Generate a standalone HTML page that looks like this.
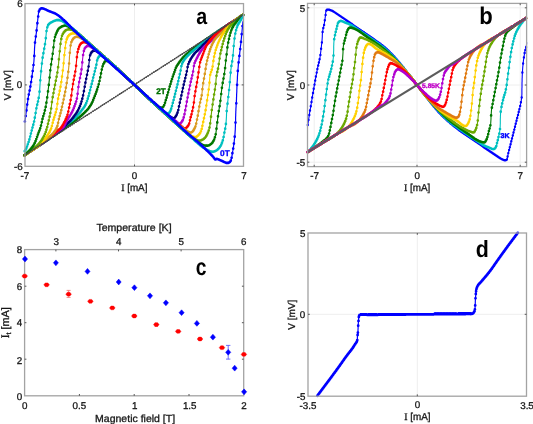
<!DOCTYPE html>
<html><head><meta charset="utf-8"><style>
html,body{margin:0;padding:0;background:#fff;overflow:hidden}
svg{display:block;will-change:transform}
text{font-family:"Liberation Sans",sans-serif;text-rendering:geometricPrecision}
</style></head><body>
<svg width="533" height="424" viewBox="0 0 533 424">
<rect width="533" height="424" fill="#fff"/>
<line x1="134.5" y1="3.6" x2="134.5" y2="166.3" stroke="#eeeeee" stroke-width="1"/>
<line x1="25" y1="84.9" x2="243.5" y2="84.9" stroke="#eeeeee" stroke-width="1"/>
<path d="M24.6 155.2L25.7 154.5L26.7 153.8L27.8 153.1L28.8 152.4L29.9 151.7L30.9 151.1L32.0 150.4L33.1 149.7L34.1 149.0L35.2 148.3L36.2 147.6L37.3 146.9L38.3 146.2L39.4 145.5L40.4 144.8L41.5 144.1L42.6 143.4L43.6 142.7L44.7 141.9L45.7 141.2L46.8 140.5L47.8 139.8L48.9 139.1L50.0 138.4L51.0 137.6L52.1 136.9L53.1 136.2L54.2 135.5L55.2 134.7L56.3 134.0L57.3 133.3L58.4 132.5L59.5 131.8L60.5 131.0L61.6 130.3L62.6 129.6L63.7 128.8L64.7 128.1L65.8 127.3L66.9 126.6L67.9 125.8L69.0 125.1L70.0 124.3L71.1 123.5L72.1 122.8L73.2 122.0L74.2 121.3L75.3 120.5L76.3 119.7L77.4 118.9L78.4 118.0L79.5 117.1L80.6 116.2L81.7 115.2L82.7 114.3L83.8 113.3L84.7 112.5L85.5 111.6L86.4 110.8L87.2 109.9L88.0 109.0L88.7 108.0L89.5 107.0L90.1 106.0L90.8 105.0L91.4 103.9L92.0 102.8L92.5 101.7L93.0 100.6L93.5 99.3L94.0 98.0L94.4 96.9L94.9 95.8L95.3 94.6L95.8 93.3L96.2 92.0L96.7 90.7L97.2 89.3L97.6 87.9L98.1 86.4L98.5 85.0L98.9 83.7L99.2 82.2L99.6 80.7L99.9 79.1L100.2 77.4L100.6 75.8L100.9 74.1L101.2 72.5L101.5 70.9L101.8 69.5L102.1 68.1L102.4 66.9L102.7 65.9L103.0 65.0L103.5 63.9L103.9 63.0L104.4 62.3L105.1 61.3L106.0 60.7L107.0 60.9L108.3 61.5L109.7 62.3L111.0 63.2L112.0 63.9L113.0 64.7L114.0 65.6L114.9 66.5L116.0 67.5L117.0 68.5L117.9 69.3L118.9 70.2L119.9 71.1L120.9 72.1L121.9 73.0L122.9 74.0L124.0 75.0L125.0 76.0L126.0 76.9L127.1 77.9L128.1 78.9L129.2 79.9L130.3 80.9L131.4 81.9L132.4 82.9L133.5 83.9L134.5 84.9L135.5 85.9L136.5 86.8L137.6 87.8L138.5 88.7L139.5 89.7L140.5 90.6L141.5 91.6L142.5 92.5L143.5 93.5L144.5 94.4L145.5 95.4L146.5 96.4L147.5 97.3L148.5 98.3L149.5 99.2L150.5 100.1L151.6 101.1L152.7 102.1L153.8 103.1L155.0 104.0L156.0 104.9L157.1 105.7L158.0 106.3L159.3 107.1L160.4 107.6L161.5 107.8L162.6 107.4L163.5 106.5L164.0 105.6L164.5 104.5L164.9 103.2L165.3 101.8L165.7 100.5L166.1 99.1L166.5 97.8L167.0 96.4L167.4 94.9L167.8 93.4L168.2 92.1L168.6 90.7L168.9 89.3L169.3 87.9L169.7 86.4L170.2 85.0L170.6 83.5L171.0 82.2L171.4 80.9L171.8 79.6L172.3 78.2L172.7 76.9L173.2 75.5L173.6 74.3L174.0 73.1L174.4 72.0L174.9 70.5L175.4 69.1L175.9 67.9L176.5 66.6L177.1 65.5L177.7 64.5L178.4 63.5L179.2 62.5L179.9 61.5L180.7 60.5L181.5 59.4L182.4 58.4L183.2 57.3L184.1 56.4L185.1 55.4L186.2 54.4L187.3 53.5L188.4 52.6L189.5 51.7L190.5 50.8L191.6 50.0L192.6 49.2L193.6 48.4L194.6 47.7L195.6 47.0L196.6 46.2L197.6 45.5L198.6 44.8L199.6 44.0L200.6 43.3L201.6 42.6L202.6 41.9L203.6 41.2L204.6 40.4L205.6 39.7L206.6 39.0L207.6 38.3L208.6 37.6L209.6 36.9L210.6 36.3L211.6 35.6L212.6 34.9L213.6 34.2L214.6 33.5L215.6 32.8L216.6 32.2L217.6 31.5L218.6 30.8L219.6 30.2L220.6 29.5L221.6 28.8L222.6 28.2L223.6 27.5L224.6 26.9L225.6 26.2L226.6 25.5L227.6 24.9L228.6 24.2L229.6 23.6L230.6 22.9L231.6 22.3L232.6 21.6L233.6 21.0L234.6 20.3L235.6 19.7L236.6 19.1L237.6 18.4L238.6 17.8L239.6 17.1L240.6 16.5L241.6 15.8L242.6 15.2L243.6 14.6" fill="none" stroke="#007000" stroke-width="1.15" stroke-linejoin="round"/><path d="M24.6 155.2h0M25.4 154.7h0M26.2 154.2h0M26.9 153.6h0M27.7 153.1h0M28.5 152.6h0M29.3 152.1h0M30.1 151.6h0M30.8 151.1h0M31.6 150.6h0M32.4 150.1h0M33.2 149.6h0M34.0 149.1h0M34.7 148.6h0M35.5 148.0h0M36.3 147.5h0M37.1 147.0h0M37.9 146.5h0M38.6 146.0h0M39.4 145.5h0M40.2 144.9h0M41.0 144.4h0M41.8 143.9h0M42.5 143.4h0M43.3 142.9h0M44.1 142.3h0M44.9 141.8h0M45.7 141.3h0M46.4 140.7h0M47.2 140.2h0M48.0 139.7h0M48.8 139.2h0M49.6 138.6h0M50.3 138.1h0M51.1 137.6h0M51.9 137.0h0M52.7 136.5h0M53.5 135.9h0M54.2 135.4h0M55.0 134.9h0M55.8 134.3h0M56.6 133.8h0M57.4 133.2h0M58.1 132.7h0M58.9 132.2h0M59.7 131.6h0M60.5 131.1h0M61.3 130.5h0M62.0 130.0h0M62.8 129.4h0M63.6 128.9h0M64.4 128.3h0M65.2 127.8h0M65.9 127.2h0M66.7 126.7h0M67.5 126.1h0M68.3 125.5h0M69.1 125.0h0M69.8 124.4h0M70.6 123.9h0M71.4 123.3h0M72.2 122.8h0M73.0 122.2h0M73.7 121.6h0M74.5 121.1h0M75.3 120.5h0M76.1 119.9h0M76.9 119.3h0M77.6 118.6h0M78.4 118.0h0M79.2 117.4h0M80.0 116.7h0M80.8 116.0h0M81.5 115.4h0M82.3 114.7h0M83.1 114.0h0M83.9 113.2h0M84.7 112.5h0M85.4 111.7h0M86.2 111.0h0M87.0 110.1h0M87.8 109.3h0M88.6 108.3h0M89.3 107.2h0M90.1 106.1h0M90.9 104.8h0M91.7 103.4h0M92.5 101.8h0M93.2 99.9h0M94.0 97.9h0M94.8 95.9h0M95.6 93.9h0M96.4 91.7h0M97.1 89.4h0M97.9 87.0h0M98.7 84.3h0M99.5 81.0h0M100.3 77.3h0M101.0 73.4h0M101.8 69.6h0M102.6 66.3h0M103.4 64.1h0M104.2 62.7h0M104.9 61.5h0M105.7 60.9h0M106.5 60.8h0M107.3 61.0h0M108.1 61.3h0M108.8 61.8h0M109.6 62.3h0M110.4 62.8h0M111.2 63.3h0M112.0 63.9h0M112.7 64.5h0M113.5 65.2h0M114.3 65.9h0M115.1 66.7h0M115.9 67.4h0M116.6 68.1h0M117.4 68.8h0M118.2 69.6h0M119.0 70.3h0M119.8 71.0h0M120.5 71.7h0M121.3 72.5h0M122.1 73.2h0M122.9 74.0h0M123.7 74.7h0M124.4 75.4h0M125.2 76.2h0M126.0 76.9h0M126.8 77.6h0M127.6 78.4h0M128.3 79.1h0M129.1 79.8h0M129.9 80.6h0M130.7 81.3h0M131.5 82.0h0M132.2 82.8h0M133.0 83.5h0M133.8 84.2h0M134.6 85.0h0M135.4 85.7h0M136.1 86.5h0M136.9 87.2h0M137.7 87.9h0M138.5 88.7h0M139.3 89.4h0M140.0 90.2h0M140.8 90.9h0M141.6 91.6h0M142.4 92.4h0M143.2 93.1h0M143.9 93.9h0M144.7 94.6h0M145.5 95.4h0M146.3 96.2h0M147.1 96.9h0M147.8 97.6h0M148.6 98.4h0M149.4 99.1h0M150.2 99.8h0M151.0 100.5h0M151.7 101.2h0M152.5 101.9h0M153.3 102.6h0M154.1 103.3h0M154.9 103.9h0M155.6 104.6h0M156.4 105.2h0M157.2 105.8h0M158.0 106.3h0M158.8 106.8h0M159.5 107.2h0M160.3 107.6h0M161.1 107.7h0M161.9 107.7h0M162.7 107.3h0M163.4 106.6h0M164.2 105.1h0M165.0 102.8h0M165.8 100.2h0M166.6 97.7h0M167.3 95.0h0M168.1 92.3h0M168.9 89.5h0M169.7 86.6h0M170.5 84.0h0M171.2 81.4h0M172.0 79.0h0M172.8 76.6h0M173.6 74.3h0M174.4 72.1h0M175.1 69.9h0M175.9 67.8h0M176.7 66.2h0M177.5 64.9h0M178.3 63.8h0M179.0 62.7h0M179.8 61.6h0M180.6 60.6h0M181.4 59.6h0M182.2 58.6h0M182.9 57.7h0M183.7 56.8h0M184.5 56.0h0M185.3 55.3h0M186.1 54.6h0M186.8 53.9h0M187.6 53.3h0M188.4 52.6h0M189.2 51.9h0M190.0 51.3h0M190.7 50.7h0M191.5 50.0h0M192.3 49.4h0M193.1 48.8h0M193.9 48.2h0M194.6 47.7h0M195.4 47.1h0M196.2 46.5h0M197.0 45.9h0M197.8 45.4h0M198.5 44.8h0M199.3 44.2h0M200.1 43.7h0M200.9 43.1h0M201.7 42.5h0M202.4 42.0h0M203.2 41.4h0M204.0 40.9h0M204.8 40.3h0M205.6 39.8h0M206.3 39.2h0M207.1 38.7h0M207.9 38.1h0M208.7 37.6h0M209.5 37.0h0M210.2 36.5h0M211.0 36.0h0M211.8 35.4h0M212.6 34.9h0M213.4 34.4h0M214.1 33.8h0M214.9 33.3h0M215.7 32.8h0M216.5 32.3h0M217.3 31.7h0M218.0 31.2h0M218.8 30.7h0M219.6 30.2h0M220.4 29.6h0M221.2 29.1h0M221.9 28.6h0M222.7 28.1h0M223.5 27.6h0M224.3 27.1h0M225.1 26.6h0M225.8 26.0h0M226.6 25.5h0M227.4 25.0h0M228.2 24.5h0M229.0 24.0h0M229.7 23.5h0M230.5 23.0h0M231.3 22.5h0M232.1 22.0h0M232.9 21.5h0M233.6 21.0h0M234.4 20.5h0M235.2 20.0h0M236.0 19.5h0M236.8 19.0h0M237.5 18.5h0M238.3 17.9h0M239.1 17.4h0M239.9 16.9h0M240.7 16.4h0M241.4 15.9h0M242.2 15.4h0M243.0 14.9h0" fill="none" stroke="#007000" stroke-width="2.7" stroke-linecap="round"/>
<path d="M24.6 155.2L25.6 154.5L26.7 153.8L27.7 153.1L28.8 152.5L29.8 151.8L30.8 151.1L31.9 150.4L32.9 149.7L33.9 149.0L35.0 148.3L36.0 147.6L37.1 146.9L38.1 146.1L39.1 145.4L40.2 144.7L41.2 144.0L42.3 143.2L43.3 142.5L44.3 141.7L45.4 141.0L46.4 140.2L47.4 139.5L48.5 138.7L49.5 138.0L50.6 137.2L51.6 136.4L52.6 135.6L53.7 134.9L54.7 134.1L55.8 133.3L56.8 132.5L57.8 131.7L58.9 130.9L59.9 130.1L60.9 129.3L62.0 128.5L63.0 127.7L64.0 126.9L65.1 126.0L66.1 125.2L67.2 124.3L68.2 123.5L69.3 122.6L70.4 121.8L71.5 120.9L72.5 120.1L73.6 119.2L74.7 118.2L75.7 117.2L76.8 116.1L77.8 115.0L78.7 114.0L79.6 113.0L80.4 112.0L81.3 110.9L82.1 109.9L82.8 108.9L83.6 107.9L84.2 106.9L84.9 105.9L85.5 104.8L86.1 103.6L86.6 102.3L87.1 101.0L87.5 99.5L88.0 98.0L88.4 96.8L88.7 95.5L89.1 94.1L89.5 92.7L89.9 91.2L90.2 89.7L90.6 88.2L91.0 86.6L91.4 85.0L91.7 83.7L92.1 82.3L92.5 80.8L92.8 79.3L93.2 77.7L93.6 76.1L94.0 74.5L94.4 73.0L94.8 71.5L95.1 70.0L95.5 68.6L95.8 67.3L96.0 66.1L96.3 65.0L96.6 63.5L96.8 62.3L97.0 61.1L97.2 60.0L97.6 59.0L98.3 57.6L99.1 56.3L100.1 55.6L101.3 55.7L102.6 56.4L104.0 57.3L104.9 57.9L105.9 58.7L106.9 59.5L107.9 60.3L108.9 61.2L110.0 62.2L111.0 63.0L111.9 63.8L112.9 64.7L113.9 65.7L115.0 66.6L116.0 67.5L117.0 68.5L118.0 69.4L119.0 70.3L120.0 71.2L121.0 72.2L122.0 73.1L123.0 74.1L124.0 75.0L125.0 76.0L126.0 76.9L127.1 77.9L128.1 78.9L129.2 79.9L130.3 80.9L131.3 81.9L132.4 82.9L133.4 83.9L134.5 84.9L135.5 85.9L136.5 86.8L137.5 87.8L138.5 88.7L139.5 89.7L140.5 90.6L141.5 91.6L142.5 92.5L143.5 93.5L144.5 94.4L145.5 95.4L146.5 96.3L147.5 97.3L148.5 98.2L149.5 99.2L150.5 100.1L151.5 101.0L152.5 102.0L153.5 103.0L154.5 103.9L155.6 104.9L156.6 105.8L157.5 106.6L158.5 107.4L159.8 108.4L161.0 109.4L162.2 110.2L163.4 111.0L164.5 111.7L165.9 112.6L167.2 113.4L168.3 113.6L169.2 113.0L169.9 111.8L170.6 110.4L171.1 109.2L171.5 107.8L171.9 106.3L172.3 104.8L172.7 103.3L173.1 101.9L173.4 100.6L173.8 99.2L174.2 97.8L174.5 96.3L174.9 94.8L175.2 93.5L175.6 92.1L175.9 90.7L176.3 89.3L176.7 87.8L177.0 86.4L177.4 84.9L177.7 83.5L178.0 82.1L178.4 80.6L178.7 79.1L179.1 77.6L179.4 76.2L179.7 74.7L180.0 73.3L180.3 72.0L180.6 70.6L180.8 69.1L181.1 67.8L181.3 66.5L181.6 65.2L182.0 64.0L182.6 62.6L183.3 61.3L184.1 60.1L185.0 58.9L185.8 57.9L186.6 57.0L187.4 56.1L188.3 55.2L189.2 54.3L190.3 53.3L191.3 52.3L192.4 51.3L193.5 50.4L194.5 49.5L195.5 48.7L196.6 47.9L197.7 47.0L198.7 46.1L199.8 45.2L200.9 44.2L202.0 43.2L203.1 42.3L204.0 41.5L205.1 40.7L206.1 39.9L207.0 39.2L208.1 38.5L209.1 37.7L210.1 37.0L211.1 36.3L212.1 35.5L213.1 34.8L214.2 34.1L215.2 33.4L216.2 32.7L217.2 32.0L218.2 31.3L219.2 30.6L220.2 29.9L221.3 29.2L222.3 28.5L223.3 27.8L224.3 27.1L225.3 26.4L226.3 25.8L227.4 25.1L228.4 24.4L229.4 23.8L230.4 23.1L231.4 22.4L232.4 21.8L233.4 21.1L234.5 20.4L235.5 19.8L236.5 19.1L237.5 18.5L238.5 17.8L239.5 17.2L240.6 16.5L241.6 15.9L242.6 15.2L243.6 14.6" fill="none" stroke="#00bcbc" stroke-width="1.15" stroke-linejoin="round"/><path d="M24.6 155.2h0M25.4 154.7h0M26.2 154.1h0M26.9 153.6h0M27.7 153.1h0M28.5 152.6h0M29.3 152.1h0M30.1 151.6h0M30.8 151.1h0M31.6 150.6h0M32.4 150.0h0M33.2 149.5h0M34.0 149.0h0M34.7 148.4h0M35.5 147.9h0M36.3 147.4h0M37.1 146.8h0M37.9 146.3h0M38.6 145.8h0M39.4 145.2h0M40.2 144.7h0M41.0 144.1h0M41.8 143.6h0M42.5 143.0h0M43.3 142.5h0M44.1 141.9h0M44.9 141.3h0M45.7 140.8h0M46.4 140.2h0M47.2 139.6h0M48.0 139.1h0M48.8 138.5h0M49.6 137.9h0M50.3 137.4h0M51.1 136.8h0M51.9 136.2h0M52.7 135.6h0M53.5 135.0h0M54.2 134.4h0M55.0 133.8h0M55.8 133.3h0M56.6 132.7h0M57.4 132.1h0M58.1 131.5h0M58.9 130.9h0M59.7 130.3h0M60.5 129.6h0M61.3 129.0h0M62.0 128.4h0M62.8 127.8h0M63.6 127.2h0M64.4 126.6h0M65.2 126.0h0M65.9 125.3h0M66.7 124.7h0M67.5 124.1h0M68.3 123.4h0M69.1 122.8h0M69.8 122.2h0M70.6 121.6h0M71.4 121.0h0M72.2 120.4h0M73.0 119.7h0M73.7 119.1h0M74.5 118.4h0M75.3 117.6h0M76.1 116.8h0M76.9 116.0h0M77.6 115.2h0M78.4 114.3h0M79.2 113.4h0M80.0 112.5h0M80.8 111.6h0M81.5 110.6h0M82.3 109.6h0M83.1 108.6h0M83.9 107.5h0M84.7 106.3h0M85.4 104.9h0M86.2 103.2h0M87.0 101.1h0M87.8 98.7h0M88.6 96.1h0M89.3 93.2h0M90.1 90.1h0M90.9 87.0h0M91.7 83.9h0M92.5 80.8h0M93.2 77.6h0M94.0 74.5h0M94.8 71.3h0M95.6 68.1h0M96.4 64.7h0M97.1 60.4h0M97.9 58.3h0M98.7 56.9h0M99.5 56.0h0M100.3 55.6h0M101.0 55.7h0M101.8 56.0h0M102.6 56.4h0M103.4 56.9h0M104.2 57.4h0M104.9 57.9h0M105.7 58.5h0M106.5 59.1h0M107.3 59.8h0M108.1 60.5h0M108.8 61.1h0M109.6 61.8h0M110.4 62.5h0M111.2 63.2h0M112.0 63.9h0M112.7 64.6h0M113.5 65.3h0M114.3 66.0h0M115.1 66.7h0M115.9 67.4h0M116.6 68.1h0M117.4 68.9h0M118.2 69.6h0M119.0 70.3h0M119.8 71.0h0M120.5 71.8h0M121.3 72.5h0M122.1 73.2h0M122.9 74.0h0M123.7 74.7h0M124.4 75.4h0M125.2 76.2h0M126.0 76.9h0M126.8 77.6h0M127.6 78.4h0M128.3 79.1h0M129.1 79.8h0M129.9 80.6h0M130.7 81.3h0M131.5 82.0h0M132.2 82.8h0M133.0 83.5h0M133.8 84.2h0M134.6 85.0h0M135.4 85.7h0M136.1 86.5h0M136.9 87.2h0M137.7 87.9h0M138.5 88.7h0M139.3 89.4h0M140.0 90.2h0M140.8 90.9h0M141.6 91.6h0M142.4 92.4h0M143.2 93.1h0M143.9 93.9h0M144.7 94.6h0M145.5 95.4h0M146.3 96.1h0M147.1 96.9h0M147.8 97.6h0M148.6 98.3h0M149.4 99.1h0M150.2 99.8h0M151.0 100.5h0M151.7 101.3h0M152.5 102.0h0M153.3 102.8h0M154.1 103.5h0M154.9 104.2h0M155.6 104.9h0M156.4 105.7h0M157.2 106.3h0M158.0 107.0h0M158.8 107.6h0M159.5 108.3h0M160.3 108.9h0M161.1 109.4h0M161.9 110.0h0M162.7 110.5h0M163.4 111.0h0M164.2 111.5h0M165.0 112.0h0M165.8 112.6h0M166.6 113.0h0M167.3 113.4h0M168.1 113.6h0M168.9 113.2h0M169.7 112.2h0M170.5 110.7h0M171.2 108.7h0M172.0 106.0h0M172.8 102.9h0M173.6 100.0h0M174.4 96.9h0M175.1 93.9h0M175.9 90.8h0M176.7 87.6h0M177.5 84.4h0M178.3 81.1h0M179.0 77.7h0M179.8 74.2h0M180.6 70.5h0M181.4 66.1h0M182.2 63.6h0M182.9 62.0h0M183.7 60.7h0M184.5 59.6h0M185.3 58.5h0M186.1 57.6h0M186.8 56.7h0M187.6 55.9h0M188.4 55.1h0M189.2 54.3h0M190.0 53.6h0M190.7 52.8h0M191.5 52.1h0M192.3 51.4h0M193.1 50.8h0M193.9 50.1h0M194.6 49.5h0M195.4 48.8h0M196.2 48.2h0M197.0 47.6h0M197.8 46.9h0M198.5 46.3h0M199.3 45.6h0M200.1 44.9h0M200.9 44.2h0M201.7 43.5h0M202.4 42.8h0M203.2 42.2h0M204.0 41.5h0M204.8 40.9h0M205.6 40.3h0M206.3 39.7h0M207.1 39.2h0M207.9 38.6h0M208.7 38.0h0M209.5 37.4h0M210.2 36.9h0M211.0 36.3h0M211.8 35.8h0M212.6 35.2h0M213.4 34.6h0M214.1 34.1h0M214.9 33.5h0M215.7 33.0h0M216.5 32.5h0M217.3 31.9h0M218.0 31.4h0M218.8 30.8h0M219.6 30.3h0M220.4 29.8h0M221.2 29.2h0M221.9 28.7h0M222.7 28.2h0M223.5 27.7h0M224.3 27.1h0M225.1 26.6h0M225.8 26.1h0M226.6 25.6h0M227.4 25.1h0M228.2 24.5h0M229.0 24.0h0M229.7 23.5h0M230.5 23.0h0M231.3 22.5h0M232.1 22.0h0M232.9 21.5h0M233.6 21.0h0M234.4 20.5h0M235.2 20.0h0M236.0 19.5h0M236.8 19.0h0M237.5 18.5h0M238.3 18.0h0M239.1 17.4h0M239.9 16.9h0M240.7 16.4h0M241.4 15.9h0M242.2 15.4h0M243.0 14.9h0" fill="none" stroke="#00bcbc" stroke-width="2.7" stroke-linecap="round"/>
<path d="M24.6 155.2L25.6 154.5L26.7 153.8L27.7 153.2L28.7 152.5L29.8 151.8L30.8 151.1L31.8 150.5L32.8 149.8L33.9 149.1L34.9 148.4L35.9 147.7L37.0 147.0L38.0 146.3L39.0 145.6L40.1 144.9L41.1 144.2L42.1 143.5L43.2 142.8L44.2 142.0L45.2 141.3L46.2 140.6L47.3 139.9L48.3 139.1L49.3 138.4L50.4 137.7L51.4 136.9L52.4 136.2L53.5 135.5L54.5 134.7L55.5 134.0L56.5 133.2L57.6 132.5L58.6 131.7L59.6 131.0L60.7 130.2L61.7 129.4L62.7 128.5L63.8 127.4L64.8 126.3L65.9 125.2L66.8 124.4L67.6 123.5L68.5 122.7L69.4 121.8L70.2 120.9L71.1 119.9L71.9 118.9L72.8 117.9L73.6 116.8L74.4 115.8L75.1 114.8L75.8 113.8L76.5 112.8L77.2 111.8L77.8 110.7L78.4 109.6L78.9 108.4L79.4 107.2L79.9 106.0L80.4 104.8L80.9 103.5L81.3 102.2L81.7 100.9L82.1 99.5L82.5 98.0L82.8 96.8L83.1 95.5L83.3 94.1L83.6 92.7L83.9 91.2L84.1 89.7L84.4 88.2L84.7 86.6L85.0 85.0L85.3 83.7L85.5 82.3L85.8 80.9L86.1 79.4L86.4 77.9L86.7 76.3L87.0 74.8L87.3 73.3L87.6 71.8L87.9 70.3L88.1 68.9L88.4 67.5L88.6 66.2L88.8 65.0L89.0 63.4L89.2 61.9L89.3 60.5L89.4 59.1L89.6 57.8L89.7 56.7L90.0 55.6L90.5 54.3L91.0 53.1L91.7 52.2L92.4 51.4L93.3 50.8L94.2 50.5L95.2 50.6L96.2 51.1L97.4 51.8L98.5 52.5L99.5 53.1L100.4 53.8L101.4 54.6L102.4 55.5L103.5 56.3L104.5 57.2L105.5 58.0L106.4 58.9L107.4 59.8L108.4 60.7L109.5 61.6L110.5 62.6L111.5 63.5L112.5 64.4L113.5 65.3L114.5 66.2L115.5 67.1L116.5 68.1L117.5 69.0L118.5 69.9L119.5 70.8L120.5 71.7L121.5 72.7L122.5 73.6L123.6 74.6L124.6 75.6L125.6 76.5L126.6 77.5L127.6 78.4L128.5 79.3L129.5 80.2L130.5 81.2L131.5 82.1L132.5 83.0L133.5 83.9L134.5 84.9L135.4 85.8L136.4 86.7L137.4 87.7L138.4 88.6L139.5 89.6L140.5 90.6L141.5 91.5L142.5 92.5L143.5 93.5L144.5 94.4L145.5 95.4L146.5 96.3L147.5 97.3L148.5 98.2L149.5 99.2L150.5 100.1L151.5 101.0L152.4 101.9L153.4 102.8L154.4 103.7L155.4 104.7L156.4 105.6L157.4 106.5L158.5 107.4L159.5 108.3L160.6 109.2L161.8 110.2L162.9 111.1L164.1 112.1L165.3 113.1L166.5 114.0L167.6 114.8L168.7 115.6L169.6 116.3L170.5 116.8L171.8 117.6L173.0 118.2L174.0 118.3L174.9 117.7L175.6 116.7L176.3 115.5L176.8 114.5L177.3 113.4L177.6 112.2L178.0 111.0L178.3 109.8L178.6 108.7L178.8 107.5L179.1 106.1L179.4 104.9L179.6 103.6L179.9 102.2L180.2 100.7L180.6 99.2L180.9 97.7L181.2 96.2L181.5 94.9L181.8 93.5L182.1 92.1L182.4 90.6L182.7 89.2L183.0 87.7L183.4 86.3L183.7 84.9L184.0 83.5L184.3 82.0L184.7 80.5L185.0 79.1L185.4 77.6L185.7 76.1L186.1 74.7L186.4 73.3L186.7 72.0L187.0 70.6L187.3 69.2L187.5 67.8L187.7 66.5L188.0 65.2L188.4 64.0L188.9 62.6L189.5 61.3L190.2 60.1L190.9 58.9L191.5 57.9L192.2 56.8L192.8 55.8L193.5 54.8L194.3 53.8L195.1 52.9L196.0 52.1L196.8 51.2L197.7 50.4L198.6 49.6L199.5 48.7L200.3 47.8L201.2 47.0L202.0 46.1L202.8 45.3L203.9 44.3L204.9 43.3L205.9 42.3L207.0 41.4L208.0 40.4L209.1 39.5L210.1 38.6L211.2 37.7L212.2 36.8L213.3 35.9L214.3 35.0L215.4 34.2L216.4 33.4L217.4 32.5L218.5 31.7L219.5 30.9L220.6 30.2L221.6 29.4L222.7 28.6L223.7 27.8L224.8 27.1L225.8 26.4L226.9 25.6L227.9 24.9L229.0 24.2L230.0 23.5L231.0 22.7L232.1 22.0L233.1 21.4L234.2 20.7L235.2 20.0L236.3 19.3L237.3 18.6L238.4 17.9L239.4 17.2L240.5 16.6L241.5 15.9L242.6 15.2L243.6 14.6" fill="none" stroke="#00007a" stroke-width="1.15" stroke-linejoin="round"/><path d="M24.6 155.2h0M25.4 154.7h0M26.2 154.1h0M26.9 153.6h0M27.7 153.1h0M28.5 152.6h0M29.3 152.1h0M30.1 151.6h0M30.8 151.1h0M31.6 150.6h0M32.4 150.1h0M33.2 149.5h0M34.0 149.0h0M34.7 148.5h0M35.5 148.0h0M36.3 147.5h0M37.1 146.9h0M37.9 146.4h0M38.6 145.9h0M39.4 145.3h0M40.2 144.8h0M41.0 144.3h0M41.8 143.7h0M42.5 143.2h0M43.3 142.6h0M44.1 142.1h0M44.9 141.6h0M45.7 141.0h0M46.4 140.5h0M47.2 139.9h0M48.0 139.4h0M48.8 138.8h0M49.6 138.3h0M50.3 137.7h0M51.1 137.1h0M51.9 136.6h0M52.7 136.0h0M53.5 135.5h0M54.2 134.9h0M55.0 134.3h0M55.8 133.8h0M56.6 133.2h0M57.4 132.6h0M58.1 132.0h0M58.9 131.5h0M59.7 130.9h0M60.5 130.4h0M61.3 129.8h0M62.0 129.1h0M62.8 128.4h0M63.6 127.6h0M64.4 126.8h0M65.2 126.0h0M65.9 125.2h0M66.7 124.4h0M67.5 123.6h0M68.3 122.9h0M69.1 122.1h0M69.8 121.3h0M70.6 120.4h0M71.4 119.5h0M72.2 118.6h0M73.0 117.7h0M73.7 116.7h0M74.5 115.6h0M75.3 114.6h0M76.1 113.5h0M76.9 112.3h0M77.6 111.0h0M78.4 109.5h0M79.2 107.8h0M80.0 105.9h0M80.8 103.8h0M81.5 101.5h0M82.3 98.7h0M83.1 95.3h0M83.9 91.2h0M84.7 86.8h0M85.4 82.7h0M86.2 78.8h0M87.0 74.8h0M87.8 70.8h0M88.6 66.5h0M89.3 60.0h0M90.1 55.3h0M90.9 53.4h0M91.7 52.2h0M92.5 51.4h0M93.2 50.8h0M94.0 50.6h0M94.8 50.6h0M95.6 50.8h0M96.4 51.2h0M97.1 51.7h0M97.9 52.1h0M98.7 52.6h0M99.5 53.1h0M100.3 53.7h0M101.0 54.3h0M101.8 55.0h0M102.6 55.6h0M103.4 56.3h0M104.2 56.9h0M104.9 57.6h0M105.7 58.2h0M106.5 58.9h0M107.3 59.6h0M108.1 60.3h0M108.8 61.0h0M109.6 61.8h0M110.4 62.5h0M111.2 63.2h0M112.0 63.9h0M112.7 64.6h0M113.5 65.3h0M114.3 66.0h0M115.1 66.8h0M115.9 67.5h0M116.6 68.2h0M117.4 68.9h0M118.2 69.6h0M119.0 70.3h0M119.8 71.1h0M120.5 71.8h0M121.3 72.5h0M122.1 73.2h0M122.9 74.0h0M123.7 74.7h0M124.4 75.4h0M125.2 76.2h0M126.0 76.9h0M126.8 77.6h0M127.6 78.4h0M128.3 79.1h0M129.1 79.8h0M129.9 80.6h0M130.7 81.3h0M131.5 82.0h0M132.2 82.8h0M133.0 83.5h0M133.8 84.2h0M134.6 85.0h0M135.4 85.7h0M136.1 86.5h0M136.9 87.2h0M137.7 87.9h0M138.5 88.7h0M139.3 89.4h0M140.0 90.2h0M140.8 90.9h0M141.6 91.6h0M142.4 92.4h0M143.2 93.1h0M143.9 93.9h0M144.7 94.6h0M145.5 95.4h0M146.3 96.1h0M147.1 96.9h0M147.8 97.6h0M148.6 98.3h0M149.4 99.1h0M150.2 99.8h0M151.0 100.5h0M151.7 101.3h0M152.5 102.0h0M153.3 102.7h0M154.1 103.5h0M154.9 104.2h0M155.6 104.9h0M156.4 105.6h0M157.2 106.3h0M158.0 107.0h0M158.8 107.7h0M159.5 108.3h0M160.3 109.0h0M161.1 109.6h0M161.9 110.3h0M162.7 110.9h0M163.4 111.6h0M164.2 112.2h0M165.0 112.8h0M165.8 113.4h0M166.6 114.0h0M167.3 114.6h0M168.1 115.2h0M168.9 115.8h0M169.7 116.3h0M170.5 116.8h0M171.2 117.3h0M172.0 117.7h0M172.8 118.1h0M173.6 118.3h0M174.4 118.1h0M175.1 117.3h0M175.9 116.2h0M176.7 114.7h0M177.5 112.7h0M178.3 110.0h0M179.0 106.4h0M179.8 102.7h0M180.6 99.0h0M181.4 95.4h0M182.2 91.8h0M182.9 88.2h0M183.7 84.7h0M184.5 81.3h0M185.3 78.1h0M186.1 74.8h0M186.8 71.3h0M187.6 67.1h0M188.4 64.0h0M189.2 62.1h0M190.0 60.6h0M190.7 59.2h0M191.5 57.8h0M192.3 56.6h0M193.1 55.4h0M193.9 54.4h0M194.6 53.4h0M195.4 52.6h0M196.2 51.8h0M197.0 51.1h0M197.8 50.4h0M198.5 49.7h0M199.3 48.9h0M200.1 48.1h0M200.9 47.3h0M201.7 46.5h0M202.4 45.7h0M203.2 44.9h0M204.0 44.1h0M204.8 43.4h0M205.6 42.7h0M206.3 41.9h0M207.1 41.2h0M207.9 40.5h0M208.7 39.8h0M209.5 39.1h0M210.2 38.5h0M211.0 37.8h0M211.8 37.1h0M212.6 36.5h0M213.4 35.8h0M214.1 35.2h0M214.9 34.6h0M215.7 33.9h0M216.5 33.3h0M217.3 32.7h0M218.0 32.1h0M218.8 31.5h0M219.6 30.9h0M220.4 30.3h0M221.2 29.7h0M221.9 29.1h0M222.7 28.6h0M223.5 28.0h0M224.3 27.4h0M225.1 26.9h0M225.8 26.3h0M226.6 25.8h0M227.4 25.2h0M228.2 24.7h0M229.0 24.2h0M229.7 23.6h0M230.5 23.1h0M231.3 22.6h0M232.1 22.1h0M232.9 21.5h0M233.6 21.0h0M234.4 20.5h0M235.2 20.0h0M236.0 19.5h0M236.8 19.0h0M237.5 18.5h0M238.3 18.0h0M239.1 17.5h0M239.9 16.9h0M240.7 16.4h0M241.4 15.9h0M242.2 15.4h0M243.0 14.9h0" fill="none" stroke="#00007a" stroke-width="2.7" stroke-linecap="round"/>
<path d="M24.6 155.2L25.7 154.5L26.8 153.8L27.8 153.1L28.9 152.3L30.0 151.6L31.1 150.9L32.2 150.2L33.2 149.4L34.3 148.7L35.4 148.0L36.5 147.2L37.6 146.5L38.6 145.7L39.7 145.0L40.8 144.2L41.9 143.4L43.0 142.7L44.0 141.9L45.1 141.1L46.2 140.3L47.3 139.5L48.4 138.7L49.5 137.9L50.5 137.1L51.6 136.3L52.7 135.5L53.8 134.6L54.9 133.8L55.9 133.0L57.0 132.1L58.1 131.3L59.2 130.4L60.3 129.6L61.4 128.8L62.5 128.0L63.5 127.0L64.3 125.9L65.0 124.5L65.6 123.1L66.3 121.8L67.0 120.5L67.8 119.3L68.5 118.0L69.3 116.7L70.0 115.5L70.7 114.4L71.4 113.2L72.1 111.9L72.7 110.7L73.3 109.4L73.8 108.0L74.4 106.6L74.8 105.2L75.3 103.9L75.7 102.7L76.0 101.6L76.4 100.5L76.7 99.3L77.0 98.0L77.2 96.8L77.4 95.5L77.6 94.1L77.8 92.6L77.9 91.2L78.1 89.6L78.3 88.1L78.5 86.5L78.7 85.0L78.9 83.6L79.2 82.2L79.4 80.7L79.7 79.3L80.0 77.8L80.3 76.3L80.6 74.9L80.9 73.4L81.1 71.9L81.4 70.4L81.6 69.0L81.8 67.6L82.0 66.1L82.1 64.7L82.2 63.2L82.4 61.7L82.5 60.3L82.6 58.9L82.8 57.5L82.9 56.2L83.1 55.0L83.3 53.9L83.6 52.5L83.8 51.2L84.1 50.0L84.5 48.9L85.0 48.0L85.9 46.9L87.1 46.2L88.3 45.8L89.4 46.0L90.6 46.7L91.8 47.5L93.0 48.3L94.2 49.0L95.3 49.7L96.5 50.5L97.8 51.3L99.0 52.2L100.0 53.0L100.9 53.9L101.9 54.8L103.0 55.7L104.0 56.6L105.0 57.6L106.0 58.5L107.0 59.5L108.0 60.3L109.0 61.2L110.0 62.1L111.0 63.0L112.0 63.9L113.0 64.8L114.0 65.7L115.0 66.7L116.0 67.6L117.0 68.5L117.9 69.4L118.9 70.3L119.9 71.2L120.9 72.1L121.9 73.1L123.0 74.1L124.0 75.0L125.0 76.0L126.0 76.9L127.1 77.9L128.2 79.0L129.3 80.0L130.4 81.0L131.5 82.0L132.5 83.0L133.5 84.0L134.5 84.9L135.6 85.9L136.6 86.9L137.6 87.8L138.6 88.8L139.6 89.7L140.5 90.6L141.5 91.6L142.5 92.5L143.5 93.5L144.5 94.4L145.5 95.4L146.5 96.3L147.5 97.3L148.5 98.2L149.5 99.2L150.5 100.1L151.5 101.0L152.5 101.9L153.5 102.9L154.5 103.8L155.5 104.7L156.5 105.6L157.5 106.5L158.5 107.4L159.5 108.4L160.5 109.3L161.4 110.2L162.4 111.1L163.4 112.1L164.4 113.0L165.4 113.9L166.5 114.7L167.7 115.6L168.9 116.5L170.2 117.4L171.5 118.3L172.7 119.1L173.9 119.9L175.0 120.6L176.0 121.3L177.3 122.4L178.4 123.4L179.5 123.8L180.3 123.4L181.2 122.6L181.9 121.6L182.6 120.5L183.2 119.3L183.6 117.9L184.0 116.4L184.3 115.0L184.6 113.9L184.8 112.7L185.0 111.6L185.3 110.3L185.5 109.0L185.7 107.8L186.0 106.4L186.2 105.0L186.5 103.6L186.8 102.1L187.0 100.6L187.3 99.1L187.6 97.6L187.9 96.2L188.1 94.9L188.4 93.4L188.7 92.0L189.0 90.6L189.3 89.1L189.5 87.7L189.8 86.2L190.1 84.9L190.4 83.5L190.7 82.0L191.1 80.5L191.4 79.0L191.8 77.5L192.1 76.1L192.4 74.7L192.7 73.3L193.0 72.0L193.2 70.6L193.4 69.2L193.6 67.8L193.8 66.5L194.0 65.2L194.3 64.0L194.7 62.7L195.2 61.6L195.7 60.4L196.3 59.3L196.9 58.1L197.5 56.9L198.2 55.7L198.9 54.4L199.6 53.3L200.3 52.1L201.0 51.0L201.7 50.0L202.4 49.0L203.1 48.0L204.0 47.0L204.9 46.1L205.9 45.3L206.9 44.4L208.0 43.6L209.1 42.8L210.0 42.0L210.9 41.2L211.8 40.2L212.6 39.3L213.4 38.4L214.2 37.6L215.0 36.7L215.8 35.9L216.6 35.1L217.4 34.2L218.5 33.2L219.6 32.2L220.7 31.2L221.8 30.2L222.9 29.3L224.0 28.4L225.1 27.5L226.2 26.6L227.2 25.8L228.3 24.9L229.4 24.1L230.5 23.3L231.6 22.5L232.7 21.8L233.8 21.0L234.9 20.3L236.0 19.5L237.1 18.8L238.1 18.1L239.2 17.4L240.3 16.7L241.4 16.0L242.5 15.3L243.6 14.6" fill="none" stroke="#b000d0" stroke-width="1.15" stroke-linejoin="round"/><path d="M24.6 155.2h0M25.4 154.7h0M26.2 154.1h0M26.9 153.6h0M27.7 153.1h0M28.5 152.6h0M29.3 152.1h0M30.1 151.6h0M30.8 151.1h0M31.6 150.5h0M32.4 150.0h0M33.2 149.5h0M34.0 149.0h0M34.7 148.4h0M35.5 147.9h0M36.3 147.4h0M37.1 146.8h0M37.9 146.3h0M38.6 145.7h0M39.4 145.2h0M40.2 144.6h0M41.0 144.1h0M41.8 143.5h0M42.5 143.0h0M43.3 142.4h0M44.1 141.8h0M44.9 141.3h0M45.7 140.7h0M46.4 140.1h0M47.2 139.6h0M48.0 139.0h0M48.8 138.4h0M49.6 137.8h0M50.3 137.2h0M51.1 136.7h0M51.9 136.1h0M52.7 135.5h0M53.5 134.9h0M54.2 134.3h0M55.0 133.7h0M55.8 133.1h0M56.6 132.5h0M57.4 131.9h0M58.1 131.3h0M58.9 130.6h0M59.7 130.0h0M60.5 129.4h0M61.3 128.9h0M62.0 128.3h0M62.8 127.7h0M63.6 126.9h0M64.4 125.7h0M65.2 124.1h0M65.9 122.5h0M66.7 121.1h0M67.5 119.7h0M68.3 118.4h0M69.1 117.1h0M69.8 115.8h0M70.6 114.5h0M71.4 113.2h0M72.2 111.7h0M73.0 110.1h0M73.7 108.3h0M74.5 106.2h0M75.3 103.9h0M76.1 101.5h0M76.9 98.6h0M77.6 93.8h0M78.4 87.0h0M79.2 82.1h0M80.0 78.0h0M80.8 73.9h0M81.5 69.4h0M82.3 62.4h0M83.1 55.0h0M83.9 50.9h0M84.7 48.6h0M85.4 47.5h0M86.2 46.8h0M87.0 46.2h0M87.8 45.9h0M88.6 45.9h0M89.3 46.0h0M90.1 46.4h0M90.9 46.9h0M91.7 47.4h0M92.5 47.9h0M93.2 48.4h0M94.0 48.9h0M94.8 49.4h0M95.6 49.9h0M96.4 50.4h0M97.1 50.9h0M97.9 51.4h0M98.7 52.0h0M99.5 52.6h0M100.3 53.3h0M101.0 53.9h0M101.8 54.6h0M102.6 55.4h0M103.4 56.1h0M104.2 56.8h0M104.9 57.5h0M105.7 58.3h0M106.5 59.0h0M107.3 59.7h0M108.1 60.4h0M108.8 61.1h0M109.6 61.8h0M110.4 62.5h0M111.2 63.2h0M112.0 63.9h0M112.7 64.6h0M113.5 65.3h0M114.3 66.0h0M115.1 66.7h0M115.9 67.4h0M116.6 68.2h0M117.4 68.9h0M118.2 69.6h0M119.0 70.3h0M119.8 71.1h0M120.5 71.8h0M121.3 72.5h0M122.1 73.2h0M122.9 74.0h0M123.7 74.7h0M124.4 75.4h0M125.2 76.2h0M126.0 76.9h0M126.8 77.6h0M127.6 78.4h0M128.3 79.1h0M129.1 79.8h0M129.9 80.6h0M130.7 81.3h0M131.5 82.0h0M132.2 82.8h0M133.0 83.5h0M133.8 84.2h0M134.6 85.0h0M135.4 85.7h0M136.1 86.5h0M136.9 87.2h0M137.7 87.9h0M138.5 88.7h0M139.3 89.4h0M140.0 90.2h0M140.8 90.9h0M141.6 91.6h0M142.4 92.4h0M143.2 93.1h0M143.9 93.9h0M144.7 94.6h0M145.5 95.4h0M146.3 96.1h0M147.1 96.9h0M147.8 97.6h0M148.6 98.3h0M149.4 99.1h0M150.2 99.8h0M151.0 100.5h0M151.7 101.3h0M152.5 102.0h0M153.3 102.7h0M154.1 103.4h0M154.9 104.1h0M155.6 104.8h0M156.4 105.5h0M157.2 106.3h0M158.0 107.0h0M158.8 107.7h0M159.5 108.4h0M160.3 109.1h0M161.1 109.9h0M161.9 110.6h0M162.7 111.4h0M163.4 112.1h0M164.2 112.8h0M165.0 113.5h0M165.8 114.1h0M166.6 114.8h0M167.3 115.4h0M168.1 115.9h0M168.9 116.5h0M169.7 117.0h0M170.5 117.6h0M171.2 118.1h0M172.0 118.6h0M172.8 119.2h0M173.6 119.7h0M174.4 120.2h0M175.1 120.7h0M175.9 121.2h0M176.7 121.9h0M177.5 122.6h0M178.3 123.3h0M179.0 123.6h0M179.8 123.7h0M180.6 123.2h0M181.4 122.3h0M182.2 121.2h0M182.9 119.8h0M183.7 117.4h0M184.5 114.2h0M185.3 110.2h0M186.1 106.0h0M186.8 101.7h0M187.6 97.5h0M188.4 93.4h0M189.2 89.5h0M190.0 85.6h0M190.7 81.9h0M191.5 78.6h0M192.3 75.3h0M193.1 71.5h0M193.9 66.0h0M194.6 63.0h0M195.4 61.1h0M196.2 59.5h0M197.0 57.9h0M197.8 56.4h0M198.5 55.0h0M199.3 53.7h0M200.1 52.4h0M200.9 51.2h0M201.7 50.0h0M202.4 48.9h0M203.2 47.9h0M204.0 47.0h0M204.8 46.2h0M205.6 45.5h0M206.3 44.9h0M207.1 44.3h0M207.9 43.7h0M208.7 43.1h0M209.5 42.4h0M210.2 41.8h0M211.0 41.1h0M211.8 40.3h0M212.6 39.4h0M213.4 38.5h0M214.1 37.6h0M214.9 36.8h0M215.7 36.0h0M216.5 35.2h0M217.3 34.4h0M218.0 33.7h0M218.8 32.9h0M219.6 32.2h0M220.4 31.5h0M221.2 30.8h0M221.9 30.1h0M222.7 29.4h0M223.5 28.8h0M224.3 28.1h0M225.1 27.5h0M225.8 26.9h0M226.6 26.3h0M227.4 25.6h0M228.2 25.1h0M229.0 24.5h0M229.7 23.9h0M230.5 23.3h0M231.3 22.8h0M232.1 22.2h0M232.9 21.7h0M233.6 21.1h0M234.4 20.6h0M235.2 20.0h0M236.0 19.5h0M236.8 19.0h0M237.5 18.5h0M238.3 18.0h0M239.1 17.5h0M239.9 17.0h0M240.7 16.4h0M241.4 15.9h0M242.2 15.4h0M243.0 14.9h0" fill="none" stroke="#b000d0" stroke-width="2.7" stroke-linecap="round"/>
<path d="M24.6 155.2L25.6 154.5L26.6 153.8L27.6 153.2L28.6 152.5L29.6 151.9L30.6 151.2L31.6 150.5L32.6 149.8L33.6 149.1L34.7 148.4L35.7 147.7L36.7 147.0L37.7 146.3L38.7 145.5L39.7 144.8L40.7 144.1L41.7 143.3L42.7 142.6L43.7 141.8L44.7 141.0L45.7 140.3L46.7 139.5L47.7 138.7L48.7 137.9L49.7 137.1L50.7 136.3L51.8 135.5L52.8 134.7L53.8 133.9L54.8 133.1L55.8 132.2L56.8 131.4L57.8 130.6L58.8 129.8L59.8 129.0L60.8 128.0L61.5 127.1L62.2 126.0L62.9 124.8L63.6 123.6L64.2 122.4L64.9 121.1L65.5 119.9L66.1 118.6L66.7 117.2L67.2 115.8L67.6 114.6L67.9 113.3L68.2 111.9L68.5 110.6L68.8 109.2L69.0 107.8L69.3 106.5L69.6 105.1L69.9 103.7L70.2 102.3L70.5 101.0L70.7 99.5L71.0 98.0L71.2 96.7L71.4 95.3L71.6 93.9L71.8 92.5L72.0 91.0L72.2 89.5L72.4 88.0L72.6 86.5L72.8 85.0L73.0 83.6L73.3 82.2L73.6 80.7L73.8 79.3L74.1 77.8L74.4 76.3L74.7 74.9L75.0 73.4L75.2 71.9L75.5 70.4L75.7 69.0L75.9 67.6L76.0 66.2L76.2 64.7L76.3 63.2L76.4 61.8L76.6 60.3L76.7 58.9L76.8 57.6L77.0 56.3L77.1 55.0L77.3 53.9L77.6 52.3L77.9 50.9L78.2 49.5L78.6 48.2L79.0 47.1L79.5 45.8L80.0 44.7L80.7 43.8L81.7 43.0L82.9 42.4L84.1 42.1L85.1 42.3L86.2 42.7L87.4 43.3L88.5 44.0L89.7 44.7L90.8 45.5L92.0 46.3L93.3 47.2L94.5 48.2L95.5 49.0L96.4 49.8L97.4 50.7L98.5 51.7L99.5 52.6L100.5 53.5L101.5 54.5L102.5 55.4L103.5 56.3L104.5 57.2L105.5 58.1L106.5 59.0L107.5 59.9L108.5 60.8L109.5 61.7L110.5 62.6L111.5 63.5L112.5 64.4L113.5 65.3L114.5 66.2L115.5 67.1L116.5 68.0L117.5 68.9L118.5 69.9L119.5 70.8L120.5 71.7L121.5 72.7L122.5 73.6L123.5 74.6L124.5 75.5L125.5 76.4L126.5 77.4L127.5 78.3L128.5 79.3L129.5 80.2L130.5 81.1L131.5 82.1L132.5 83.0L133.5 84.0L134.5 84.9L135.5 85.8L136.5 86.8L137.5 87.7L138.5 88.7L139.5 89.6L140.5 90.6L141.5 91.5L142.5 92.5L143.5 93.5L144.5 94.4L145.5 95.4L146.5 96.3L147.5 97.3L148.5 98.2L149.5 99.2L150.5 100.1L151.5 101.0L152.5 101.9L153.5 102.9L154.5 103.8L155.5 104.7L156.5 105.6L157.5 106.5L158.5 107.4L159.5 108.4L160.5 109.3L161.5 110.2L162.5 111.1L163.5 112.0L164.5 112.9L165.5 113.8L166.5 114.7L167.5 115.7L168.5 116.6L169.5 117.6L170.5 118.6L171.5 119.5L172.5 120.4L173.5 121.2L174.5 122.0L175.7 122.9L177.0 123.6L178.2 124.3L179.4 124.9L180.5 125.6L181.6 126.5L182.7 127.5L183.8 128.2L184.8 128.5L185.7 128.2L186.7 127.5L187.5 126.5L188.3 125.5L188.8 124.5L189.3 123.2L189.6 121.9L189.9 120.5L190.2 119.2L190.5 118.0L190.9 116.8L191.2 115.6L191.5 114.5L191.8 113.2L192.1 112.0L192.4 110.7L192.7 109.3L193.0 107.9L193.2 106.4L193.5 105.0L193.7 103.6L193.9 102.2L194.1 100.8L194.2 99.4L194.4 97.9L194.6 96.5L194.8 95.0L195.0 93.6L195.3 92.2L195.5 90.7L195.8 89.3L196.0 87.8L196.3 86.4L196.6 84.9L196.8 83.5L197.0 82.1L197.3 80.6L197.5 79.2L197.7 77.7L197.9 76.3L198.2 74.8L198.4 73.4L198.6 72.0L198.8 70.6L199.0 69.3L199.2 67.9L199.4 66.6L199.6 65.2L199.8 63.9L200.0 62.7L200.3 61.5L200.8 60.0L201.3 58.5L201.8 57.2L202.3 55.9L202.8 54.7L203.2 53.5L203.6 52.5L204.0 51.3L204.4 50.2L204.9 49.1L205.4 47.9L205.9 46.7L206.5 45.5L207.2 44.3L208.0 43.2L208.8 42.0L209.6 40.9L210.5 39.8L211.4 38.7L212.4 37.6L213.4 36.6L214.4 35.6L215.3 34.7L216.4 33.7L217.4 32.9L218.4 32.1L219.5 31.3L220.5 30.4L221.6 29.6L222.6 28.8L223.7 28.0L224.7 27.3L225.8 26.5L226.8 25.7L227.9 25.0L228.9 24.3L230.0 23.5L231.0 22.8L232.1 22.1L233.1 21.4L234.2 20.7L235.2 20.0L236.3 19.3L237.3 18.6L238.4 17.9L239.4 17.3L240.5 16.6L241.5 15.9L242.6 15.2L243.6 14.6" fill="none" stroke="#ff0000" stroke-width="1.15" stroke-linejoin="round"/><path d="M24.6 155.2h0M25.4 154.6h0M26.2 154.1h0M26.9 153.6h0M27.7 153.1h0M28.5 152.6h0M29.3 152.1h0M30.1 151.6h0M30.8 151.0h0M31.6 150.5h0M32.4 150.0h0M33.2 149.4h0M34.0 148.9h0M34.7 148.3h0M35.5 147.8h0M36.3 147.2h0M37.1 146.7h0M37.9 146.1h0M38.6 145.6h0M39.4 145.0h0M40.2 144.4h0M41.0 143.8h0M41.8 143.3h0M42.5 142.7h0M43.3 142.1h0M44.1 141.5h0M44.9 140.9h0M45.7 140.3h0M46.4 139.7h0M47.2 139.1h0M48.0 138.5h0M48.8 137.9h0M49.6 137.3h0M50.3 136.7h0M51.1 136.0h0M51.9 135.4h0M52.7 134.8h0M53.5 134.1h0M54.2 133.5h0M55.0 132.9h0M55.8 132.2h0M56.6 131.6h0M57.4 130.9h0M58.1 130.3h0M58.9 129.7h0M59.7 129.1h0M60.5 128.3h0M61.3 127.4h0M62.0 126.3h0M62.8 125.0h0M63.6 123.5h0M64.4 122.1h0M65.2 120.5h0M65.9 118.9h0M66.7 117.1h0M67.5 114.8h0M68.3 111.6h0M69.1 107.7h0M69.8 104.0h0M70.6 100.1h0M71.4 95.4h0M72.2 89.3h0M73.0 84.0h0M73.7 79.8h0M74.5 75.8h0M75.3 71.5h0M76.1 65.8h0M76.9 57.2h0M77.6 52.1h0M78.4 48.9h0M79.2 46.6h0M80.0 44.8h0M80.8 43.8h0M81.5 43.1h0M82.3 42.7h0M83.1 42.3h0M83.9 42.1h0M84.7 42.2h0M85.4 42.4h0M86.2 42.7h0M87.0 43.1h0M87.8 43.6h0M88.6 44.0h0M89.3 44.5h0M90.1 45.0h0M90.9 45.5h0M91.7 46.1h0M92.5 46.6h0M93.2 47.2h0M94.0 47.8h0M94.8 48.4h0M95.6 49.1h0M96.4 49.8h0M97.1 50.5h0M97.9 51.2h0M98.7 51.9h0M99.5 52.6h0M100.3 53.3h0M101.0 54.1h0M101.8 54.8h0M102.6 55.5h0M103.4 56.2h0M104.2 56.9h0M104.9 57.6h0M105.7 58.3h0M106.5 59.0h0M107.3 59.7h0M108.1 60.4h0M108.8 61.1h0M109.6 61.8h0M110.4 62.5h0M111.2 63.2h0M112.0 63.9h0M112.7 64.6h0M113.5 65.3h0M114.3 66.0h0M115.1 66.7h0M115.9 67.4h0M116.6 68.2h0M117.4 68.9h0M118.2 69.6h0M119.0 70.3h0M119.8 71.0h0M120.5 71.8h0M121.3 72.5h0M122.1 73.2h0M122.9 74.0h0M123.7 74.7h0M124.4 75.4h0M125.2 76.2h0M126.0 76.9h0M126.8 77.6h0M127.6 78.4h0M128.3 79.1h0M129.1 79.8h0M129.9 80.6h0M130.7 81.3h0M131.5 82.0h0M132.2 82.8h0M133.0 83.5h0M133.8 84.2h0M134.6 85.0h0M135.4 85.7h0M136.1 86.5h0M136.9 87.2h0M137.7 87.9h0M138.5 88.7h0M139.3 89.4h0M140.0 90.2h0M140.8 90.9h0M141.6 91.6h0M142.4 92.4h0M143.2 93.1h0M143.9 93.9h0M144.7 94.6h0M145.5 95.4h0M146.3 96.1h0M147.1 96.9h0M147.8 97.6h0M148.6 98.3h0M149.4 99.1h0M150.2 99.8h0M151.0 100.5h0M151.7 101.3h0M152.5 102.0h0M153.3 102.7h0M154.1 103.4h0M154.9 104.1h0M155.6 104.8h0M156.4 105.5h0M157.2 106.3h0M158.0 107.0h0M158.8 107.7h0M159.5 108.4h0M160.3 109.1h0M161.1 109.8h0M161.9 110.5h0M162.7 111.2h0M163.4 111.9h0M164.2 112.6h0M165.0 113.4h0M165.8 114.1h0M166.6 114.8h0M167.3 115.5h0M168.1 116.2h0M168.9 117.0h0M169.7 117.7h0M170.5 118.5h0M171.2 119.2h0M172.0 119.9h0M172.8 120.6h0M173.6 121.3h0M174.4 121.9h0M175.1 122.4h0M175.9 123.0h0M176.7 123.4h0M177.5 123.9h0M178.3 124.3h0M179.0 124.7h0M179.8 125.2h0M180.6 125.7h0M181.4 126.3h0M182.2 126.9h0M182.9 127.6h0M183.7 128.2h0M184.5 128.4h0M185.3 128.3h0M186.1 128.0h0M186.8 127.3h0M187.6 126.4h0M188.4 125.3h0M189.2 123.5h0M190.0 120.3h0M190.7 117.2h0M191.5 114.3h0M192.3 111.0h0M193.1 107.3h0M193.9 102.5h0M194.6 96.1h0M195.4 91.3h0M196.2 86.9h0M197.0 82.4h0M197.8 77.4h0M198.5 72.4h0M199.3 66.9h0M200.1 62.3h0M200.9 59.6h0M201.7 57.6h0M202.4 55.6h0M203.2 53.5h0M204.0 51.3h0M204.8 49.3h0M205.6 47.4h0M206.3 45.8h0M207.1 44.5h0M207.9 43.3h0M208.7 42.2h0M209.5 41.1h0M210.2 40.1h0M211.0 39.2h0M211.8 38.3h0M212.6 37.4h0M213.4 36.6h0M214.1 35.8h0M214.9 35.1h0M215.7 34.3h0M216.5 33.7h0M217.3 33.0h0M218.0 32.4h0M218.8 31.8h0M219.6 31.2h0M220.4 30.6h0M221.2 29.9h0M221.9 29.3h0M222.7 28.8h0M223.5 28.2h0M224.3 27.6h0M225.1 27.0h0M225.8 26.4h0M226.6 25.9h0M227.4 25.3h0M228.2 24.8h0M229.0 24.2h0M229.7 23.7h0M230.5 23.2h0M231.3 22.6h0M232.1 22.1h0M232.9 21.6h0M233.6 21.0h0M234.4 20.5h0M235.2 20.0h0M236.0 19.5h0M236.8 19.0h0M237.5 18.5h0M238.3 18.0h0M239.1 17.5h0M239.9 17.0h0M240.7 16.4h0M241.4 15.9h0M242.2 15.4h0M243.0 14.9h0" fill="none" stroke="#ff0000" stroke-width="2.7" stroke-linecap="round"/>
<path d="M24.6 155.2L25.8 154.4L26.9 153.6L28.1 152.9L29.2 152.1L30.4 151.3L31.6 150.4L32.7 149.6L33.9 148.8L35.0 147.9L36.2 147.0L37.4 146.2L38.5 145.3L39.6 144.4L40.8 143.5L42.0 142.5L43.0 141.7L44.2 141.0L45.4 140.2L46.5 139.3L47.6 138.5L48.8 137.5L49.9 136.5L51.0 135.5L52.0 134.5L52.9 133.5L53.7 132.6L54.5 131.6L55.2 130.5L55.9 129.3L56.5 128.1L57.0 126.8L57.5 125.5L57.9 124.2L58.1 122.9L58.4 121.5L58.7 120.0L59.0 118.7L59.4 117.4L59.8 115.9L60.2 114.4L60.6 112.9L60.9 111.5L61.3 110.0L61.6 108.6L62.0 107.2L62.3 105.8L62.6 104.4L62.9 103.0L63.2 101.5L63.5 100.0L63.8 98.8L64.0 97.5L64.3 96.1L64.6 94.8L64.8 93.4L65.1 92.0L65.4 90.6L65.7 89.2L65.9 87.8L66.2 86.4L66.4 85.0L66.6 83.6L66.9 82.1L67.1 80.7L67.3 79.2L67.5 77.8L67.7 76.3L67.9 74.9L68.1 73.4L68.3 71.9L68.4 70.5L68.6 69.0L68.7 67.6L68.9 66.2L69.0 64.7L69.1 63.3L69.2 61.8L69.3 60.4L69.4 58.9L69.4 57.5L69.5 56.1L69.7 54.8L69.8 53.5L69.9 52.2L70.1 50.6L70.2 49.0L70.4 47.4L70.5 46.0L70.8 44.6L71.0 43.3L71.4 42.1L71.9 40.8L72.5 39.7L73.2 38.7L74.0 37.9L75.0 37.2L76.1 36.8L77.3 36.7L78.5 36.9L79.8 37.5L81.2 38.3L82.5 39.0L83.7 39.6L84.9 40.3L86.1 41.1L87.3 41.9L88.5 42.8L89.5 43.6L90.5 44.4L91.5 45.3L92.5 46.2L93.5 47.2L94.5 48.1L95.5 49.1L96.5 50.0L97.5 50.9L98.5 51.8L99.5 52.7L100.5 53.6L101.5 54.5L102.5 55.4L103.5 56.3L104.5 57.2L105.5 58.1L106.5 59.0L107.5 59.9L108.5 60.8L109.5 61.7L110.5 62.6L111.5 63.5L112.5 64.4L113.5 65.3L114.5 66.2L115.5 67.1L116.5 68.1L117.5 69.0L118.5 69.9L119.5 70.8L120.5 71.7L121.5 72.7L122.5 73.6L123.6 74.6L124.6 75.6L125.6 76.5L126.6 77.5L127.6 78.4L128.5 79.3L129.5 80.2L130.5 81.2L131.5 82.1L132.5 83.0L133.5 83.9L134.5 84.9L135.4 85.8L136.4 86.7L137.4 87.7L138.4 88.6L139.5 89.6L140.5 90.6L141.5 91.5L142.5 92.5L143.5 93.5L144.5 94.4L145.5 95.4L146.5 96.3L147.5 97.3L148.5 98.2L149.5 99.2L150.5 100.1L151.5 101.0L152.5 101.9L153.5 102.9L154.5 103.8L155.5 104.7L156.5 105.6L157.5 106.5L158.5 107.4L159.5 108.4L160.5 109.3L161.5 110.2L162.5 111.1L163.5 112.0L164.5 112.9L165.5 113.8L166.5 114.7L167.5 115.6L168.5 116.5L169.4 117.4L170.4 118.4L171.3 119.3L172.4 120.2L173.4 121.1L174.5 122.0L175.6 122.9L176.8 123.8L178.1 124.8L179.4 125.7L180.7 126.7L181.9 127.6L183.2 128.5L184.4 129.3L185.5 130.0L186.5 130.6L187.8 131.4L188.9 132.1L190.0 132.6L191.0 132.6L192.1 132.0L193.1 130.9L194.0 129.5L194.8 128.0L195.3 126.9L195.7 125.6L196.0 124.3L196.3 122.9L196.6 121.5L196.9 120.0L197.2 118.5L197.5 117.2L197.7 115.8L198.0 114.3L198.3 112.8L198.5 111.3L198.8 109.8L199.0 108.3L199.3 106.8L199.5 105.4L199.8 104.0L200.1 102.4L200.4 100.9L200.8 99.5L201.1 98.0L201.4 96.6L201.7 95.3L201.9 93.9L202.1 92.5L202.2 91.2L202.4 90.0L202.5 88.7L202.6 87.4L202.8 86.0L203.0 84.7L203.2 83.4L203.4 82.0L203.6 80.6L203.9 79.2L204.1 77.8L204.4 76.4L204.6 75.0L204.8 73.6L205.1 72.1L205.3 70.6L205.5 69.1L205.8 67.6L206.0 66.1L206.3 64.8L206.5 63.5L206.8 62.1L207.1 60.8L207.4 59.6L207.7 58.3L208.0 57.0L208.3 55.7L208.7 54.4L209.0 53.1L209.4 51.7L209.8 50.3L210.3 49.0L210.8 47.7L211.3 46.4L211.8 45.1L212.4 43.8L213.0 42.6L213.6 41.4L214.3 40.3L215.2 39.1L216.1 38.0L217.0 37.0L218.0 36.0L219.0 35.0L220.0 34.1L221.0 33.1L222.1 32.2L223.1 31.2L224.1 30.3L225.0 29.5L226.1 28.4L227.1 27.3L228.1 26.2L229.1 25.3L230.2 24.3L231.2 23.4L232.2 22.5L233.3 21.7L234.3 20.9L235.3 20.1L236.4 19.4L237.4 18.6L238.4 17.9L239.5 17.2L240.5 16.6L241.5 15.9L242.6 15.2L243.6 14.6" fill="none" stroke="#d99a1f" stroke-width="1.15" stroke-linejoin="round"/><path d="M24.6 155.2h0M25.4 154.6h0M26.2 154.1h0M26.9 153.6h0M27.7 153.1h0M28.5 152.6h0M29.3 152.0h0M30.1 151.5h0M30.8 151.0h0M31.6 150.4h0M32.4 149.8h0M33.2 149.3h0M34.0 148.7h0M34.7 148.1h0M35.5 147.6h0M36.3 147.0h0M37.1 146.4h0M37.9 145.8h0M38.6 145.2h0M39.4 144.6h0M40.2 143.9h0M41.0 143.3h0M41.8 142.7h0M42.5 142.1h0M43.3 141.6h0M44.1 141.0h0M44.9 140.5h0M45.7 139.9h0M46.4 139.4h0M47.2 138.8h0M48.0 138.2h0M48.8 137.5h0M49.6 136.8h0M50.3 136.1h0M51.1 135.4h0M51.9 134.6h0M52.7 133.8h0M53.5 132.9h0M54.2 131.9h0M55.0 130.8h0M55.8 129.5h0M56.6 127.9h0M57.4 125.9h0M58.1 122.8h0M58.9 119.1h0M59.7 116.1h0M60.5 113.2h0M61.3 110.2h0M62.0 106.8h0M62.8 103.2h0M63.6 99.5h0M64.4 95.7h0M65.2 91.8h0M65.9 87.7h0M66.7 83.0h0M67.5 77.8h0M68.3 71.8h0M69.1 63.5h0M69.8 52.8h0M70.6 45.5h0M71.4 42.1h0M72.2 40.3h0M73.0 39.1h0M73.7 38.2h0M74.5 37.6h0M75.3 37.1h0M76.1 36.8h0M76.9 36.7h0M77.6 36.8h0M78.4 36.9h0M79.2 37.2h0M80.0 37.6h0M80.8 38.0h0M81.5 38.5h0M82.3 38.9h0M83.1 39.3h0M83.9 39.8h0M84.7 40.2h0M85.4 40.7h0M86.2 41.2h0M87.0 41.7h0M87.8 42.3h0M88.6 42.8h0M89.3 43.5h0M90.1 44.1h0M90.9 44.8h0M91.7 45.5h0M92.5 46.2h0M93.2 47.0h0M94.0 47.7h0M94.8 48.4h0M95.6 49.2h0M96.4 49.9h0M97.1 50.6h0M97.9 51.3h0M98.7 52.0h0M99.5 52.7h0M100.3 53.4h0M101.0 54.1h0M101.8 54.8h0M102.6 55.5h0M103.4 56.2h0M104.2 56.9h0M104.9 57.6h0M105.7 58.3h0M106.5 59.0h0M107.3 59.7h0M108.1 60.4h0M108.8 61.1h0M109.6 61.8h0M110.4 62.5h0M111.2 63.2h0M112.0 63.9h0M112.7 64.6h0M113.5 65.3h0M114.3 66.0h0M115.1 66.8h0M115.9 67.5h0M116.6 68.2h0M117.4 68.9h0M118.2 69.6h0M119.0 70.3h0M119.8 71.1h0M120.5 71.8h0M121.3 72.5h0M122.1 73.2h0M122.9 74.0h0M123.7 74.7h0M124.4 75.4h0M125.2 76.2h0M126.0 76.9h0M126.8 77.6h0M127.6 78.4h0M128.3 79.1h0M129.1 79.8h0M129.9 80.6h0M130.7 81.3h0M131.5 82.0h0M132.2 82.8h0M133.0 83.5h0M133.8 84.2h0M134.6 85.0h0M135.4 85.7h0M136.1 86.5h0M136.9 87.2h0M137.7 87.9h0M138.5 88.7h0M139.3 89.4h0M140.0 90.2h0M140.8 90.9h0M141.6 91.6h0M142.4 92.4h0M143.2 93.1h0M143.9 93.9h0M144.7 94.6h0M145.5 95.4h0M146.3 96.1h0M147.1 96.9h0M147.8 97.6h0M148.6 98.3h0M149.4 99.1h0M150.2 99.8h0M151.0 100.5h0M151.7 101.3h0M152.5 102.0h0M153.3 102.7h0M154.1 103.4h0M154.9 104.1h0M155.6 104.8h0M156.4 105.5h0M157.2 106.3h0M158.0 107.0h0M158.8 107.7h0M159.5 108.4h0M160.3 109.1h0M161.1 109.8h0M161.9 110.5h0M162.7 111.2h0M163.4 111.9h0M164.2 112.6h0M165.0 113.4h0M165.8 114.1h0M166.6 114.8h0M167.3 115.5h0M168.1 116.2h0M168.9 117.0h0M169.7 117.7h0M170.5 118.4h0M171.2 119.2h0M172.0 119.9h0M172.8 120.6h0M173.6 121.2h0M174.4 121.9h0M175.1 122.5h0M175.9 123.1h0M176.7 123.7h0M177.5 124.3h0M178.3 124.9h0M179.0 125.5h0M179.8 126.1h0M180.6 126.7h0M181.4 127.2h0M182.2 127.8h0M182.9 128.3h0M183.7 128.8h0M184.5 129.4h0M185.3 129.9h0M186.1 130.3h0M186.8 130.8h0M187.6 131.3h0M188.4 131.8h0M189.2 132.2h0M190.0 132.6h0M190.7 132.6h0M191.5 132.3h0M192.3 131.8h0M193.1 130.9h0M193.9 129.7h0M194.6 128.3h0M195.4 126.5h0M196.2 123.6h0M197.0 119.6h0M197.8 115.7h0M198.5 111.2h0M199.3 106.6h0M200.1 102.5h0M200.9 99.0h0M201.7 95.3h0M202.4 89.2h0M203.2 83.2h0M204.0 78.6h0M204.8 73.9h0M205.6 68.9h0M206.3 64.3h0M207.1 60.6h0M207.9 57.4h0M208.7 54.3h0M209.5 51.5h0M210.2 49.2h0M211.0 47.1h0M211.8 45.2h0M212.6 43.5h0M213.4 41.9h0M214.1 40.6h0M214.9 39.4h0M215.7 38.5h0M216.5 37.6h0M217.3 36.8h0M218.0 36.0h0M218.8 35.2h0M219.6 34.4h0M220.4 33.7h0M221.2 33.0h0M221.9 32.3h0M222.7 31.6h0M223.5 30.9h0M224.3 30.2h0M225.1 29.4h0M225.8 28.6h0M226.6 27.8h0M227.4 27.0h0M228.2 26.2h0M229.0 25.4h0M229.7 24.7h0M230.5 24.0h0M231.3 23.3h0M232.1 22.7h0M232.9 22.0h0M233.6 21.4h0M234.4 20.8h0M235.2 20.2h0M236.0 19.7h0M236.8 19.1h0M237.5 18.6h0M238.3 18.0h0M239.1 17.5h0M239.9 17.0h0M240.7 16.5h0M241.4 15.9h0M242.2 15.4h0M243.0 14.9h0" fill="none" stroke="#d99a1f" stroke-width="2.7" stroke-linecap="round"/>
<path d="M24.6 155.2L25.7 154.4L26.8 153.7L28.0 153.0L29.1 152.3L30.2 151.6L31.3 150.8L32.4 150.1L33.5 149.4L34.6 148.7L35.8 148.0L36.9 147.3L38.0 146.5L39.0 145.6L40.0 144.6L41.1 143.4L42.1 142.3L43.0 141.2L43.9 140.1L44.8 139.0L45.7 137.9L46.5 136.8L47.3 135.6L48.1 134.4L48.8 133.2L49.5 132.0L50.2 130.7L50.7 129.4L51.3 128.0L51.7 126.8L52.0 125.6L52.3 124.2L52.7 122.8L53.0 121.4L53.4 120.0L53.8 118.6L54.3 117.2L54.7 115.8L55.2 114.4L55.6 112.9L56.0 111.4L56.4 110.0L56.7 108.6L56.9 107.2L57.1 105.8L57.3 104.4L57.5 103.0L57.7 101.5L57.9 100.0L58.1 98.8L58.4 97.5L58.6 96.1L58.9 94.8L59.2 93.4L59.5 92.0L59.8 90.6L60.0 89.2L60.3 87.8L60.6 86.4L60.8 85.0L61.0 83.6L61.3 82.1L61.5 80.7L61.7 79.2L61.9 77.8L62.1 76.3L62.3 74.9L62.5 73.4L62.6 71.9L62.8 70.5L63.0 69.0L63.2 67.6L63.3 66.2L63.5 64.8L63.6 63.3L63.7 61.9L63.9 60.4L64.0 59.0L64.1 57.6L64.3 56.2L64.4 54.8L64.5 53.5L64.7 52.2L64.9 50.6L65.1 49.0L65.2 47.4L65.4 45.8L65.6 44.3L65.8 42.9L66.1 41.6L66.4 40.4L66.9 38.9L67.4 37.5L68.1 36.3L68.9 35.3L69.8 34.6L70.8 34.0L71.9 33.5L73.1 33.3L74.2 33.3L75.4 33.4L76.6 33.6L77.8 34.0L79.0 34.5L80.0 35.1L81.0 35.9L82.0 36.8L83.0 37.7L84.0 38.7L85.0 39.6L85.9 40.5L86.9 41.4L87.9 42.3L88.9 43.2L90.0 44.1L91.0 45.0L92.0 45.9L93.0 46.9L94.0 47.8L95.0 48.6L96.0 49.5L97.0 50.5L98.0 51.4L99.0 52.2L100.0 53.2L101.0 54.0L102.0 54.9L103.0 55.9L104.0 56.8L105.0 57.6L106.0 58.5L107.0 59.5L108.0 60.4L109.0 61.2L110.0 62.1L111.0 63.0L112.0 63.9L113.0 64.8L114.0 65.7L115.0 66.6L116.0 67.5L117.0 68.5L118.0 69.4L119.0 70.3L120.0 71.2L121.0 72.2L122.0 73.1L123.0 74.0L124.0 75.0L125.0 76.0L126.0 76.9L127.1 77.9L128.1 78.9L129.2 79.9L130.3 80.9L131.4 81.9L132.4 82.9L133.5 83.9L134.5 84.9L135.5 85.9L136.5 86.8L137.6 87.8L138.5 88.7L139.5 89.7L140.5 90.6L141.5 91.6L142.5 92.5L143.5 93.5L144.5 94.4L145.5 95.4L146.5 96.3L147.5 97.3L148.5 98.2L149.5 99.2L150.5 100.1L151.5 101.0L152.5 101.9L153.5 102.9L154.5 103.8L155.5 104.7L156.5 105.6L157.5 106.5L158.5 107.4L159.5 108.4L160.5 109.3L161.5 110.2L162.5 111.1L163.5 112.0L164.5 112.9L165.5 113.8L166.5 114.7L167.5 115.6L168.5 116.5L169.5 117.5L170.5 118.4L171.5 119.3L172.5 120.2L173.5 121.1L174.5 122.0L175.5 122.9L176.5 123.8L177.5 124.8L178.5 125.7L179.5 126.6L180.5 127.5L181.5 128.4L182.5 129.3L183.6 130.2L184.7 131.2L185.7 132.1L186.8 133.0L187.9 133.8L189.0 134.6L190.0 135.2L191.4 135.9L192.8 136.6L194.2 137.0L195.5 137.0L196.6 136.6L197.7 135.9L198.7 135.0L199.5 134.0L200.2 133.0L200.7 131.9L201.1 130.8L201.5 129.5L201.8 128.3L202.2 127.1L202.4 125.7L202.7 124.4L203.0 122.9L203.3 121.5L203.6 120.2L203.9 118.7L204.2 117.3L204.5 115.8L204.8 114.3L205.1 112.9L205.3 111.4L205.6 110.0L205.8 108.6L206.1 107.3L206.3 105.9L206.5 104.6L206.7 103.3L206.9 101.9L207.1 100.4L207.3 99.2L207.5 97.9L207.7 96.5L207.9 95.1L208.1 93.7L208.3 92.3L208.5 90.9L208.7 89.5L208.9 88.1L209.0 86.8L209.2 85.5L209.3 84.1L209.5 82.7L209.6 81.3L209.6 80.0L209.7 78.7L209.8 77.4L210.0 76.2L210.2 75.0L210.6 73.5L211.0 72.1L211.5 70.8L211.9 69.4L212.3 68.0L212.6 66.7L212.8 65.4L212.9 64.0L213.1 62.7L213.3 61.3L213.5 60.0L213.8 58.6L214.0 57.2L214.3 55.8L214.6 54.5L214.9 53.2L215.2 52.0L215.5 50.6L215.9 49.4L216.3 48.0L216.7 46.8L217.2 45.5L217.7 44.1L218.3 42.7L218.9 41.3L219.5 40.0L220.1 38.8L220.8 37.5L221.4 36.3L222.1 35.1L222.9 33.9L223.6 32.8L224.3 31.7L225.1 30.7L226.0 29.6L226.8 28.6L227.6 27.7L228.3 26.8L229.3 25.6L230.3 24.6L231.4 23.7L232.4 22.7L233.4 21.8L234.4 21.0L235.4 20.2L236.5 19.4L237.5 18.6L238.5 17.9L239.5 17.2L240.5 16.5L241.6 15.9L242.6 15.2L243.6 14.6" fill="none" stroke="#ffd000" stroke-width="1.15" stroke-linejoin="round"/><path d="M24.6 155.2h0M25.4 154.7h0M26.2 154.2h0M26.9 153.7h0M27.7 153.1h0M28.5 152.6h0M29.3 152.1h0M30.1 151.6h0M30.8 151.1h0M31.6 150.6h0M32.4 150.1h0M33.2 149.6h0M34.0 149.1h0M34.7 148.6h0M35.5 148.1h0M36.3 147.7h0M37.1 147.2h0M37.9 146.6h0M38.6 145.9h0M39.4 145.2h0M40.2 144.4h0M41.0 143.5h0M41.8 142.6h0M42.5 141.7h0M43.3 140.8h0M44.1 139.9h0M44.9 138.9h0M45.7 137.9h0M46.4 136.9h0M47.2 135.8h0M48.0 134.6h0M48.8 133.3h0M49.6 131.9h0M50.3 130.3h0M51.1 128.5h0M51.9 126.0h0M52.7 122.8h0M53.5 119.8h0M54.2 117.3h0M55.0 114.9h0M55.8 112.3h0M56.6 109.1h0M57.4 103.8h0M58.1 98.7h0M58.9 94.7h0M59.7 90.9h0M60.5 86.8h0M61.3 82.1h0M62.0 76.6h0M62.8 70.5h0M63.6 63.3h0M64.4 55.1h0M65.2 48.0h0M65.9 42.3h0M66.7 39.4h0M67.5 37.4h0M68.3 36.1h0M69.1 35.2h0M69.8 34.5h0M70.6 34.1h0M71.4 33.7h0M72.2 33.5h0M73.0 33.3h0M73.7 33.3h0M74.5 33.3h0M75.3 33.4h0M76.1 33.5h0M76.9 33.7h0M77.6 33.9h0M78.4 34.3h0M79.2 34.6h0M80.0 35.1h0M80.8 35.7h0M81.5 36.3h0M82.3 37.1h0M83.1 37.8h0M83.9 38.6h0M84.7 39.3h0M85.4 40.0h0M86.2 40.7h0M87.0 41.4h0M87.8 42.1h0M88.6 42.8h0M89.3 43.5h0M90.1 44.2h0M90.9 45.0h0M91.7 45.7h0M92.5 46.4h0M93.2 47.1h0M94.0 47.8h0M94.8 48.5h0M95.6 49.2h0M96.4 49.9h0M97.1 50.6h0M97.9 51.3h0M98.7 52.0h0M99.5 52.7h0M100.3 53.4h0M101.0 54.1h0M101.8 54.8h0M102.6 55.5h0M103.4 56.2h0M104.2 56.9h0M104.9 57.6h0M105.7 58.3h0M106.5 59.0h0M107.3 59.7h0M108.1 60.4h0M108.8 61.1h0M109.6 61.8h0M110.4 62.5h0M111.2 63.2h0M112.0 63.9h0M112.7 64.6h0M113.5 65.3h0M114.3 66.0h0M115.1 66.7h0M115.9 67.4h0M116.6 68.1h0M117.4 68.8h0M118.2 69.6h0M119.0 70.3h0M119.8 71.0h0M120.5 71.8h0M121.3 72.5h0M122.1 73.2h0M122.9 74.0h0M123.7 74.7h0M124.4 75.4h0M125.2 76.2h0M126.0 76.9h0M126.8 77.6h0M127.6 78.4h0M128.3 79.1h0M129.1 79.8h0M129.9 80.6h0M130.7 81.3h0M131.5 82.0h0M132.2 82.8h0M133.0 83.5h0M133.8 84.2h0M134.6 85.0h0M135.4 85.7h0M136.1 86.5h0M136.9 87.2h0M137.7 87.9h0M138.5 88.7h0M139.3 89.4h0M140.0 90.2h0M140.8 90.9h0M141.6 91.6h0M142.4 92.4h0M143.2 93.1h0M143.9 93.9h0M144.7 94.6h0M145.5 95.4h0M146.3 96.1h0M147.1 96.9h0M147.8 97.6h0M148.6 98.3h0M149.4 99.1h0M150.2 99.8h0M151.0 100.5h0M151.7 101.3h0M152.5 102.0h0M153.3 102.7h0M154.1 103.4h0M154.9 104.1h0M155.6 104.8h0M156.4 105.5h0M157.2 106.3h0M158.0 107.0h0M158.8 107.7h0M159.5 108.4h0M160.3 109.1h0M161.1 109.8h0M161.9 110.5h0M162.7 111.2h0M163.4 111.9h0M164.2 112.6h0M165.0 113.4h0M165.8 114.1h0M166.6 114.8h0M167.3 115.5h0M168.1 116.2h0M168.9 116.9h0M169.7 117.6h0M170.5 118.3h0M171.2 119.0h0M172.0 119.7h0M172.8 120.5h0M173.6 121.2h0M174.4 121.9h0M175.1 122.6h0M175.9 123.3h0M176.7 124.0h0M177.5 124.8h0M178.3 125.5h0M179.0 126.2h0M179.8 126.9h0M180.6 127.6h0M181.4 128.3h0M182.2 129.0h0M182.9 129.7h0M183.7 130.3h0M184.5 131.0h0M185.3 131.7h0M186.1 132.4h0M186.8 133.0h0M187.6 133.6h0M188.4 134.2h0M189.2 134.7h0M190.0 135.2h0M190.7 135.6h0M191.5 136.0h0M192.3 136.3h0M193.1 136.6h0M193.9 136.9h0M194.6 137.0h0M195.4 137.0h0M196.2 136.8h0M197.0 136.4h0M197.8 135.8h0M198.5 135.1h0M199.3 134.2h0M200.1 133.1h0M200.9 131.3h0M201.7 129.0h0M202.4 125.8h0M203.2 121.9h0M204.0 118.2h0M204.8 114.3h0M205.6 110.2h0M206.3 105.5h0M207.1 100.3h0M207.9 95.0h0M208.7 89.5h0M209.5 82.7h0M210.2 74.8h0M211.0 72.1h0M211.8 69.8h0M212.6 66.5h0M213.4 60.9h0M214.1 56.7h0M214.9 53.2h0M215.7 50.0h0M216.5 47.5h0M217.3 45.3h0M218.0 43.3h0M218.8 41.5h0M219.6 39.8h0M220.4 38.3h0M221.2 36.8h0M221.9 35.4h0M222.7 34.2h0M223.5 33.0h0M224.3 31.8h0M225.1 30.8h0M225.8 29.8h0M226.6 28.8h0M227.4 27.8h0M228.2 26.9h0M229.0 26.1h0M229.7 25.2h0M230.5 24.5h0M231.3 23.7h0M232.1 23.0h0M232.9 22.3h0M233.6 21.6h0M234.4 21.0h0M235.2 20.4h0M236.0 19.8h0M236.8 19.2h0M237.5 18.6h0M238.3 18.0h0M239.1 17.5h0M239.9 17.0h0M240.7 16.5h0M241.4 16.0h0M242.2 15.4h0M243.0 14.9h0" fill="none" stroke="#ffd000" stroke-width="2.7" stroke-linecap="round"/>
<path d="M24.6 155.2L25.7 154.4L26.8 153.6L27.9 152.8L28.9 152.0L30.0 151.2L31.0 150.5L32.0 149.7L33.0 149.0L34.0 148.3L35.0 147.5L35.9 146.7L36.9 145.8L37.8 144.9L38.7 144.0L39.5 143.0L40.4 141.9L41.2 140.7L42.0 139.5L42.8 138.3L43.5 137.0L44.1 135.7L44.7 134.5L45.2 133.2L45.7 131.9L46.2 130.5L46.6 129.2L47.0 127.9L47.3 126.5L47.7 125.1L48.0 123.8L48.3 122.5L48.6 121.2L48.9 119.8L49.2 118.6L49.4 117.3L49.7 116.0L50.0 114.8L50.2 113.7L50.4 112.5L50.7 111.3L50.9 110.0L51.1 108.7L51.3 107.4L51.4 106.0L51.6 104.6L51.8 103.1L52.0 101.6L52.2 100.0L52.4 98.8L52.6 97.5L52.9 96.1L53.1 94.8L53.4 93.4L53.7 92.0L53.9 90.6L54.2 89.2L54.5 87.8L54.7 86.4L55.0 85.0L55.3 83.6L55.5 82.1L55.8 80.7L56.1 79.2L56.4 77.8L56.7 76.3L56.9 74.9L57.2 73.4L57.4 71.9L57.7 70.5L57.9 69.0L58.1 67.6L58.3 66.2L58.4 64.8L58.6 63.4L58.7 61.9L58.8 60.5L58.9 59.1L59.1 57.7L59.2 56.3L59.3 54.9L59.5 53.5L59.6 52.2L59.8 50.8L59.9 49.3L60.1 47.8L60.2 46.4L60.4 44.9L60.5 43.6L60.7 42.2L60.9 41.0L61.1 39.8L61.3 38.7L61.6 37.2L62.0 35.9L62.4 34.7L63.0 33.6L63.7 32.5L64.5 31.5L65.5 30.6L66.4 29.9L67.4 29.5L68.5 29.4L69.7 29.4L70.9 29.6L72.3 30.0L73.7 30.5L75.0 31.2L76.0 31.8L77.0 32.6L78.0 33.4L79.0 34.2L80.0 35.1L81.0 36.1L82.0 36.9L82.9 37.7L83.9 38.6L84.9 39.6L86.0 40.5L87.0 41.4L88.0 42.3L89.0 43.2L90.0 44.1L91.0 45.0L92.0 46.0L93.0 46.9L94.0 47.8L95.0 48.7L96.0 49.6L97.0 50.5L98.0 51.4L99.0 52.3L100.0 53.2L101.0 54.1L102.0 55.0L103.0 55.9L104.0 56.8L105.0 57.7L106.0 58.5L107.0 59.4L108.0 60.3L109.0 61.2L110.0 62.1L111.0 63.0L112.0 63.9L113.0 64.9L114.0 65.8L115.0 66.7L116.0 67.6L117.0 68.5L118.0 69.4L119.0 70.4L120.0 71.3L121.0 72.2L122.0 73.2L123.0 74.1L124.1 75.1L125.1 76.1L126.1 77.0L127.1 77.9L128.1 78.9L129.0 79.7L130.0 80.6L130.9 81.5L131.8 82.3L132.6 83.1L133.5 84.0L134.5 84.9L135.4 85.8L136.4 86.7L137.4 87.6L138.4 88.6L139.4 89.6L140.5 90.6L141.5 91.5L142.5 92.5L143.5 93.5L144.5 94.4L145.5 95.4L146.5 96.3L147.5 97.3L148.5 98.2L149.5 99.2L150.5 100.1L151.5 101.0L152.5 101.9L153.5 102.9L154.5 103.8L155.5 104.7L156.5 105.6L157.5 106.5L158.5 107.4L159.5 108.4L160.5 109.3L161.5 110.2L162.5 111.1L163.5 112.0L164.5 112.9L165.5 113.8L166.5 114.7L167.5 115.6L168.5 116.5L169.5 117.5L170.5 118.4L171.5 119.3L172.5 120.2L173.5 121.1L174.5 122.0L175.5 122.9L176.5 123.8L177.4 124.7L178.4 125.6L179.4 126.5L180.4 127.4L181.4 128.3L182.5 129.3L183.6 130.2L184.7 131.2L185.9 132.2L187.1 133.3L188.3 134.3L189.5 135.3L190.7 136.2L191.9 137.1L193.0 137.9L194.0 138.5L195.5 139.3L196.9 140.0L198.2 140.5L199.5 140.6L200.8 140.4L202.1 139.9L203.4 139.2L204.5 138.3L205.4 137.4L206.1 136.3L206.8 135.0L207.4 133.8L208.0 132.5L208.5 131.3L208.9 130.0L209.2 128.7L209.5 127.3L209.8 126.0L210.0 124.8L210.2 123.6L210.4 122.3L210.5 121.1L210.6 119.8L210.8 118.5L211.0 117.1L211.1 115.7L211.3 114.3L211.5 112.8L211.6 111.4L211.8 110.0L212.0 108.6L212.2 107.3L212.4 106.0L212.6 104.7L212.8 103.3L213.0 101.7L213.2 100.5L213.4 99.2L213.6 97.8L213.8 96.3L214.1 94.8L214.3 93.3L214.6 91.8L214.8 90.3L215.0 88.8L215.2 87.4L215.4 86.1L215.6 84.8L215.8 83.2L215.9 81.8L216.0 80.3L216.1 78.9L216.3 77.6L216.4 76.3L216.6 75.0L216.9 73.5L217.2 72.1L217.6 70.8L217.9 69.4L218.2 68.0L218.4 66.7L218.6 65.3L218.8 64.0L219.0 62.6L219.2 61.3L219.4 60.0L219.6 58.7L219.7 57.5L219.9 56.4L220.1 55.2L220.3 54.0L220.6 52.8L220.8 51.6L221.1 50.3L221.5 49.1L221.8 47.7L222.1 46.5L222.4 45.2L222.8 43.9L223.1 42.5L223.5 41.1L223.9 39.7L224.3 38.4L224.7 37.1L225.2 35.8L225.6 34.6L226.1 33.3L226.6 32.2L227.1 31.0L227.7 29.9L228.3 28.8L229.2 27.5L230.1 26.3L231.1 25.1L232.1 24.0L233.0 23.0L233.9 22.0L234.8 21.2L235.6 20.4L236.5 19.6L237.7 18.6L238.9 17.7L240.1 16.9L241.2 16.1L242.4 15.3L243.6 14.6" fill="none" stroke="#6aa800" stroke-width="1.15" stroke-linejoin="round"/><path d="M24.6 155.2h0M25.4 154.6h0M26.2 154.0h0M26.9 153.4h0M27.7 152.9h0M28.5 152.3h0M29.3 151.7h0M30.1 151.2h0M30.8 150.6h0M31.6 150.0h0M32.4 149.5h0M33.2 148.9h0M34.0 148.3h0M34.7 147.7h0M35.5 147.0h0M36.3 146.3h0M37.1 145.6h0M37.9 144.8h0M38.6 144.0h0M39.4 143.1h0M40.2 142.1h0M41.0 141.0h0M41.8 139.9h0M42.5 138.7h0M43.3 137.3h0M44.1 135.8h0M44.9 134.1h0M45.7 132.0h0M46.4 129.7h0M47.2 127.0h0M48.0 123.8h0M48.8 120.4h0M49.6 116.7h0M50.3 113.0h0M51.1 108.5h0M51.9 102.1h0M52.7 97.2h0M53.5 93.0h0M54.2 89.0h0M55.0 84.9h0M55.8 80.8h0M56.6 76.8h0M57.4 72.5h0M58.1 67.2h0M58.9 59.3h0M59.7 51.3h0M60.5 43.9h0M61.3 38.9h0M62.0 35.8h0M62.8 34.0h0M63.6 32.7h0M64.4 31.7h0M65.2 30.9h0M65.9 30.2h0M66.7 29.8h0M67.5 29.5h0M68.3 29.4h0M69.1 29.4h0M69.8 29.4h0M70.6 29.6h0M71.4 29.7h0M72.2 30.0h0M73.0 30.3h0M73.7 30.6h0M74.5 31.0h0M75.3 31.4h0M76.1 31.9h0M76.9 32.5h0M77.6 33.1h0M78.4 33.8h0M79.2 34.5h0M80.0 35.2h0M80.8 35.8h0M81.5 36.5h0M82.3 37.2h0M83.1 37.9h0M83.9 38.6h0M84.7 39.3h0M85.4 40.0h0M86.2 40.7h0M87.0 41.4h0M87.8 42.1h0M88.6 42.9h0M89.3 43.6h0M90.1 44.3h0M90.9 45.0h0M91.7 45.7h0M92.5 46.4h0M93.2 47.1h0M94.0 47.8h0M94.8 48.5h0M95.6 49.2h0M96.4 49.9h0M97.1 50.6h0M97.9 51.3h0M98.7 52.0h0M99.5 52.7h0M100.3 53.4h0M101.0 54.1h0M101.8 54.8h0M102.6 55.5h0M103.4 56.2h0M104.2 56.9h0M104.9 57.6h0M105.7 58.3h0M106.5 59.0h0M107.3 59.7h0M108.1 60.4h0M108.8 61.1h0M109.6 61.8h0M110.4 62.5h0M111.2 63.2h0M112.0 63.9h0M112.7 64.6h0M113.5 65.3h0M114.3 66.0h0M115.1 66.7h0M115.9 67.5h0M116.6 68.2h0M117.4 68.9h0M118.2 69.6h0M119.0 70.3h0M119.8 71.1h0M120.5 71.8h0M121.3 72.5h0M122.1 73.2h0M122.9 74.0h0M123.7 74.7h0M124.4 75.4h0M125.2 76.2h0M126.0 76.9h0M126.8 77.6h0M127.6 78.4h0M128.3 79.1h0M129.1 79.8h0M129.9 80.6h0M130.7 81.3h0M131.5 82.0h0M132.2 82.8h0M133.0 83.5h0M133.8 84.2h0M134.6 85.0h0M135.4 85.7h0M136.1 86.5h0M136.9 87.2h0M137.7 87.9h0M138.5 88.7h0M139.3 89.4h0M140.0 90.2h0M140.8 90.9h0M141.6 91.6h0M142.4 92.4h0M143.2 93.1h0M143.9 93.9h0M144.7 94.6h0M145.5 95.4h0M146.3 96.1h0M147.1 96.9h0M147.8 97.6h0M148.6 98.3h0M149.4 99.1h0M150.2 99.8h0M151.0 100.5h0M151.7 101.3h0M152.5 102.0h0M153.3 102.7h0M154.1 103.4h0M154.9 104.1h0M155.6 104.8h0M156.4 105.5h0M157.2 106.3h0M158.0 107.0h0M158.8 107.7h0M159.5 108.4h0M160.3 109.1h0M161.1 109.8h0M161.9 110.5h0M162.7 111.2h0M163.4 111.9h0M164.2 112.6h0M165.0 113.4h0M165.8 114.1h0M166.6 114.8h0M167.3 115.5h0M168.1 116.2h0M168.9 116.9h0M169.7 117.6h0M170.5 118.3h0M171.2 119.0h0M172.0 119.7h0M172.8 120.5h0M173.6 121.2h0M174.4 121.9h0M175.1 122.6h0M175.9 123.3h0M176.7 124.0h0M177.5 124.8h0M178.3 125.5h0M179.0 126.2h0M179.8 126.9h0M180.6 127.6h0M181.4 128.3h0M182.2 129.0h0M182.9 129.7h0M183.7 130.3h0M184.5 131.0h0M185.3 131.7h0M186.1 132.4h0M186.8 133.0h0M187.6 133.7h0M188.4 134.4h0M189.2 135.0h0M190.0 135.6h0M190.7 136.2h0M191.5 136.8h0M192.3 137.4h0M193.1 137.9h0M193.9 138.4h0M194.6 138.9h0M195.4 139.3h0M196.2 139.7h0M197.0 140.1h0M197.8 140.3h0M198.5 140.5h0M199.3 140.6h0M200.1 140.5h0M200.9 140.4h0M201.7 140.1h0M202.4 139.7h0M203.2 139.3h0M204.0 138.7h0M204.8 138.0h0M205.6 137.1h0M206.3 135.9h0M207.1 134.4h0M207.9 132.7h0M208.7 130.6h0M209.5 127.6h0M210.2 123.3h0M211.0 116.7h0M211.8 110.0h0M212.6 104.5h0M213.4 99.4h0M214.1 94.5h0M214.9 89.6h0M215.7 83.9h0M216.5 75.8h0M217.3 71.9h0M218.0 68.7h0M218.8 64.1h0M219.6 58.6h0M220.4 53.6h0M221.2 50.2h0M221.9 47.1h0M222.7 44.0h0M223.5 41.0h0M224.3 38.4h0M225.1 36.1h0M225.8 34.0h0M226.6 32.1h0M227.4 30.4h0M228.2 29.0h0M229.0 27.8h0M229.7 26.7h0M230.5 25.8h0M231.3 24.9h0M232.1 24.0h0M232.9 23.2h0M233.6 22.3h0M234.4 21.5h0M235.2 20.8h0M236.0 20.1h0M236.8 19.4h0M237.5 18.8h0M238.3 18.2h0M239.1 17.6h0M239.9 17.0h0M240.7 16.5h0M241.4 16.0h0M242.2 15.5h0M243.0 14.9h0" fill="none" stroke="#6aa800" stroke-width="2.7" stroke-linecap="round"/>
<path d="M24.6 155.2L25.6 154.2L26.7 153.2L27.7 152.2L28.7 151.2L29.7 150.2L30.6 149.2L31.5 148.1L32.3 147.0L33.1 145.9L33.8 144.8L34.5 143.5L35.1 142.3L35.6 141.1L36.1 139.8L36.5 138.4L37.0 137.1L37.4 135.8L37.9 134.5L38.4 133.2L38.9 132.0L39.3 130.7L39.8 129.5L40.2 128.3L40.6 127.0L41.0 125.7L41.3 124.3L41.6 123.0L41.9 121.6L42.2 120.3L42.5 119.0L42.9 117.6L43.3 116.2L43.7 114.8L44.1 113.5L44.5 112.0L44.8 110.8L45.1 109.6L45.3 108.4L45.6 107.1L45.9 105.8L46.1 104.4L46.4 102.9L46.6 101.7L46.8 100.4L47.0 99.1L47.2 97.7L47.4 96.3L47.6 94.8L47.7 93.4L47.9 91.9L48.1 90.4L48.3 88.9L48.5 87.5L48.6 86.1L48.8 84.7L49.0 83.2L49.1 81.8L49.3 80.3L49.4 78.9L49.6 77.5L49.7 76.1L49.9 74.7L50.0 73.3L50.2 71.9L50.3 70.4L50.5 69.0L50.7 67.6L50.9 66.2L51.1 64.8L51.3 63.4L51.5 61.9L51.7 60.5L51.9 59.1L52.1 57.7L52.3 56.3L52.5 54.9L52.7 53.5L52.9 52.2L53.1 50.8L53.3 49.3L53.4 47.8L53.6 46.4L53.7 44.9L53.9 43.6L54.0 42.2L54.2 41.0L54.4 39.8L54.6 38.7L54.9 37.2L55.3 36.0L55.7 34.8L56.2 33.6L56.7 32.3L57.3 30.9L58.0 29.7L58.8 28.6L59.7 27.8L60.8 27.0L62.0 26.4L63.0 26.0L64.2 25.6L65.5 25.5L66.5 25.8L67.6 26.3L68.7 26.9L69.7 27.4L70.6 27.9L71.5 28.3L72.5 28.9L73.4 29.5L74.3 30.3L75.3 31.1L76.4 32.0L77.4 32.9L78.5 33.8L79.5 34.6L80.4 35.5L81.4 36.4L82.4 37.3L83.5 38.2L84.5 39.2L85.5 40.1L86.5 41.0L87.5 41.9L88.5 42.8L89.5 43.7L90.5 44.6L91.5 45.5L92.5 46.4L93.5 47.3L94.5 48.2L95.5 49.1L96.5 50.0L97.5 50.9L98.5 51.8L99.5 52.7L100.5 53.6L101.5 54.5L102.5 55.4L103.5 56.3L104.5 57.2L105.5 58.1L106.5 59.0L107.5 59.9L108.5 60.8L109.5 61.7L110.5 62.6L111.5 63.5L112.5 64.4L113.5 65.3L114.5 66.2L115.5 67.1L116.5 68.0L117.5 68.9L118.5 69.9L119.5 70.8L120.5 71.7L121.5 72.7L122.5 73.6L123.5 74.6L124.5 75.5L125.5 76.4L126.5 77.4L127.5 78.3L128.5 79.3L129.5 80.2L130.5 81.1L131.5 82.1L132.5 83.0L133.5 84.0L134.5 84.9L135.5 85.8L136.5 86.8L137.5 87.7L138.5 88.7L139.5 89.6L140.5 90.6L141.5 91.5L142.5 92.5L143.5 93.5L144.5 94.4L145.5 95.4L146.5 96.3L147.5 97.3L148.5 98.2L149.5 99.2L150.5 100.1L151.5 101.0L152.5 101.9L153.5 102.9L154.5 103.8L155.5 104.7L156.5 105.6L157.5 106.5L158.5 107.4L159.5 108.4L160.5 109.3L161.5 110.2L162.5 111.1L163.5 112.0L164.5 112.9L165.5 113.8L166.5 114.7L167.5 115.6L168.5 116.5L169.5 117.5L170.5 118.4L171.5 119.3L172.5 120.2L173.5 121.1L174.5 122.0L175.5 122.9L176.5 123.8L177.5 124.7L178.5 125.6L179.5 126.6L180.5 127.5L181.5 128.4L182.5 129.3L183.5 130.2L184.5 131.1L185.5 132.1L186.5 133.0L187.5 133.9L188.5 134.8L189.5 135.7L190.5 136.6L191.6 137.4L192.7 138.3L193.8 139.1L194.8 139.9L195.9 140.6L197.0 141.3L198.0 142.0L199.1 142.8L200.2 143.5L201.3 144.2L202.4 144.8L203.5 145.2L204.8 145.5L206.1 145.7L207.3 145.7L208.5 145.5L209.6 145.0L210.7 144.3L211.6 143.5L212.5 142.5L213.2 141.4L213.8 140.2L214.4 138.8L214.9 137.4L215.3 136.0L215.6 134.8L215.8 133.6L216.0 132.3L216.2 130.9L216.4 129.6L216.5 128.3L216.7 127.0L216.9 125.7L217.0 124.4L217.2 123.2L217.3 121.9L217.5 120.6L217.6 119.3L217.8 118.0L218.0 116.6L218.2 115.1L218.4 113.6L218.7 112.1L218.9 110.6L219.1 109.3L219.3 108.0L219.5 106.7L219.7 105.6L219.9 104.4L220.1 103.0L220.2 101.9L220.4 100.7L220.6 99.4L220.7 98.0L220.9 96.5L221.1 95.0L221.2 93.4L221.4 91.9L221.6 90.3L221.8 88.8L222.0 87.4L222.2 86.0L222.4 84.5L222.7 83.1L222.9 81.7L223.2 80.2L223.5 78.8L223.7 77.4L224.0 76.0L224.2 74.6L224.4 73.2L224.6 71.9L224.8 70.3L225.0 68.7L225.2 67.2L225.3 65.7L225.5 64.2L225.6 62.7L225.8 61.3L225.9 60.0L226.1 58.5L226.3 57.1L226.4 55.7L226.6 54.4L226.8 53.0L226.9 51.8L227.1 50.5L227.2 49.2L227.3 48.0L227.5 46.7L227.7 45.3L227.9 44.0L228.2 42.7L228.4 41.3L228.7 40.0L229.0 38.6L229.3 37.2L229.7 35.9L230.0 34.7L230.4 33.2L230.8 31.7L231.3 30.4L231.8 29.0L232.4 27.7L233.1 26.4L233.9 25.2L234.8 24.0L235.7 22.9L236.5 21.8L237.4 20.7L238.2 19.6L239.1 18.6L240.0 17.6L240.9 16.8L241.8 16.0L242.7 15.3L243.6 14.6" fill="none" stroke="#007800" stroke-width="1.15" stroke-linejoin="round"/><path d="M24.6 155.2h0M25.4 154.4h0M26.2 153.7h0M26.9 152.9h0M27.7 152.2h0M28.5 151.4h0M29.3 150.6h0M30.1 149.8h0M30.8 148.9h0M31.6 147.9h0M32.4 146.9h0M33.2 145.8h0M34.0 144.5h0M34.7 143.0h0M35.5 141.2h0M36.3 139.1h0M37.1 136.8h0M37.9 134.6h0M38.6 132.5h0M39.4 130.5h0M40.2 128.3h0M41.0 125.6h0M41.8 122.2h0M42.5 118.9h0M43.3 116.1h0M44.1 113.5h0M44.9 110.4h0M45.7 106.9h0M46.4 102.7h0M47.2 97.4h0M48.0 91.4h0M48.8 84.9h0M49.6 77.6h0M50.3 70.3h0M51.1 64.4h0M51.9 59.1h0M52.7 53.8h0M53.5 47.3h0M54.2 40.7h0M55.0 37.0h0M55.8 34.6h0M56.6 32.7h0M57.4 30.9h0M58.1 29.5h0M58.9 28.5h0M59.7 27.8h0M60.5 27.3h0M61.3 26.8h0M62.0 26.4h0M62.8 26.1h0M63.6 25.8h0M64.4 25.6h0M65.2 25.5h0M65.9 25.6h0M66.7 25.9h0M67.5 26.2h0M68.3 26.6h0M69.1 27.1h0M69.8 27.5h0M70.6 27.8h0M71.4 28.2h0M72.2 28.7h0M73.0 29.2h0M73.7 29.8h0M74.5 30.4h0M75.3 31.1h0M76.1 31.7h0M76.9 32.4h0M77.6 33.1h0M78.4 33.7h0M79.2 34.4h0M80.0 35.1h0M80.8 35.8h0M81.5 36.5h0M82.3 37.2h0M83.1 37.9h0M83.9 38.6h0M84.7 39.3h0M85.4 40.0h0M86.2 40.7h0M87.0 41.5h0M87.8 42.2h0M88.6 42.9h0M89.3 43.6h0M90.1 44.3h0M90.9 45.0h0M91.7 45.7h0M92.5 46.4h0M93.2 47.1h0M94.0 47.8h0M94.8 48.5h0M95.6 49.2h0M96.4 49.9h0M97.1 50.6h0M97.9 51.3h0M98.7 52.0h0M99.5 52.7h0M100.3 53.4h0M101.0 54.1h0M101.8 54.8h0M102.6 55.5h0M103.4 56.2h0M104.2 56.9h0M104.9 57.6h0M105.7 58.3h0M106.5 59.0h0M107.3 59.7h0M108.1 60.4h0M108.8 61.1h0M109.6 61.8h0M110.4 62.5h0M111.2 63.2h0M112.0 63.9h0M112.7 64.6h0M113.5 65.3h0M114.3 66.0h0M115.1 66.7h0M115.9 67.4h0M116.6 68.2h0M117.4 68.9h0M118.2 69.6h0M119.0 70.3h0M119.8 71.0h0M120.5 71.8h0M121.3 72.5h0M122.1 73.2h0M122.9 74.0h0M123.7 74.7h0M124.4 75.4h0M125.2 76.2h0M126.0 76.9h0M126.8 77.6h0M127.6 78.4h0M128.3 79.1h0M129.1 79.8h0M129.9 80.6h0M130.7 81.3h0M131.5 82.0h0M132.2 82.8h0M133.0 83.5h0M133.8 84.2h0M134.6 85.0h0M135.4 85.7h0M136.1 86.5h0M136.9 87.2h0M137.7 87.9h0M138.5 88.7h0M139.3 89.4h0M140.0 90.2h0M140.8 90.9h0M141.6 91.6h0M142.4 92.4h0M143.2 93.1h0M143.9 93.9h0M144.7 94.6h0M145.5 95.4h0M146.3 96.1h0M147.1 96.9h0M147.8 97.6h0M148.6 98.3h0M149.4 99.1h0M150.2 99.8h0M151.0 100.5h0M151.7 101.3h0M152.5 102.0h0M153.3 102.7h0M154.1 103.4h0M154.9 104.1h0M155.6 104.8h0M156.4 105.5h0M157.2 106.3h0M158.0 107.0h0M158.8 107.7h0M159.5 108.4h0M160.3 109.1h0M161.1 109.8h0M161.9 110.5h0M162.7 111.2h0M163.4 111.9h0M164.2 112.6h0M165.0 113.4h0M165.8 114.1h0M166.6 114.8h0M167.3 115.5h0M168.1 116.2h0M168.9 116.9h0M169.7 117.6h0M170.5 118.3h0M171.2 119.0h0M172.0 119.7h0M172.8 120.5h0M173.6 121.2h0M174.4 121.9h0M175.1 122.6h0M175.9 123.3h0M176.7 124.0h0M177.5 124.7h0M178.3 125.4h0M179.0 126.1h0M179.8 126.8h0M180.6 127.6h0M181.4 128.3h0M182.2 129.0h0M182.9 129.7h0M183.7 130.4h0M184.5 131.1h0M185.3 131.9h0M186.1 132.6h0M186.8 133.3h0M187.6 134.1h0M188.4 134.8h0M189.2 135.4h0M190.0 136.1h0M190.7 136.8h0M191.5 137.4h0M192.3 138.0h0M193.1 138.6h0M193.9 139.1h0M194.6 139.7h0M195.4 140.3h0M196.2 140.8h0M197.0 141.3h0M197.8 141.8h0M198.5 142.4h0M199.3 142.9h0M200.1 143.4h0M200.9 143.9h0M201.7 144.4h0M202.4 144.8h0M203.2 145.1h0M204.0 145.3h0M204.8 145.5h0M205.6 145.6h0M206.3 145.7h0M207.1 145.7h0M207.9 145.6h0M208.7 145.4h0M209.5 145.1h0M210.2 144.6h0M211.0 144.0h0M211.8 143.3h0M212.6 142.4h0M213.4 141.1h0M214.1 139.5h0M214.9 137.3h0M215.7 134.3h0M216.5 128.7h0M217.3 122.4h0M218.0 116.3h0M218.8 111.1h0M219.6 106.2h0M220.4 100.8h0M221.2 94.0h0M221.9 87.8h0M222.7 82.9h0M223.5 78.6h0M224.3 74.0h0M225.1 68.1h0M225.8 60.5h0M226.6 54.4h0M227.4 47.4h0M228.2 42.6h0M229.0 38.9h0M229.7 35.7h0M230.5 32.8h0M231.3 30.3h0M232.1 28.4h0M232.9 26.9h0M233.6 25.6h0M234.4 24.5h0M235.2 23.5h0M236.0 22.5h0M236.8 21.5h0M237.5 20.5h0M238.3 19.5h0M239.1 18.6h0M239.9 17.7h0M240.7 17.0h0M241.4 16.3h0M242.2 15.7h0M243.0 15.0h0" fill="none" stroke="#007800" stroke-width="2.7" stroke-linecap="round"/>
<path d="M24.7 151.2L25.3 150.3L25.9 149.2L26.3 148.3L26.8 147.1L27.3 145.8L27.8 144.5L28.2 143.1L28.7 141.7L29.1 140.5L29.4 139.2L29.8 138.0L30.1 136.6L30.5 135.3L30.8 134.0L31.2 132.6L31.5 131.3L31.9 129.9L32.2 128.5L32.6 127.1L33.0 125.7L33.4 124.3L33.7 122.9L34.1 121.4L34.4 120.0L34.7 118.7L34.9 117.3L35.1 116.0L35.4 114.6L35.6 113.2L35.8 111.9L36.0 110.5L36.3 109.1L36.5 107.8L36.8 106.4L37.1 105.0L37.5 103.6L37.8 102.2L38.1 100.8L38.4 99.4L38.7 97.9L39.0 96.3L39.2 95.1L39.3 93.7L39.5 92.4L39.6 91.0L39.7 89.6L39.8 88.1L39.9 86.6L40.0 85.1L40.1 83.7L40.2 82.2L40.3 80.7L40.4 79.3L40.5 77.9L40.6 76.5L40.7 75.1L40.9 73.6L41.0 72.1L41.1 70.7L41.3 69.2L41.4 67.8L41.6 66.4L41.7 65.0L41.9 63.7L42.0 62.4L42.2 61.2L42.3 60.0L42.5 58.5L42.7 57.2L42.9 56.0L43.1 54.8L43.4 53.5L43.6 52.2L43.8 50.8L44.1 49.5L44.3 48.0L44.6 46.6L44.8 45.1L45.1 43.6L45.3 42.1L45.5 40.8L45.6 39.4L45.8 37.9L45.9 36.5L46.1 35.0L46.2 33.5L46.4 32.1L46.6 30.8L46.8 29.6L47.0 28.6L47.4 27.0L47.9 25.6L48.6 24.4L49.5 23.5L50.6 22.8L51.7 22.1L52.9 21.5L54.3 20.9L55.7 20.4L57.1 20.1L58.3 20.1L59.6 20.3L60.9 20.6L62.1 21.0L63.1 21.5L64.2 22.1L65.2 22.9L66.2 23.6L67.2 24.4L68.2 25.1L69.2 25.8L70.1 26.6L71.1 27.4L72.2 28.2L73.2 29.0L74.2 29.8L75.1 30.7L76.1 31.6L77.1 32.5L78.2 33.4L79.2 34.4L80.2 35.3L81.2 36.2L82.2 37.1L83.2 38.0L84.2 38.9L85.2 39.8L86.2 40.7L87.2 41.6L88.2 42.5L89.2 43.4L90.2 44.3L91.2 45.2L92.2 46.1L93.2 47.0L94.2 47.9L95.2 48.8L96.2 49.7L97.2 50.6L98.2 51.5L99.2 52.4L100.2 53.3L101.2 54.2L102.2 55.1L103.2 56.0L104.2 56.9L105.2 57.8L106.2 58.7L107.2 59.6L108.2 60.5L109.2 61.4L110.2 62.3L111.2 63.2L112.2 64.1L113.2 65.0L114.2 65.9L115.2 66.9L116.2 67.8L117.2 68.7L118.2 69.6L119.2 70.5L120.2 71.5L121.2 72.4L122.2 73.3L123.2 74.3L124.3 75.3L125.3 76.2L126.3 77.2L127.3 78.1L128.3 79.1L129.2 79.9L130.3 81.0L131.3 81.9L132.4 82.9L133.4 83.9L134.5 84.9L135.4 85.8L136.4 86.7L137.4 87.6L138.4 88.6L139.4 89.6L140.5 90.6L141.5 91.5L142.5 92.5L143.5 93.5L144.5 94.4L145.5 95.4L146.5 96.3L147.5 97.3L148.5 98.2L149.5 99.2L150.5 100.1L151.5 101.0L152.5 101.9L153.5 102.9L154.5 103.8L155.5 104.7L156.5 105.6L157.5 106.5L158.5 107.4L159.5 108.4L160.5 109.3L161.5 110.2L162.5 111.1L163.5 112.0L164.5 112.9L165.5 113.8L166.5 114.7L167.5 115.6L168.5 116.5L169.5 117.5L170.5 118.4L171.5 119.3L172.5 120.2L173.5 121.1L174.5 122.0L175.5 122.9L176.5 123.8L177.5 124.7L178.5 125.6L179.5 126.6L180.5 127.5L181.5 128.4L182.5 129.3L183.5 130.2L184.5 131.1L185.4 132.0L186.4 132.9L187.4 133.8L188.4 134.7L189.4 135.6L190.5 136.6L191.5 137.5L192.6 138.5L193.8 139.6L194.9 140.6L196.1 141.7L197.3 142.7L198.4 143.7L199.5 144.7L200.5 145.5L201.5 146.3L202.7 147.2L203.8 147.9L204.8 148.6L205.9 149.2L207.0 149.8L208.1 150.4L209.3 150.9L210.5 151.4L211.6 151.7L212.8 151.8L214.0 151.6L215.2 151.1L216.4 150.5L217.5 149.7L218.5 148.8L219.3 147.9L220.0 146.9L220.7 145.7L221.3 144.5L221.8 143.3L222.3 142.0L222.7 140.7L223.1 139.3L223.4 137.8L223.7 136.4L224.0 134.9L224.2 133.4L224.5 132.0L224.8 130.6L225.1 129.2L225.3 127.8L225.6 126.4L225.8 124.9L226.0 123.4L226.1 122.0L226.2 120.6L226.3 119.1L226.4 117.5L226.5 116.0L226.5 114.4L226.6 112.9L226.7 111.4L226.8 110.0L226.9 108.6L227.1 107.2L227.2 105.9L227.4 104.6L227.6 103.3L227.7 101.9L227.9 100.4L228.0 99.1L228.2 97.8L228.3 96.4L228.5 95.0L228.7 93.6L228.8 92.1L229.0 90.7L229.1 89.2L229.3 87.7L229.5 86.3L229.6 84.8L229.7 83.4L229.9 82.0L230.0 80.5L230.1 79.0L230.2 77.5L230.3 76.1L230.5 74.6L230.6 73.2L230.7 71.8L230.8 70.4L231.0 69.2L231.1 68.0L231.3 66.5L231.5 65.1L231.8 63.8L232.0 62.6L232.2 61.3L232.4 60.0L232.6 58.7L232.7 57.3L232.9 56.0L233.0 54.6L233.2 53.3L233.3 52.0L233.4 50.7L233.5 49.4L233.6 48.1L233.7 46.7L233.8 45.3L233.9 44.0L234.1 42.6L234.2 41.1L234.4 39.5L234.6 38.0L234.8 36.4L235.0 35.0L235.3 33.6L235.6 32.1L236.0 30.7L236.3 29.2L236.7 27.9L237.2 26.6L237.7 25.3L238.3 24.0L239.0 22.8L239.8 21.7L240.5 20.5L241.2 19.4L241.8 18.2L242.4 17.0L243.0 15.8L243.6 14.6" fill="none" stroke="#00c0c0" stroke-width="1.15" stroke-linejoin="round"/><path d="M24.7 151.2h0M25.5 149.9h0M26.3 148.4h0M27.0 146.5h0M27.8 144.3h0M28.6 142.0h0M29.4 139.4h0M30.2 136.5h0M30.9 133.5h0M31.7 130.5h0M32.5 127.6h0M33.3 124.7h0M34.1 121.5h0M34.8 117.7h0M35.6 113.0h0M36.4 108.3h0M37.2 104.7h0M38.0 101.5h0M38.7 97.9h0M39.5 91.7h0M40.3 80.3h0M41.1 71.3h0M41.9 63.6h0M42.6 57.7h0M43.4 53.2h0M44.2 48.7h0M45.0 44.2h0M45.8 38.2h0M46.5 31.1h0M47.3 27.3h0M48.1 25.2h0M48.9 24.1h0M49.7 23.4h0M50.4 22.8h0M51.2 22.4h0M52.0 22.0h0M52.8 21.6h0M53.6 21.2h0M54.3 20.8h0M55.1 20.6h0M55.9 20.3h0M56.7 20.2h0M57.5 20.1h0M58.2 20.1h0M59.0 20.2h0M59.8 20.3h0M60.6 20.5h0M61.4 20.7h0M62.1 21.0h0M62.9 21.4h0M63.7 21.9h0M64.5 22.4h0M65.3 22.9h0M66.0 23.5h0M66.8 24.1h0M67.6 24.7h0M68.4 25.3h0M69.2 25.8h0M69.9 26.4h0M70.7 27.0h0M71.5 27.6h0M72.3 28.3h0M73.1 28.9h0M73.8 29.6h0M74.6 30.2h0M75.4 30.9h0M76.2 31.6h0M77.0 32.3h0M77.7 33.1h0M78.5 33.8h0M79.3 34.5h0M80.1 35.2h0M80.9 35.9h0M81.6 36.6h0M82.4 37.3h0M83.2 38.0h0M84.0 38.7h0M84.8 39.4h0M85.5 40.1h0M86.3 40.8h0M87.1 41.5h0M87.9 42.2h0M88.7 42.9h0M89.4 43.6h0M90.2 44.3h0M91.0 45.1h0M91.8 45.8h0M92.6 46.5h0M93.3 47.2h0M94.1 47.9h0M94.9 48.6h0M95.7 49.3h0M96.5 50.0h0M97.2 50.7h0M98.0 51.4h0M98.8 52.1h0M99.6 52.8h0M100.4 53.5h0M101.1 54.2h0M101.9 54.9h0M102.7 55.6h0M103.5 56.3h0M104.3 57.0h0M105.0 57.7h0M105.8 58.4h0M106.6 59.1h0M107.4 59.8h0M108.2 60.5h0M108.9 61.2h0M109.7 61.9h0M110.5 62.6h0M111.3 63.3h0M112.1 64.0h0M112.8 64.7h0M113.6 65.4h0M114.4 66.1h0M115.2 66.8h0M116.0 67.6h0M116.7 68.3h0M117.5 69.0h0M118.3 69.7h0M119.1 70.4h0M119.9 71.2h0M120.6 71.9h0M121.4 72.6h0M122.2 73.3h0M123.0 74.1h0M123.8 74.8h0M124.5 75.5h0M125.3 76.3h0M126.1 77.0h0M126.9 77.7h0M127.7 78.5h0M128.4 79.2h0M129.2 79.9h0M130.0 80.7h0M130.8 81.4h0M131.6 82.1h0M132.3 82.9h0M133.1 83.6h0M133.9 84.3h0M134.7 85.1h0M135.5 85.8h0M136.2 86.5h0M137.0 87.3h0M137.8 88.0h0M138.6 88.8h0M139.4 89.5h0M140.1 90.3h0M140.9 91.0h0M141.7 91.7h0M142.5 92.5h0M143.3 93.2h0M144.0 94.0h0M144.8 94.7h0M145.6 95.5h0M146.4 96.2h0M147.2 96.9h0M147.9 97.7h0M148.7 98.4h0M149.5 99.2h0M150.3 99.9h0M151.1 100.6h0M151.8 101.3h0M152.6 102.1h0M153.4 102.8h0M154.2 103.5h0M155.0 104.2h0M155.7 104.9h0M156.5 105.6h0M157.3 106.3h0M158.1 107.1h0M158.9 107.8h0M159.6 108.5h0M160.4 109.2h0M161.2 109.9h0M162.0 110.6h0M162.8 111.3h0M163.5 112.0h0M164.3 112.7h0M165.1 113.4h0M165.9 114.2h0M166.7 114.9h0M167.4 115.6h0M168.2 116.3h0M169.0 117.0h0M169.8 117.7h0M170.6 118.4h0M171.3 119.1h0M172.1 119.8h0M172.9 120.5h0M173.7 121.3h0M174.5 122.0h0M175.2 122.7h0M176.0 123.4h0M176.8 124.1h0M177.6 124.8h0M178.4 125.5h0M179.1 126.2h0M179.9 126.9h0M180.7 127.6h0M181.5 128.4h0M182.3 129.1h0M183.0 129.8h0M183.8 130.5h0M184.6 131.2h0M185.4 131.9h0M186.2 132.6h0M186.9 133.3h0M187.7 134.0h0M188.5 134.8h0M189.3 135.5h0M190.1 136.2h0M190.8 136.9h0M191.6 137.6h0M192.4 138.3h0M193.2 139.0h0M194.0 139.7h0M194.7 140.4h0M195.5 141.2h0M196.3 141.9h0M197.1 142.6h0M197.9 143.3h0M198.6 144.0h0M199.4 144.6h0M200.2 145.3h0M201.0 145.9h0M201.8 146.5h0M202.5 147.1h0M203.3 147.6h0M204.1 148.1h0M204.9 148.6h0M205.7 149.1h0M206.4 149.5h0M207.2 149.9h0M208.0 150.3h0M208.8 150.7h0M209.6 151.0h0M210.3 151.4h0M211.1 151.6h0M211.9 151.7h0M212.7 151.8h0M213.5 151.7h0M214.2 151.5h0M215.0 151.2h0M215.8 150.8h0M216.6 150.3h0M217.4 149.8h0M218.1 149.1h0M218.9 148.3h0M219.7 147.3h0M220.5 146.1h0M221.3 144.5h0M222.0 142.7h0M222.8 140.4h0M223.6 137.0h0M224.4 132.6h0M225.2 128.7h0M225.9 123.9h0M226.7 111.1h0M227.5 103.7h0M228.3 97.0h0M229.1 90.0h0M229.8 82.2h0M230.6 72.7h0M231.4 65.9h0M232.2 61.4h0M233.0 55.4h0M233.7 46.0h0M234.5 38.6h0M235.3 33.6h0M236.1 30.2h0M236.9 27.5h0M237.6 25.4h0M238.4 23.9h0M239.2 22.6h0M240.0 21.4h0M240.8 20.1h0M241.5 18.7h0M242.3 17.2h0M243.1 15.6h0" fill="none" stroke="#00c0c0" stroke-width="2.7" stroke-linecap="round"/>
<path d="M24.6 155.2L25.7 154.5L26.8 153.7L27.9 153.0L29.0 152.3L30.1 151.6L31.2 150.9L32.3 150.2L33.4 149.5L34.5 148.8L35.5 148.1L36.6 147.4L37.7 146.7L38.8 146.0L39.9 145.3L41.0 144.6L42.1 143.9L43.2 143.2L44.3 142.5L45.4 141.8L46.5 141.1L47.6 140.4L48.7 139.7L49.8 139.0L50.9 138.3L52.0 137.6L53.1 136.9L54.2 136.2L55.3 135.5L56.4 134.8L57.5 134.1L58.5 133.4L59.6 132.7L60.7 132.0L61.8 131.3L62.9 130.6L64.0 129.8L65.1 129.1L66.2 128.4L67.3 127.7L68.4 127.0L69.5 126.3L70.6 125.6L71.7 124.9L72.8 124.2L73.9 123.5L75.0 122.8L76.1 122.1L77.2 121.4L78.3 120.7L79.3 120.0L80.4 119.3L81.5 118.6L82.6 117.9L83.7 117.2L84.8 116.5L85.9 115.8L87.0 115.1L88.1 114.4L89.2 113.7L90.3 113.0L91.4 112.3L92.5 111.6L93.6 110.9L94.7 110.2L95.8 109.5L96.9 108.8L98.0 108.1L99.1 107.4L100.2 106.6L101.2 105.9L102.3 105.2L103.4 104.5L104.5 103.8L105.6 103.1L106.7 102.4L107.8 101.7L108.9 101.0L110.0 100.3L111.1 99.6L112.2 98.9L113.3 98.2L114.4 97.5L115.5 96.8L116.6 96.1L117.7 95.4L118.8 94.7L119.9 94.0L121.0 93.3L122.1 92.6L123.2 91.9L124.2 91.2L125.3 90.5L126.4 89.8L127.5 89.1L128.6 88.4L129.7 87.7L130.8 87.0L131.9 86.3L133.0 85.6L134.1 84.9L135.2 84.2L136.3 83.5L137.4 82.7L138.5 82.0L139.6 81.3L140.7 80.6L141.8 79.9L142.9 79.2L144.0 78.5L145.1 77.8L146.1 77.1L147.2 76.4L148.3 75.7L149.4 75.0L150.5 74.3L151.6 73.6L152.7 72.9L153.8 72.2L154.9 71.5L156.0 70.8L157.1 70.1L158.2 69.4L159.3 68.7L160.4 68.0L161.5 67.3L162.6 66.6L163.7 65.9L164.8 65.2L165.9 64.5L166.9 63.8L168.0 63.1L169.1 62.4L170.2 61.7L171.3 61.0L172.4 60.3L173.5 59.5L174.6 58.8L175.7 58.1L176.8 57.4L177.9 56.7L179.0 56.0L180.1 55.3L181.2 54.6L182.3 53.9L183.4 53.2L184.5 52.5L185.6 51.8L186.7 51.1L187.8 50.4L188.8 49.7L189.9 49.0L191.0 48.3L192.1 47.6L193.2 46.9L194.3 46.2L195.4 45.5L196.5 44.8L197.6 44.1L198.7 43.4L199.8 42.7L200.9 42.0L202.0 41.3L203.1 40.6L204.2 39.9L205.3 39.2L206.4 38.5L207.5 37.8L208.6 37.1L209.7 36.4L210.8 35.6L211.8 34.9L212.9 34.2L214.0 33.5L215.1 32.8L216.2 32.1L217.3 31.4L218.4 30.7L219.5 30.0L220.6 29.3L221.7 28.6L222.8 27.9L223.9 27.2L225.0 26.5L226.1 25.8L227.2 25.1L228.3 24.4L229.4 23.7L230.5 23.0L231.6 22.3L232.7 21.6L233.7 20.9L234.8 20.2L235.9 19.5L237.0 18.8L238.1 18.1L239.2 17.4L240.3 16.7L241.4 16.0L242.5 15.3L243.6 14.6" fill="none" stroke="#464646" stroke-width="1.0" stroke-linejoin="round"/><path d="M24.6 155.2h0M26.5 153.9h0M28.4 152.7h0M30.3 151.5h0M32.2 150.3h0M34.1 149.1h0M36.0 147.8h0M37.9 146.6h0M39.8 145.4h0M41.7 144.2h0M43.6 143.0h0M45.5 141.7h0M47.4 140.5h0M49.3 139.3h0M51.2 138.1h0M53.1 136.9h0M55.0 135.6h0M56.9 134.4h0M58.8 133.2h0M60.7 132.0h0M62.6 130.8h0M64.5 129.5h0M66.4 128.3h0M68.3 127.1h0M70.2 125.9h0M72.1 124.7h0M74.0 123.4h0M75.9 122.2h0M77.8 121.0h0M79.7 119.8h0M81.6 118.6h0M83.5 117.3h0M85.4 116.1h0M87.3 114.9h0M89.2 113.7h0M91.1 112.5h0M93.0 111.2h0M94.9 110.0h0M96.8 108.8h0M98.7 107.6h0M100.6 106.4h0M102.5 105.1h0M104.4 103.9h0M106.3 102.7h0M108.2 101.5h0M110.1 100.3h0M112.0 99.0h0M113.9 97.8h0M115.8 96.6h0M117.7 95.4h0M119.6 94.2h0M121.5 92.9h0M123.4 91.7h0M125.3 90.5h0M127.2 89.3h0M129.1 88.1h0M131.0 86.8h0M132.9 85.6h0M134.8 84.4h0M136.7 83.2h0M138.6 82.0h0M140.5 80.7h0M142.4 79.5h0M144.3 78.3h0M146.2 77.1h0M148.1 75.9h0M150.0 74.6h0M151.9 73.4h0M153.8 72.2h0M155.7 71.0h0M157.6 69.8h0M159.5 68.5h0M161.4 67.3h0M163.3 66.1h0M165.2 64.9h0M167.1 63.7h0M169.0 62.5h0M170.9 61.2h0M172.8 60.0h0M174.7 58.8h0M176.6 57.6h0M178.5 56.4h0M180.4 55.1h0M182.3 53.9h0M184.2 52.7h0M186.1 51.5h0M188.0 50.3h0M189.9 49.0h0M191.8 47.8h0M193.7 46.6h0M195.6 45.4h0M197.5 44.2h0M199.4 42.9h0M201.3 41.7h0M203.2 40.5h0M205.1 39.3h0M207.0 38.1h0M208.9 36.8h0M210.8 35.6h0M212.7 34.4h0M214.6 33.2h0M216.5 32.0h0M218.4 30.7h0M220.3 29.5h0M222.2 28.3h0M224.1 27.1h0M226.0 25.9h0M227.9 24.6h0M229.8 23.4h0M231.7 22.2h0M233.6 21.0h0M235.5 19.8h0M237.4 18.5h0M239.3 17.3h0M241.2 16.1h0M243.1 14.9h0" fill="none" stroke="#464646" stroke-width="1.75" stroke-linecap="round"/>
<path d="M24.9 121.5L25.1 120.2L25.3 118.8L25.5 117.5L25.7 116.1L25.8 114.8L26.0 113.4L26.2 112.1L26.4 110.7L26.6 109.4L26.8 108.0L27.0 106.5L27.2 105.1L27.4 103.7L27.6 102.3L27.8 100.8L28.0 99.4L28.2 97.9L28.4 96.5L28.7 95.0L29.0 93.5L29.3 92.0L29.6 90.6L29.9 89.1L30.2 87.6L30.4 86.1L30.7 84.7L30.9 83.2L31.2 81.8L31.4 80.4L31.6 79.0L31.8 77.5L32.0 76.1L32.2 74.7L32.4 73.2L32.6 71.8L32.8 70.3L33.0 68.9L33.2 67.4L33.4 66.0L33.5 64.5L33.7 63.0L33.9 61.5L34.0 60.0L34.1 58.7L34.2 57.3L34.3 56.0L34.3 54.6L34.4 53.2L34.4 51.8L34.5 50.4L34.5 49.1L34.6 47.7L34.7 46.3L34.8 45.0L34.9 43.6L35.1 42.2L35.3 40.7L35.4 39.3L35.6 37.9L35.8 36.5L36.0 35.1L36.2 33.8L36.4 32.5L36.5 31.3L36.7 29.8L36.8 28.3L37.0 26.9L37.1 25.5L37.3 24.2L37.4 23.0L37.5 21.6L37.7 20.4L37.8 19.1L38.0 17.8L38.2 16.4L38.3 14.8L38.5 13.2L38.8 11.8L39.2 10.6L40.0 9.2L41.0 8.4L42.0 8.3L43.3 8.6L44.5 9.0L45.5 9.4L46.5 9.8L47.5 10.4L48.6 10.9L49.7 11.4L51.0 11.8L52.3 12.3L53.7 12.9L54.9 13.4L56.1 14.0L57.2 14.7L58.2 15.3L59.1 16.1L60.1 16.8L61.0 17.6L62.0 18.4L62.9 19.3L63.9 20.2L64.9 21.1L66.0 22.2L66.8 23.0L67.7 23.9L68.6 24.8L69.5 25.8L70.5 26.7L71.5 27.8L72.5 28.8L73.5 29.9L74.6 30.9L75.7 32.0L76.6 32.9L77.5 33.8L78.5 34.7L79.5 35.6L80.5 36.5L81.5 37.4L82.6 38.4L83.6 39.3L84.7 40.3L85.8 41.3L86.9 42.3L88.0 43.3L89.1 44.3L90.2 45.3L91.4 46.3L92.5 47.3L93.5 48.2L94.5 49.1L95.6 50.0L96.6 51.0L97.7 51.9L98.7 52.9L99.8 53.8L100.9 54.8L102.0 55.8L103.1 56.8L104.2 57.7L105.3 58.7L106.4 59.7L107.5 60.7L108.6 61.6L109.7 62.6L110.8 63.6L111.8 64.5L112.9 65.5L114.0 66.4L115.0 67.3L116.1 68.4L117.2 69.4L118.4 70.4L119.5 71.4L120.6 72.4L121.7 73.4L122.8 74.3L123.9 75.3L125.0 76.3L126.1 77.3L127.1 78.3L128.2 79.2L129.3 80.2L130.3 81.1L131.4 82.1L132.4 83.0L133.5 84.0L134.5 84.9L135.7 86.0L136.8 87.0L138.0 88.1L139.2 89.1L140.3 90.2L141.4 91.2L142.6 92.3L143.7 93.3L144.8 94.3L145.9 95.3L146.9 96.2L148.0 97.2L149.0 98.1L150.0 99.0L151.2 100.1L152.4 101.1L153.5 102.1L154.6 103.1L155.7 104.0L156.7 104.9L157.8 105.9L158.9 106.8L160.0 107.8L161.1 108.8L162.2 109.7L163.3 110.7L164.3 111.7L165.4 112.6L166.5 113.6L167.7 114.6L168.8 115.7L170.0 116.8L171.0 117.7L172.0 118.7L173.0 119.7L174.1 120.7L175.2 121.7L176.2 122.8L177.3 123.8L178.4 124.9L179.5 126.0L180.6 127.0L181.7 128.1L182.8 129.1L183.9 130.1L185.0 131.1L186.1 132.1L187.2 133.0L188.3 134.0L189.4 134.9L190.5 135.9L191.6 136.8L192.7 137.7L193.8 138.7L194.9 139.6L196.0 140.5L197.0 141.4L198.1 142.3L199.1 143.2L200.3 144.3L201.5 145.4L202.7 146.5L203.9 147.6L205.1 148.7L206.2 149.8L207.3 150.8L208.3 151.8L209.2 152.7L210.0 153.5L211.0 154.5L211.8 155.4L212.6 156.3L213.3 157.1L214.0 158.1L214.7 159.0L215.4 159.5L216.0 159.2L216.8 158.9L217.8 159.1L219.1 159.6L220.5 160.3L221.8 160.9L223.2 161.5L224.7 162.2L226.1 162.8L227.4 163.0L228.5 162.8L229.5 162.3L230.3 161.6L230.8 160.7L231.2 159.6L231.5 158.4L231.7 157.3L232.0 156.0L232.2 154.6L232.4 153.1L232.6 151.8L232.9 150.4L233.1 148.9L233.4 147.4L233.6 146.0L233.8 144.6L234.0 143.1L234.2 141.8L234.3 140.4L234.5 138.9L234.6 137.6L234.8 136.4L234.9 135.0L235.0 133.6L235.1 132.1L235.2 130.5L235.3 129.3L235.3 128.1L235.4 126.7L235.4 125.2L235.5 123.7L235.5 122.1L235.6 120.5L235.6 118.9L235.6 117.3L235.7 115.7L235.7 114.2L235.8 112.8L235.8 111.5L235.9 110.3L235.9 109.2L236.0 107.8L236.1 106.6L236.1 105.5L236.2 104.4L236.3 103.0L236.4 101.9L236.4 100.6L236.5 99.3L236.5 97.9L236.6 96.4L236.6 94.9L236.7 93.3L236.8 91.8L236.8 90.3L236.9 88.8L236.9 87.4L237.0 86.1L237.1 84.5L237.1 83.0L237.2 81.5L237.3 80.1L237.4 78.7L237.4 77.2L237.5 75.9L237.6 74.5L237.7 73.1L237.8 71.8L237.9 70.6L238.0 69.3L238.1 68.0L238.2 66.7L238.3 65.4L238.4 63.9L238.6 62.5L238.8 61.0L239.0 59.5L239.1 58.0L239.3 56.5L239.5 55.0L239.7 53.6L239.8 52.2L240.0 50.9L240.1 49.5L240.3 48.1L240.4 46.7L240.6 45.3L240.8 43.9L240.9 42.5L241.1 41.0L241.2 39.5L241.4 38.0L241.5 36.6L241.7 35.1L241.8 33.6L242.0 32.0L242.1 30.4L242.3 28.6L242.4 26.9L242.6 25.3L242.7 23.9L242.9 22.7L243.0 21.8L243.2 21.1L243.3 20.6" fill="none" stroke="#0000ff" stroke-width="1.2" stroke-linejoin="round"/><path d="M24.9 121.5h0M25.7 116.0h0M26.5 110.4h0M27.2 104.6h0M28.0 99.0h0M28.8 94.6h0M29.6 90.6h0M30.4 86.6h0M31.1 82.0h0M31.9 76.7h0M32.7 71.0h0M33.5 65.0h0M34.3 55.9h0M35.0 42.6h0M35.8 36.5h0M36.6 30.4h0M37.4 23.2h0M38.2 16.5h0M38.9 11.4h0M39.7 9.7h0M40.5 8.8h0M41.3 8.4h0M42.1 8.3h0M42.8 8.5h0M43.6 8.7h0M44.4 9.0h0M45.2 9.3h0M46.0 9.6h0M46.7 10.0h0M47.5 10.4h0M48.3 10.8h0M49.1 11.1h0M49.9 11.4h0M50.6 11.7h0M51.4 12.0h0M52.2 12.3h0M53.0 12.6h0M53.8 12.9h0M54.5 13.2h0M55.3 13.6h0M56.1 14.0h0M56.9 14.5h0M57.7 15.0h0M58.4 15.5h0M59.2 16.1h0M60.0 16.8h0M60.8 17.4h0M61.6 18.1h0M62.3 18.8h0M63.1 19.5h0M63.9 20.2h0M64.7 20.9h0M65.5 21.7h0M66.2 22.4h0M67.0 23.2h0M67.8 24.0h0M68.6 24.8h0M69.4 25.6h0M70.1 26.4h0M70.9 27.2h0M71.7 28.0h0M72.5 28.8h0M73.3 29.6h0M74.0 30.4h0M74.8 31.1h0M75.6 31.9h0M76.4 32.6h0M77.2 33.4h0M77.9 34.1h0M78.7 34.8h0M79.5 35.6h0M80.3 36.3h0M81.1 37.0h0M81.8 37.7h0M82.6 38.4h0M83.4 39.1h0M84.2 39.8h0M85.0 40.5h0M85.7 41.2h0M86.5 41.9h0M87.3 42.6h0M88.1 43.3h0M88.9 44.0h0M89.6 44.7h0M90.4 45.4h0M91.2 46.1h0M92.0 46.8h0M92.8 47.5h0M93.5 48.2h0M94.3 48.9h0M95.1 49.6h0M95.9 50.3h0M96.7 51.0h0M97.4 51.7h0M98.2 52.4h0M99.0 53.1h0M99.8 53.8h0M100.6 54.5h0M101.3 55.2h0M102.1 55.9h0M102.9 56.6h0M103.7 57.3h0M104.5 58.0h0M105.2 58.7h0M106.0 59.4h0M106.8 60.0h0M107.6 60.7h0M108.4 61.4h0M109.1 62.1h0M109.9 62.8h0M110.7 63.5h0M111.5 64.2h0M112.3 64.9h0M113.0 65.6h0M113.8 66.3h0M114.6 67.0h0M115.4 67.7h0M116.2 68.4h0M116.9 69.1h0M117.7 69.8h0M118.5 70.5h0M119.3 71.2h0M120.1 71.9h0M120.8 72.6h0M121.6 73.3h0M122.4 74.0h0M123.2 74.7h0M124.0 75.4h0M124.7 76.1h0M125.5 76.8h0M126.3 77.5h0M127.1 78.2h0M127.9 78.9h0M128.6 79.6h0M129.4 80.3h0M130.2 81.0h0M131.0 81.7h0M131.8 82.4h0M132.5 83.1h0M133.3 83.8h0M134.1 84.5h0M134.9 85.2h0M135.7 86.0h0M136.4 86.7h0M137.2 87.4h0M138.0 88.1h0M138.8 88.8h0M139.6 89.5h0M140.3 90.2h0M141.1 90.9h0M141.9 91.6h0M142.7 92.4h0M143.5 93.1h0M144.2 93.8h0M145.0 94.5h0M145.8 95.2h0M146.6 95.9h0M147.4 96.6h0M148.1 97.3h0M148.9 98.0h0M149.7 98.7h0M150.5 99.4h0M151.3 100.1h0M152.0 100.8h0M152.8 101.5h0M153.6 102.2h0M154.4 102.9h0M155.2 103.5h0M155.9 104.2h0M156.7 104.9h0M157.5 105.6h0M158.3 106.3h0M159.1 107.0h0M159.8 107.7h0M160.6 108.4h0M161.4 109.0h0M162.2 109.7h0M163.0 110.4h0M163.7 111.1h0M164.5 111.8h0M165.3 112.5h0M166.1 113.2h0M166.9 113.9h0M167.6 114.6h0M168.4 115.3h0M169.2 116.1h0M170.0 116.8h0M170.8 117.5h0M171.5 118.2h0M172.3 119.0h0M173.1 119.7h0M173.9 120.5h0M174.7 121.2h0M175.4 122.0h0M176.2 122.8h0M177.0 123.5h0M177.8 124.3h0M178.6 125.0h0M179.3 125.8h0M180.1 126.5h0M180.9 127.3h0M181.7 128.0h0M182.5 128.8h0M183.2 129.5h0M184.0 130.2h0M184.8 130.9h0M185.6 131.6h0M186.4 132.3h0M187.1 133.0h0M187.9 133.7h0M188.7 134.3h0M189.5 135.0h0M190.3 135.7h0M191.0 136.3h0M191.8 137.0h0M192.6 137.6h0M193.4 138.3h0M194.2 138.9h0M194.9 139.6h0M195.7 140.3h0M196.5 140.9h0M197.3 141.6h0M198.1 142.3h0M198.8 143.0h0M199.6 143.7h0M200.4 144.4h0M201.2 145.1h0M202.0 145.8h0M202.7 146.5h0M203.5 147.3h0M204.3 148.0h0M205.1 148.7h0M205.9 149.5h0M206.6 150.2h0M207.4 151.0h0M208.2 151.7h0M209.0 152.5h0M209.8 153.3h0M210.5 154.1h0M211.3 154.9h0M212.1 155.7h0M212.9 156.6h0M213.7 157.6h0M214.4 158.6h0M215.2 159.4h0M216.0 159.3h0M216.8 158.9h0M217.6 159.1h0M218.3 159.3h0M219.1 159.7h0M219.9 160.0h0M220.7 160.4h0M221.5 160.7h0M222.2 161.1h0M223.0 161.4h0M223.8 161.8h0M224.6 162.2h0M225.4 162.5h0M226.1 162.8h0M226.9 162.9h0M227.7 162.9h0M228.5 162.8h0M229.3 162.4h0M230.0 161.8h0M230.8 160.7h0M231.6 157.8h0M232.4 153.2h0M233.2 148.6h0M233.9 143.6h0M234.7 136.7h0M235.5 122.6h0M236.3 103.3h0M237.1 84.8h0M237.8 70.9h0M238.6 62.4h0M239.4 55.9h0M240.2 49.1h0M241.0 41.9h0M241.7 34.2h0M242.5 26.0h0" fill="none" stroke="#0000ff" stroke-width="2.7" stroke-linecap="round"/>
<rect x="25" y="3.6" width="218.5" height="162.70000000000002" fill="none" stroke="#a3a3a3" stroke-width="1.3"/>
<path d="M134.5 3.6v1.8M134.5 166.3v-1.8M25 84.9h1.8M243.5 84.9h-1.8" stroke="#555" stroke-width="1" fill="none"/>
<line x1="314.2" y1="3.4" x2="314.2" y2="166.6" stroke="#eeeeee" stroke-width="1"/>
<line x1="417" y1="3.4" x2="417" y2="166.6" stroke="#eeeeee" stroke-width="1"/>
<line x1="520.2" y1="3.4" x2="520.2" y2="166.6" stroke="#eeeeee" stroke-width="1"/>
<line x1="307.5" y1="7.8" x2="526.6" y2="7.8" stroke="#eeeeee" stroke-width="1"/>
<line x1="307.5" y1="85" x2="526.6" y2="85" stroke="#eeeeee" stroke-width="1"/>
<line x1="307.5" y1="162.2" x2="526.6" y2="162.2" stroke="#eeeeee" stroke-width="1"/>
<path d="M307.8 125.0L308.0 123.7L308.2 122.3L308.4 121.0L308.6 119.6L308.8 118.3L309.0 116.9L309.2 115.6L309.4 114.3L309.6 113.0L309.8 111.7L310.0 110.3L310.3 109.1L310.5 107.8L310.7 106.5L310.9 105.2L311.2 103.9L311.4 102.5L311.6 101.2L311.9 99.8L312.1 98.4L312.3 96.9L312.6 95.5L312.8 94.1L313.0 92.7L313.3 91.3L313.5 90.0L313.8 88.5L314.0 87.1L314.3 85.7L314.5 84.3L314.8 82.9L315.0 81.5L315.3 80.0L315.5 78.7L315.8 77.4L316.0 76.0L316.3 74.7L316.5 73.3L316.8 72.0L317.1 70.6L317.3 69.3L317.6 68.0L317.9 66.5L318.3 65.1L318.6 63.7L319.0 62.2L319.3 60.8L319.6 59.4L319.9 58.0L320.1 56.6L320.4 55.1L320.5 53.6L320.7 52.2L320.9 50.7L321.0 49.3L321.2 48.0L321.4 46.5L321.5 45.2L321.7 43.8L321.9 42.5L322.0 41.0L322.1 39.7L322.2 38.2L322.3 36.8L322.3 35.3L322.4 33.8L322.5 32.4L322.7 31.1L322.9 29.8L323.2 28.5L323.5 27.3L323.8 26.1L324.1 24.8L324.3 23.6L324.5 22.2L324.7 20.8L325.0 19.4L325.1 18.1L325.3 16.8L325.5 15.6L325.6 14.1L325.7 12.7L325.9 11.5L326.2 10.6L326.8 9.9L327.6 9.6L328.5 9.6L329.7 9.9L330.9 10.3L332.0 10.7L333.0 11.2L333.9 11.8L334.9 12.4L336.0 13.2L336.9 13.8L338.0 14.5L339.1 15.2L340.3 16.0L341.5 16.9L342.7 17.7L344.0 18.6L345.2 19.4L346.4 20.2L347.5 21.0L348.8 21.9L350.0 22.8L351.2 23.6L352.4 24.5L353.6 25.3L354.8 26.2L356.0 27.0L357.1 27.8L358.2 28.5L359.3 29.2L360.5 30.0L361.6 30.7L362.7 31.5L363.9 32.2L365.0 33.0L366.1 33.7L367.2 34.5L368.3 35.3L369.4 36.0L370.5 36.8L371.7 37.6L372.8 38.4L373.9 39.2L375.0 40.0L376.1 40.8L377.2 41.6L378.4 42.4L379.5 43.2L380.6 44.0L381.7 44.8L382.8 45.7L383.9 46.6L385.0 47.5L386.0 48.4L387.0 49.3L388.1 50.3L389.1 51.3L390.1 52.3L391.1 53.3L392.1 54.3L393.0 55.4L394.0 56.4L395.0 57.5L395.9 58.5L396.8 59.6L397.7 60.6L398.6 61.7L399.5 62.8L400.4 63.8L401.3 64.9L402.2 66.1L403.1 67.2L404.1 68.3L405.0 69.5L405.8 70.5L406.7 71.6L407.5 72.7L408.4 73.8L409.2 74.9L410.1 76.0L410.9 77.1L411.8 78.2L412.7 79.4L413.5 80.5L414.4 81.6L415.3 82.8L416.1 83.9L417.0 85.0L417.9 86.1L418.7 87.2L419.6 88.4L420.5 89.5L421.3 90.6L422.2 91.8L423.1 92.9L423.9 94.0L424.8 95.1L425.6 96.2L426.5 97.3L427.3 98.4L428.2 99.5L429.0 100.5L429.9 101.7L430.9 102.8L431.8 104.0L432.7 105.1L433.6 106.2L434.4 107.3L435.3 108.4L436.2 109.4L437.2 110.5L438.1 111.5L439.0 112.5L440.0 113.5L441.0 114.5L441.9 115.5L442.9 116.5L443.9 117.4L444.9 118.4L446.0 119.3L447.0 120.2L448.0 121.1L449.0 122.0L450.1 122.9L451.2 123.9L452.3 124.8L453.4 125.7L454.5 126.6L455.6 127.4L456.8 128.3L457.9 129.2L459.0 130.0L460.1 130.8L461.2 131.6L462.3 132.4L463.5 133.2L464.6 134.0L465.7 134.7L466.8 135.5L467.9 136.3L469.0 137.0L470.1 137.8L471.3 138.5L472.4 139.3L473.5 140.0L474.7 140.8L475.8 141.5L476.9 142.2L478.0 143.0L479.2 143.8L480.4 144.7L481.6 145.5L482.8 146.4L484.0 147.2L485.2 148.1L486.5 149.0L487.6 149.8L488.8 150.6L490.0 151.4L491.2 152.3L492.5 153.1L493.7 154.0L494.9 154.8L496.0 155.5L497.1 156.2L498.0 156.8L499.1 157.5L500.1 158.2L501.1 158.7L502.0 159.2L503.1 159.7L504.1 160.2L505.0 160.4L506.0 160.2L506.8 159.6L507.2 158.8L507.4 157.6L507.6 156.5L507.9 155.3L508.1 154.2L508.4 152.8L508.7 151.6L509.0 150.3L509.4 148.9L509.7 147.4L510.1 146.0L510.5 144.5L510.8 143.1L511.2 141.7L511.6 140.3L511.9 138.9L512.3 137.5L512.6 136.0L513.0 134.6L513.4 133.2L513.7 131.8L514.1 130.4L514.4 128.9L514.8 127.5L515.1 126.1L515.5 124.7L515.9 123.3L516.2 121.9L516.6 120.5L516.9 119.0L517.3 117.6L517.6 116.2L518.0 114.8L518.4 113.4L518.7 111.9L519.1 110.5L519.4 109.1L519.8 107.7L520.1 106.3L520.4 104.9L520.7 103.5L520.9 102.2L521.2 100.9L521.4 99.6L521.6 98.3L521.7 97.0L521.8 95.6L521.9 94.2L521.9 92.9L521.9 91.5L521.9 90.0L521.9 88.7L522.0 87.3L522.0 85.8L522.0 84.3L522.0 82.9L522.1 81.4L522.1 80.0L522.1 78.7L522.2 77.4L522.2 76.1L522.3 74.8L522.3 73.6L522.4 72.2L522.5 70.9L522.6 69.5L522.7 68.1L522.8 66.6L523.0 65.1L523.1 63.7L523.3 62.2L523.4 60.8L523.6 59.5L523.8 58.1L524.0 56.8L524.2 55.5L524.4 54.3L524.6 53.1L524.8 52.0L525.1 50.7L525.5 49.5L525.8 48.3L526.1 47.1L526.3 45.9L526.5 44.8L526.6 43.6L526.8 42.5" fill="none" stroke="#0000ff" stroke-width="1.1" stroke-linejoin="round"/><path d="M307.8 125.0h0M308.5 120.0h0M309.3 115.0h0M310.0 110.5h0M310.8 106.2h0M311.5 101.9h0M312.2 97.5h0M313.0 93.0h0M313.7 88.7h0M314.5 84.6h0M315.2 80.5h0M315.9 76.5h0M316.7 72.6h0M317.4 68.9h0M318.2 65.5h0M318.9 62.5h0M319.6 59.3h0M320.4 54.9h0M321.1 48.7h0M321.9 42.4h0M322.6 31.9h0M323.3 28.0h0M324.1 24.9h0M324.8 20.3h0M325.6 15.0h0M326.3 10.5h0M327.0 9.8h0M327.8 9.6h0M328.5 9.6h0M329.3 9.8h0M330.0 10.0h0M330.7 10.2h0M331.5 10.5h0M332.2 10.8h0M333.0 11.2h0M333.7 11.6h0M334.4 12.1h0M335.2 12.6h0M335.9 13.1h0M336.7 13.6h0M337.4 14.1h0M338.1 14.6h0M338.9 15.1h0M339.6 15.6h0M340.4 16.1h0M341.1 16.6h0M341.8 17.1h0M342.6 17.6h0M343.3 18.1h0M344.1 18.6h0M344.8 19.1h0M345.5 19.6h0M346.3 20.2h0M347.0 20.7h0M347.8 21.2h0M348.5 21.7h0M349.2 22.2h0M350.0 22.7h0M350.7 23.3h0M351.5 23.8h0M352.2 24.3h0M352.9 24.9h0M353.7 25.4h0M354.4 25.9h0M355.2 26.4h0M355.9 26.9h0M356.6 27.4h0M357.4 27.9h0M358.1 28.4h0M358.9 28.9h0M359.6 29.4h0M360.3 29.9h0M361.1 30.4h0M361.8 30.9h0M362.6 31.4h0M363.3 31.9h0M364.0 32.3h0M364.8 32.9h0M365.5 33.4h0M366.3 33.9h0M367.0 34.4h0M367.7 34.9h0M368.5 35.4h0M369.2 35.9h0M370.0 36.4h0M370.7 36.9h0M371.4 37.5h0M372.2 38.0h0M372.9 38.5h0M373.7 39.0h0M374.4 39.6h0M375.1 40.1h0M375.9 40.6h0M376.6 41.2h0M377.4 41.7h0M378.1 42.2h0M378.8 42.7h0M379.6 43.3h0M380.3 43.8h0M381.1 44.4h0M381.8 44.9h0M382.5 45.5h0M383.3 46.1h0M384.0 46.7h0M384.8 47.3h0M385.5 47.9h0M386.2 48.6h0M387.0 49.3h0M387.7 50.0h0M388.5 50.7h0M389.2 51.4h0M389.9 52.2h0M390.7 52.9h0M391.4 53.7h0M392.2 54.4h0M392.9 55.2h0M393.6 56.0h0M394.4 56.8h0M395.1 57.6h0M395.9 58.5h0M396.6 59.3h0M397.3 60.1h0M398.1 61.0h0M398.8 61.9h0M399.6 62.8h0M400.3 63.7h0M401.0 64.6h0M401.8 65.5h0M402.5 66.4h0M403.3 67.3h0M404.0 68.3h0M404.7 69.2h0M405.5 70.1h0M406.2 71.0h0M407.0 72.0h0M407.7 72.9h0M408.4 73.9h0M409.2 74.8h0M409.9 75.8h0M410.7 76.7h0M411.4 77.7h0M412.1 78.7h0M412.9 79.6h0M413.6 80.6h0M414.4 81.6h0M415.1 82.5h0M415.8 83.5h0M416.6 84.5h0M417.3 85.4h0M418.1 86.4h0M418.8 87.3h0M419.5 88.3h0M420.3 89.3h0M421.0 90.2h0M421.8 91.2h0M422.5 92.2h0M423.2 93.1h0M424.0 94.1h0M424.7 95.1h0M425.5 96.0h0M426.2 97.0h0M426.9 97.9h0M427.7 98.8h0M428.4 99.8h0M429.2 100.7h0M429.9 101.6h0M430.6 102.6h0M431.4 103.5h0M432.1 104.4h0M432.9 105.3h0M433.6 106.2h0M434.3 107.1h0M435.1 108.0h0M435.8 108.9h0M436.6 109.8h0M437.3 110.6h0M438.0 111.5h0M438.8 112.3h0M439.5 113.0h0M440.3 113.8h0M441.0 114.6h0M441.7 115.3h0M442.5 116.0h0M443.2 116.7h0M444.0 117.5h0M444.7 118.1h0M445.4 118.8h0M446.2 119.5h0M446.9 120.2h0M447.7 120.8h0M448.4 121.5h0M449.1 122.1h0M449.9 122.8h0M450.6 123.4h0M451.4 124.0h0M452.1 124.6h0M452.8 125.2h0M453.6 125.8h0M454.3 126.4h0M455.1 127.0h0M455.8 127.6h0M456.5 128.1h0M457.3 128.7h0M458.0 129.3h0M458.8 129.8h0M459.5 130.4h0M460.2 130.9h0M461.0 131.5h0M461.7 132.0h0M462.5 132.5h0M463.2 133.0h0M463.9 133.5h0M464.7 134.0h0M465.4 134.6h0M466.2 135.1h0M466.9 135.6h0M467.6 136.1h0M468.4 136.6h0M469.1 137.1h0M469.9 137.6h0M470.6 138.1h0M471.3 138.6h0M472.1 139.1h0M472.8 139.6h0M473.6 140.0h0M474.3 140.5h0M475.0 141.0h0M475.8 141.5h0M476.5 142.0h0M477.3 142.5h0M478.0 143.0h0M478.7 143.5h0M479.5 144.0h0M480.2 144.5h0M481.0 145.1h0M481.7 145.6h0M482.4 146.1h0M483.2 146.7h0M483.9 147.2h0M484.7 147.7h0M485.4 148.2h0M486.1 148.7h0M486.9 149.3h0M487.6 149.8h0M488.4 150.3h0M489.1 150.8h0M489.8 151.3h0M490.6 151.8h0M491.3 152.3h0M492.1 152.8h0M492.8 153.3h0M493.5 153.8h0M494.3 154.3h0M495.0 154.8h0M495.8 155.3h0M496.5 155.8h0M497.2 156.3h0M498.0 156.8h0M498.7 157.3h0M499.5 157.7h0M500.2 158.2h0M500.9 158.6h0M501.7 159.0h0M502.4 159.4h0M503.2 159.8h0M503.9 160.1h0M504.6 160.3h0M505.4 160.3h0M506.1 160.1h0M506.9 159.5h0M507.6 156.5h0M508.3 153.1h0M509.1 150.0h0M509.8 147.2h0M510.6 144.3h0M511.3 141.3h0M512.0 138.4h0M512.8 135.5h0M513.5 132.5h0M514.3 129.6h0M515.0 126.7h0M515.7 123.8h0M516.5 120.8h0M517.2 117.9h0M518.0 115.0h0M518.7 112.0h0M519.4 109.1h0M520.2 105.9h0M520.9 102.3h0M521.7 97.4h0M522.4 72.5h0M523.1 63.5h0M523.9 57.4h0M524.6 52.9h0M525.4 49.9h0M526.1 47.1h0" fill="none" stroke="#0000ff" stroke-width="2.4" stroke-linecap="round"/>
<path d="M307.6 152.1L307.8 151.9L308.0 151.8L308.2 151.7L308.4 151.6L308.5 151.5L308.7 151.4L308.9 151.3L309.1 151.1L309.3 150.8L309.5 150.4L310.0 149.7L310.8 148.8L311.7 147.7L312.6 146.6L313.5 145.4L314.2 144.3L315.0 143.1L315.7 141.8L316.5 140.4L317.2 139.1L317.8 137.7L318.4 136.3L318.9 135.1L319.3 133.8L319.7 132.6L320.0 131.3L320.4 130.0L320.7 128.7L321.0 127.4L321.3 126.1L321.6 124.7L321.9 123.4L322.2 122.0L322.4 120.6L322.7 119.2L322.9 117.7L323.2 116.3L323.4 114.8L323.6 113.4L323.8 112.1L324.0 110.6L324.2 109.2L324.4 107.7L324.6 106.3L324.8 104.8L324.9 103.4L325.1 102.0L325.3 100.7L325.5 99.3L325.7 97.9L325.8 96.6L326.0 95.2L326.2 93.9L326.3 92.6L326.5 91.3L326.7 90.0L326.9 88.6L327.1 87.1L327.3 85.7L327.5 84.3L327.7 82.8L327.9 81.4L328.2 80.0L328.5 78.6L328.9 77.2L329.3 75.8L329.8 74.3L330.2 72.9L330.6 71.5L331.0 70.0L331.3 68.7L331.6 67.5L331.9 66.2L332.2 64.9L332.4 63.6L332.7 62.2L332.9 60.8L333.1 59.4L333.3 58.0L333.4 56.7L333.5 55.3L333.6 53.8L333.6 52.3L333.7 50.8L333.7 49.3L333.7 47.8L333.7 46.3L333.8 44.8L333.8 43.5L333.9 42.2L334.0 41.0L334.2 39.5L334.4 38.2L334.6 36.9L334.9 35.7L335.1 34.5L335.4 33.3L335.7 31.8L336.1 30.4L336.4 29.0L336.8 27.6L337.1 26.3L337.4 24.9L337.8 23.6L338.3 22.6L339.2 21.5L340.4 20.9L341.5 21.0L342.7 21.4L344.0 22.0L345.3 22.6L346.5 23.0L347.6 23.5L348.8 23.9L350.0 24.5L351.2 25.1L352.3 25.9L353.5 26.6L354.7 27.5L356.0 28.3L357.0 29.0L358.1 29.7L359.2 30.4L360.4 31.2L361.5 31.9L362.7 32.7L363.8 33.5L365.0 34.3L366.1 35.0L367.2 35.8L368.3 36.6L369.4 37.3L370.5 38.1L371.7 38.9L372.8 39.7L373.9 40.5L375.0 41.3L376.1 42.1L377.2 42.9L378.4 43.7L379.5 44.5L380.6 45.3L381.7 46.1L382.8 46.9L383.9 47.8L385.0 48.7L386.0 49.6L387.0 50.5L388.1 51.5L389.1 52.4L390.1 53.4L391.1 54.4L392.0 55.4L393.0 56.4L394.0 57.5L395.0 58.5L395.9 59.5L396.9 60.5L397.8 61.6L398.8 62.7L399.7 63.8L400.7 64.9L401.6 65.9L402.5 67.0L403.3 68.0L404.2 69.0L405.0 70.0L405.9 71.1L406.8 72.2L407.7 73.2L408.5 74.2L409.3 75.2L410.2 76.3L411.0 77.3L411.9 78.4L412.7 79.5L413.6 80.6L414.4 81.7L415.3 82.8L416.1 83.9L417.0 85.0L417.9 86.1L418.7 87.2L419.6 88.3L420.4 89.4L421.3 90.5L422.1 91.6L423.0 92.7L423.8 93.7L424.7 94.8L425.5 95.8L426.3 96.8L427.2 97.8L428.1 98.9L429.0 100.0L429.8 101.0L430.7 102.0L431.5 103.0L432.4 104.1L433.3 105.1L434.3 106.2L435.2 107.3L436.2 108.4L437.1 109.5L438.1 110.5L439.0 111.5L440.0 112.5L441.0 113.6L442.0 114.6L442.9 115.6L443.9 116.6L444.9 117.6L445.9 118.5L447.0 119.5L448.0 120.4L449.0 121.3L450.1 122.2L451.2 123.1L452.3 123.9L453.4 124.7L454.5 125.5L455.6 126.3L456.8 127.1L457.9 127.9L459.0 128.7L460.1 129.5L461.2 130.3L462.3 131.1L463.5 131.9L464.6 132.7L465.7 133.4L466.8 134.2L467.9 135.0L469.0 135.7L470.2 136.5L471.3 137.3L472.5 138.1L473.6 138.8L474.8 139.6L475.9 140.3L477.0 141.0L478.0 141.7L479.3 142.5L480.5 143.4L481.7 144.1L482.8 144.9L484.0 145.5L485.2 146.1L486.4 146.5L487.5 147.0L488.7 147.4L490.0 148.0L491.3 148.6L492.5 149.0L493.6 149.1L494.8 148.5L495.7 147.4L496.2 146.4L496.6 145.1L496.9 143.7L497.2 142.4L497.6 141.0L497.9 139.6L498.3 138.2L498.6 136.7L498.9 135.5L499.1 134.3L499.4 133.1L499.6 131.8L499.8 130.5L500.0 129.0L500.1 127.8L500.2 126.5L500.2 125.2L500.3 123.7L500.3 122.2L500.3 120.7L500.3 119.2L500.4 117.7L500.4 116.2L500.5 114.7L500.6 113.3L500.7 112.0L500.9 110.6L501.1 109.2L501.3 107.8L501.6 106.4L501.8 105.1L502.1 103.8L502.4 102.5L502.7 101.3L503.0 100.0L503.4 98.5L503.8 97.1L504.2 95.7L504.7 94.2L505.1 92.8L505.5 91.4L505.8 90.0L506.1 88.6L506.3 87.2L506.5 85.7L506.7 84.3L506.9 82.9L507.1 81.4L507.3 80.0L507.5 78.7L507.7 77.4L507.8 76.1L508.0 74.8L508.2 73.4L508.3 72.1L508.5 70.7L508.7 69.3L508.9 68.0L509.1 66.6L509.2 65.2L509.4 63.7L509.6 62.3L509.8 60.8L510.0 59.4L510.2 57.9L510.4 56.6L510.6 55.2L510.8 53.7L511.1 52.3L511.3 50.8L511.6 49.4L511.8 48.0L512.1 46.6L512.4 45.3L512.7 43.9L513.0 42.6L513.3 41.3L513.6 40.0L514.0 38.7L514.3 37.4L514.7 36.2L515.1 34.9L515.6 33.7L516.2 32.3L516.8 30.9L517.5 29.6L518.3 28.2L519.0 26.9L519.8 25.7L520.5 24.6L521.4 23.4L522.3 22.3L523.2 21.2L524.0 20.3L524.5 19.6L524.7 19.2L524.9 18.9L525.1 18.7L525.3 18.6L525.5 18.5L525.6 18.4L525.8 18.3L526.0 18.2L526.2 18.1L526.4 17.9" fill="none" stroke="#00c0c0" stroke-width="1.1" stroke-linejoin="round"/><path d="M307.6 152.1h0M308.3 151.6h0M309.1 151.2h0M309.8 150.0h0M310.6 149.1h0M311.3 148.2h0M312.0 147.3h0M312.8 146.4h0M313.5 145.4h0M314.3 144.2h0M315.0 143.0h0M315.7 141.7h0M316.5 140.4h0M317.2 138.9h0M318.0 137.3h0M318.7 135.5h0M319.4 133.3h0M320.2 130.7h0M320.9 127.7h0M321.7 124.5h0M322.4 120.7h0M323.1 116.4h0M323.9 111.6h0M324.6 106.0h0M325.4 100.2h0M326.1 94.5h0M326.8 89.0h0M327.6 83.5h0M328.3 79.5h0M329.1 76.7h0M329.8 74.3h0M330.5 71.8h0M331.3 68.8h0M332.0 65.5h0M332.8 61.7h0M333.5 55.6h0M334.2 39.2h0M335.0 35.2h0M335.7 31.9h0M336.5 28.9h0M337.2 25.9h0M337.9 23.3h0M338.7 22.1h0M339.4 21.4h0M340.2 21.0h0M340.9 20.9h0M341.6 21.1h0M342.4 21.3h0M343.1 21.6h0M343.9 22.0h0M344.6 22.3h0M345.3 22.6h0M346.1 22.9h0M346.8 23.2h0M347.6 23.4h0M348.3 23.7h0M349.0 24.0h0M349.8 24.4h0M350.5 24.8h0M351.3 25.2h0M352.0 25.7h0M352.7 26.1h0M353.5 26.6h0M354.2 27.1h0M355.0 27.6h0M355.7 28.1h0M356.4 28.6h0M357.2 29.1h0M357.9 29.6h0M358.7 30.0h0M359.4 30.5h0M360.1 31.0h0M360.9 31.5h0M361.6 32.0h0M362.4 32.5h0M363.1 33.0h0M363.8 33.5h0M364.6 34.0h0M365.3 34.5h0M366.1 35.0h0M366.8 35.5h0M367.5 36.0h0M368.3 36.6h0M369.0 37.1h0M369.8 37.6h0M370.5 38.1h0M371.2 38.6h0M372.0 39.1h0M372.7 39.7h0M373.5 40.2h0M374.2 40.7h0M374.9 41.3h0M375.7 41.8h0M376.4 42.3h0M377.2 42.8h0M377.9 43.4h0M378.6 43.9h0M379.4 44.4h0M380.1 44.9h0M380.9 45.5h0M381.6 46.0h0M382.3 46.6h0M383.1 47.1h0M383.8 47.7h0M384.6 48.3h0M385.3 49.0h0M386.0 49.6h0M386.8 50.3h0M387.5 51.0h0M388.3 51.6h0M389.0 52.4h0M389.7 53.1h0M390.5 53.8h0M391.2 54.6h0M392.0 55.3h0M392.7 56.1h0M393.4 56.9h0M394.2 57.6h0M394.9 58.4h0M395.7 59.2h0M396.4 60.0h0M397.1 60.8h0M397.9 61.7h0M398.6 62.5h0M399.4 63.4h0M400.1 64.2h0M400.8 65.1h0M401.6 65.9h0M402.3 66.8h0M403.1 67.7h0M403.8 68.6h0M404.5 69.5h0M405.3 70.3h0M406.0 71.2h0M406.8 72.1h0M407.5 73.0h0M408.2 73.9h0M409.0 74.8h0M409.7 75.7h0M410.5 76.6h0M411.2 77.6h0M411.9 78.5h0M412.7 79.4h0M413.4 80.4h0M414.2 81.3h0M414.9 82.3h0M415.6 83.2h0M416.4 84.2h0M417.1 85.2h0M417.9 86.1h0M418.6 87.1h0M419.3 88.0h0M420.1 89.0h0M420.8 89.9h0M421.6 90.9h0M422.3 91.8h0M423.0 92.7h0M423.8 93.7h0M424.5 94.6h0M425.3 95.5h0M426.0 96.4h0M426.7 97.3h0M427.5 98.2h0M428.2 99.1h0M429.0 100.0h0M429.7 100.8h0M430.4 101.7h0M431.2 102.6h0M431.9 103.5h0M432.7 104.3h0M433.4 105.2h0M434.1 106.1h0M434.9 106.9h0M435.6 107.8h0M436.4 108.6h0M437.1 109.4h0M437.8 110.2h0M438.6 111.0h0M439.3 111.8h0M440.1 112.6h0M440.8 113.4h0M441.5 114.2h0M442.3 114.9h0M443.0 115.7h0M443.8 116.4h0M444.5 117.2h0M445.2 117.9h0M446.0 118.6h0M446.7 119.3h0M447.5 119.9h0M448.2 120.6h0M448.9 121.2h0M449.7 121.9h0M450.4 122.5h0M451.2 123.1h0M451.9 123.6h0M452.6 124.2h0M453.4 124.7h0M454.1 125.2h0M454.9 125.8h0M455.6 126.3h0M456.3 126.8h0M457.1 127.3h0M457.8 127.9h0M458.6 128.4h0M459.3 128.9h0M460.0 129.4h0M460.8 130.0h0M461.5 130.5h0M462.3 131.0h0M463.0 131.5h0M463.7 132.1h0M464.5 132.6h0M465.2 133.1h0M466.0 133.6h0M466.7 134.1h0M467.4 134.6h0M468.2 135.1h0M468.9 135.6h0M469.7 136.1h0M470.4 136.7h0M471.1 137.2h0M471.9 137.7h0M472.6 138.1h0M473.4 138.6h0M474.1 139.1h0M474.8 139.6h0M475.6 140.1h0M476.3 140.6h0M477.1 141.1h0M477.8 141.6h0M478.5 142.1h0M479.3 142.5h0M480.0 143.0h0M480.8 143.5h0M481.5 144.0h0M482.2 144.5h0M483.0 144.9h0M483.7 145.3h0M484.5 145.7h0M485.2 146.1h0M485.9 146.4h0M486.7 146.7h0M487.4 146.9h0M488.2 147.2h0M488.9 147.5h0M489.6 147.8h0M490.4 148.1h0M491.1 148.5h0M491.9 148.8h0M492.6 149.0h0M493.3 149.1h0M494.1 148.9h0M494.8 148.5h0M495.6 147.6h0M496.3 146.0h0M497.0 143.1h0M497.8 140.2h0M498.5 137.1h0M499.3 133.6h0M500.0 129.0h0M500.7 111.7h0M501.5 106.9h0M502.2 103.4h0M503.0 100.2h0M503.7 97.4h0M504.4 94.9h0M505.2 92.5h0M505.9 89.4h0M506.7 84.9h0M507.4 79.3h0M508.1 73.6h0M508.9 67.9h0M509.6 62.1h0M510.4 56.8h0M511.1 52.1h0M511.8 48.0h0M512.6 44.4h0M513.3 41.3h0M514.1 38.4h0M514.8 35.9h0M515.5 33.9h0M516.3 32.1h0M517.0 30.6h0M517.8 29.2h0M518.5 27.9h0M519.2 26.6h0M520.0 25.4h0M520.7 24.3h0M521.5 23.3h0M522.2 22.4h0M522.9 21.5h0M523.7 20.6h0M524.4 19.7h0M525.2 18.7h0M525.9 18.2h0" fill="none" stroke="#00c0c0" stroke-width="2.7" stroke-linecap="round"/>
<path d="M307.6 152.1L308.4 151.5L309.3 151.0L310.1 150.5L311.0 150.0L311.8 149.5L312.6 149.0L313.5 148.5L314.3 147.9L315.1 147.3L316.0 146.5L316.9 145.8L317.9 145.1L319.1 144.2L320.4 143.3L321.6 142.5L322.7 141.6L323.8 140.8L324.9 139.9L325.9 139.1L326.8 138.2L327.6 137.2L328.2 136.0L328.7 134.7L329.1 133.2L329.5 131.8L329.8 130.4L330.1 129.0L330.4 127.7L330.7 126.3L330.9 124.8L331.2 123.3L331.4 122.0L331.7 120.7L332.0 119.3L332.2 117.8L332.5 116.4L332.8 114.9L333.1 113.4L333.3 112.0L333.5 110.7L333.7 109.3L333.9 108.0L334.1 106.6L334.3 105.3L334.5 103.9L334.7 102.6L334.9 101.3L335.1 100.0L335.3 98.5L335.6 97.1L335.9 95.6L336.1 94.2L336.4 92.8L336.6 91.4L336.9 90.0L337.2 88.6L337.4 87.2L337.7 85.8L338.0 84.3L338.2 82.9L338.5 81.5L338.8 80.0L339.0 78.7L339.3 77.4L339.5 76.0L339.8 74.6L340.0 73.2L340.3 71.9L340.5 70.5L340.8 69.2L341.0 68.0L341.3 66.6L341.5 65.3L341.8 64.1L342.1 62.8L342.3 61.5L342.5 60.0L342.6 58.7L342.7 57.3L342.8 55.8L342.9 54.2L343.0 52.6L343.0 51.0L343.1 49.5L343.2 48.0L343.3 46.6L343.5 45.3L343.8 43.7L344.2 42.2L344.6 40.9L344.9 39.5L345.3 38.2L345.7 36.7L346.0 35.2L346.3 33.8L346.7 32.5L347.2 31.2L347.6 30.0L348.2 29.0L348.8 28.1L349.6 27.6L350.6 27.6L351.8 27.9L353.1 28.3L354.3 28.7L355.5 29.2L356.7 29.8L358.0 30.5L359.1 31.2L360.2 32.0L361.4 32.8L362.5 33.7L363.7 34.6L365.0 35.5L366.0 36.2L367.1 37.0L368.2 37.7L369.3 38.5L370.5 39.3L371.6 40.1L372.8 40.9L373.9 41.7L375.0 42.5L376.1 43.3L377.2 44.1L378.4 44.9L379.5 45.7L380.6 46.5L381.7 47.4L382.8 48.2L383.9 49.1L385.0 50.0L386.0 50.9L387.0 51.8L388.0 52.7L389.1 53.6L390.1 54.6L391.1 55.5L392.0 56.5L393.0 57.5L394.0 58.5L395.0 59.5L396.0 60.6L397.1 61.7L398.1 62.8L399.2 63.9L400.2 65.1L401.2 66.2L402.2 67.3L403.2 68.4L404.1 69.5L405.0 70.5L405.9 71.6L406.8 72.6L407.7 73.6L408.5 74.6L409.3 75.5L410.2 76.5L411.0 77.5L411.9 78.6L412.7 79.6L413.6 80.7L414.4 81.8L415.3 82.8L416.1 83.9L417.0 85.0L417.9 86.1L418.7 87.2L419.6 88.2L420.4 89.3L421.3 90.4L422.1 91.4L423.0 92.5L423.8 93.5L424.7 94.5L425.5 95.4L426.3 96.4L427.2 97.4L428.1 98.4L429.0 99.5L429.9 100.5L430.8 101.6L431.8 102.7L432.8 103.8L433.8 104.9L434.8 106.1L435.9 107.2L436.9 108.3L438.0 109.4L439.0 110.5L440.0 111.5L441.0 112.5L442.0 113.5L442.9 114.5L443.9 115.4L444.9 116.4L446.0 117.3L447.0 118.2L448.0 119.1L449.0 120.0L450.1 120.9L451.2 121.8L452.3 122.6L453.4 123.5L454.5 124.3L455.6 125.1L456.8 125.9L457.9 126.7L459.0 127.5L460.1 128.3L461.2 129.1L462.4 129.9L463.5 130.7L464.7 131.5L465.8 132.3L466.9 133.0L468.0 133.8L469.0 134.5L470.3 135.4L471.5 136.3L472.6 137.2L473.8 138.0L474.9 138.8L476.0 139.5L477.3 140.2L478.5 140.8L479.7 141.3L480.9 141.7L482.2 142.1L483.4 142.4L484.4 142.4L485.2 141.9L485.8 141.0L486.4 140.0L486.8 138.8L487.3 137.5L487.7 136.2L488.0 134.8L488.3 133.3L488.7 131.8L489.1 130.5L489.4 129.1L489.8 127.8L490.2 126.3L490.5 124.7L490.7 123.4L490.8 122.0L490.9 120.5L491.0 119.0L491.0 117.4L491.1 115.8L491.2 114.2L491.3 112.7L491.4 111.3L491.5 110.0L491.7 108.5L491.9 107.2L492.2 105.9L492.5 104.7L492.7 103.4L493.0 102.0L493.2 100.8L493.5 99.5L493.7 98.1L494.0 96.8L494.2 95.4L494.5 94.0L494.7 92.6L495.0 91.3L495.2 90.0L495.5 88.5L495.8 87.1L496.0 85.7L496.3 84.2L496.6 82.8L496.8 81.4L497.1 80.0L497.4 78.6L497.6 77.2L497.9 75.8L498.1 74.4L498.4 72.9L498.7 71.5L498.9 70.0L499.1 68.7L499.3 67.4L499.5 66.1L499.7 64.7L499.9 63.4L500.1 62.0L500.3 60.7L500.5 59.3L500.7 58.0L500.9 56.6L501.2 55.1L501.5 53.6L501.8 52.2L502.0 50.7L502.3 49.3L502.6 48.0L502.8 46.7L503.1 45.2L503.3 43.7L503.6 42.3L503.9 41.0L504.2 39.6L504.5 38.2L504.9 36.8L505.3 35.3L505.8 34.0L506.4 32.8L507.2 31.8L508.1 30.9L509.1 30.1L510.2 29.2L511.3 28.4L512.4 27.5L513.6 26.7L514.9 25.8L516.1 24.9L517.1 24.2L518.0 23.5L518.9 22.7L519.7 22.1L520.5 21.5L521.4 21.0L522.2 20.5L523.0 20.0L523.9 19.5L524.7 19.0L525.6 18.5L526.4 17.9" fill="none" stroke="#007800" stroke-width="1.1" stroke-linejoin="round"/><path d="M307.6 152.1h0M308.3 151.6h0M309.1 151.2h0M309.8 150.7h0M310.6 150.2h0M311.3 149.8h0M312.0 149.3h0M312.8 148.9h0M313.5 148.5h0M314.3 148.0h0M315.0 147.4h0M315.7 146.7h0M316.5 146.1h0M317.2 145.6h0M318.0 145.1h0M318.7 144.5h0M319.4 144.0h0M320.2 143.5h0M320.9 143.0h0M321.7 142.4h0M322.4 141.8h0M323.1 141.3h0M323.9 140.7h0M324.6 140.1h0M325.4 139.5h0M326.1 138.9h0M326.8 138.2h0M327.6 137.2h0M328.3 135.8h0M329.1 133.5h0M329.8 130.4h0M330.5 126.9h0M331.3 122.9h0M332.0 119.0h0M332.8 115.1h0M333.5 110.8h0M334.2 105.8h0M335.0 100.8h0M335.7 96.4h0M336.5 92.4h0M337.2 88.4h0M337.9 84.5h0M338.7 80.6h0M339.4 76.6h0M340.2 72.6h0M340.9 68.5h0M341.6 64.8h0M342.4 60.8h0M343.1 49.2h0M343.9 43.5h0M344.6 40.7h0M345.3 38.0h0M346.1 34.8h0M346.8 32.2h0M347.6 30.2h0M348.3 28.9h0M349.0 28.0h0M349.8 27.6h0M350.5 27.6h0M351.3 27.7h0M352.0 27.9h0M352.7 28.2h0M353.5 28.4h0M354.2 28.7h0M355.0 29.0h0M355.7 29.3h0M356.4 29.7h0M357.2 30.1h0M357.9 30.5h0M358.7 30.9h0M359.4 31.4h0M360.1 31.9h0M360.9 32.4h0M361.6 33.0h0M362.4 33.5h0M363.1 34.1h0M363.8 34.7h0M364.6 35.2h0M365.3 35.7h0M366.1 36.2h0M366.8 36.8h0M367.5 37.3h0M368.3 37.8h0M369.0 38.3h0M369.8 38.8h0M370.5 39.3h0M371.2 39.8h0M372.0 40.4h0M372.7 40.9h0M373.5 41.4h0M374.2 41.9h0M374.9 42.5h0M375.7 43.0h0M376.4 43.5h0M377.2 44.1h0M377.9 44.6h0M378.6 45.1h0M379.4 45.7h0M380.1 46.2h0M380.9 46.7h0M381.6 47.3h0M382.3 47.9h0M383.1 48.4h0M383.8 49.0h0M384.6 49.6h0M385.3 50.3h0M386.0 50.9h0M386.8 51.5h0M387.5 52.2h0M388.3 52.9h0M389.0 53.6h0M389.7 54.3h0M390.5 55.0h0M391.2 55.7h0M392.0 56.4h0M392.7 57.2h0M393.4 57.9h0M394.2 58.7h0M394.9 59.4h0M395.7 60.2h0M396.4 61.0h0M397.1 61.7h0M397.9 62.5h0M398.6 63.3h0M399.4 64.2h0M400.1 65.0h0M400.8 65.8h0M401.6 66.6h0M402.3 67.5h0M403.1 68.3h0M403.8 69.1h0M404.5 70.0h0M405.3 70.8h0M406.0 71.7h0M406.8 72.5h0M407.5 73.4h0M408.2 74.2h0M409.0 75.1h0M409.7 76.0h0M410.5 76.9h0M411.2 77.7h0M411.9 78.6h0M412.7 79.6h0M413.4 80.5h0M414.2 81.4h0M414.9 82.4h0M415.6 83.3h0M416.4 84.2h0M417.1 85.2h0M417.9 86.1h0M418.6 87.0h0M419.3 87.9h0M420.1 88.9h0M420.8 89.8h0M421.6 90.7h0M422.3 91.6h0M423.0 92.5h0M423.8 93.4h0M424.5 94.3h0M425.3 95.2h0M426.0 96.1h0M426.7 96.9h0M427.5 97.8h0M428.2 98.6h0M429.0 99.5h0M429.7 100.3h0M430.4 101.1h0M431.2 102.0h0M431.9 102.8h0M432.7 103.6h0M433.4 104.5h0M434.1 105.3h0M434.9 106.1h0M435.6 106.9h0M436.4 107.7h0M437.1 108.5h0M437.8 109.3h0M438.6 110.1h0M439.3 110.8h0M440.1 111.6h0M440.8 112.3h0M441.5 113.1h0M442.3 113.8h0M443.0 114.5h0M443.8 115.2h0M444.5 115.9h0M445.2 116.6h0M446.0 117.3h0M446.7 118.0h0M447.5 118.7h0M448.2 119.3h0M448.9 119.9h0M449.7 120.6h0M450.4 121.2h0M451.2 121.8h0M451.9 122.3h0M452.6 122.9h0M453.4 123.4h0M454.1 124.0h0M454.9 124.5h0M455.6 125.1h0M456.3 125.6h0M457.1 126.1h0M457.8 126.6h0M458.6 127.2h0M459.3 127.7h0M460.0 128.2h0M460.8 128.8h0M461.5 129.3h0M462.3 129.8h0M463.0 130.3h0M463.7 130.8h0M464.5 131.4h0M465.2 131.9h0M466.0 132.4h0M466.7 132.9h0M467.4 133.4h0M468.2 133.9h0M468.9 134.4h0M469.7 135.0h0M470.4 135.5h0M471.1 136.1h0M471.9 136.6h0M472.6 137.2h0M473.4 137.7h0M474.1 138.3h0M474.8 138.8h0M475.6 139.2h0M476.3 139.7h0M477.1 140.1h0M477.8 140.4h0M478.5 140.8h0M479.3 141.1h0M480.0 141.4h0M480.8 141.7h0M481.5 141.9h0M482.2 142.1h0M483.0 142.3h0M483.7 142.4h0M484.5 142.4h0M485.2 141.8h0M485.9 140.7h0M486.7 139.2h0M487.4 137.1h0M488.2 134.2h0M488.9 131.1h0M489.6 128.5h0M490.4 125.3h0M491.1 115.4h0M491.9 107.7h0M492.6 104.0h0M493.3 100.2h0M494.1 96.1h0M494.8 92.1h0M495.6 88.1h0M496.3 84.2h0M497.0 80.3h0M497.8 76.3h0M498.5 72.2h0M499.3 67.7h0M500.0 62.6h0M500.7 57.8h0M501.5 53.6h0M502.2 49.7h0M503.0 45.8h0M503.7 41.8h0M504.4 38.6h0M505.2 35.7h0M505.9 33.7h0M506.7 32.5h0M507.4 31.6h0M508.1 30.9h0M508.9 30.3h0M509.6 29.7h0M510.4 29.1h0M511.1 28.6h0M511.8 28.0h0M512.6 27.4h0M513.3 26.9h0M514.1 26.3h0M514.8 25.8h0M515.5 25.3h0M516.3 24.8h0M517.0 24.2h0M517.8 23.7h0M518.5 23.1h0M519.2 22.4h0M520.0 21.9h0M520.7 21.4h0M521.5 21.0h0M522.2 20.5h0M522.9 20.1h0M523.7 19.6h0M524.4 19.2h0M525.2 18.7h0M525.9 18.2h0" fill="none" stroke="#007800" stroke-width="2.7" stroke-linecap="round"/>
<path d="M307.6 152.1L308.8 151.4L309.9 150.6L311.1 149.9L312.2 149.2L313.4 148.5L314.6 147.8L315.7 147.1L316.9 146.4L318.0 145.7L319.2 145.0L320.4 144.2L321.5 143.5L322.6 142.8L323.7 142.1L325.0 141.3L326.0 140.7L327.2 140.2L328.4 139.5L329.6 138.9L330.8 138.2L332.0 137.5L333.2 136.7L334.4 135.8L335.5 135.0L336.6 134.0L337.7 133.0L338.8 131.8L339.6 130.8L340.5 129.7L341.3 128.5L342.1 127.3L342.9 126.0L343.6 124.7L344.3 123.3L344.9 121.9L345.5 120.5L345.9 119.3L346.3 118.0L346.6 116.6L346.9 115.2L347.2 113.8L347.5 112.3L347.7 110.9L347.9 109.4L348.1 108.0L348.3 106.5L348.5 105.1L348.7 103.8L348.9 102.5L349.2 101.0L349.4 99.5L349.6 98.1L349.8 96.7L350.1 95.3L350.3 94.0L350.5 92.6L350.7 91.3L350.9 90.0L351.2 88.5L351.4 87.1L351.7 85.6L352.0 84.2L352.2 82.8L352.5 81.4L352.7 80.0L352.9 78.6L353.1 77.1L353.3 75.7L353.5 74.3L353.7 72.9L353.8 71.4L354.0 70.0L354.2 68.6L354.3 67.2L354.5 65.8L354.7 64.4L354.9 63.0L355.0 61.5L355.2 60.0L355.3 58.6L355.5 57.1L355.6 55.5L355.8 53.9L355.9 52.3L356.1 50.8L356.2 49.3L356.4 47.9L356.6 46.7L356.9 45.1L357.3 43.6L357.6 42.3L358.1 41.0L358.7 39.6L359.4 38.3L360.2 37.5L361.5 37.6L363.0 38.2L364.1 38.6L365.4 39.1L366.7 39.6L368.0 40.2L369.1 40.7L370.2 41.3L371.4 42.0L372.6 42.7L373.8 43.4L375.0 44.2L376.0 44.9L377.1 45.6L378.2 46.4L379.4 47.2L380.5 48.0L381.6 48.9L382.8 49.8L383.9 50.6L385.0 51.5L386.1 52.4L387.3 53.3L388.4 54.2L389.5 55.1L390.6 56.1L391.7 57.0L392.8 58.0L393.9 59.0L395.0 60.0L396.0 61.0L397.1 62.0L398.1 63.1L399.2 64.2L400.2 65.3L401.2 66.4L402.2 67.4L403.2 68.5L404.1 69.5L405.0 70.5L406.0 71.6L406.8 72.6L407.7 73.6L408.5 74.5L409.3 75.5L410.2 76.5L411.0 77.5L411.9 78.6L412.7 79.6L413.6 80.7L414.4 81.8L415.3 82.8L416.1 83.9L417.0 85.0L417.9 86.1L418.7 87.2L419.6 88.2L420.4 89.3L421.3 90.4L422.1 91.4L423.0 92.5L423.8 93.5L424.7 94.5L425.5 95.5L426.3 96.4L427.2 97.4L428.0 98.4L429.0 99.5L429.9 100.5L430.8 101.5L431.8 102.6L432.8 103.6L433.8 104.7L434.8 105.8L435.9 106.9L436.9 108.0L438.0 109.0L439.0 110.0L440.1 111.0L441.2 112.0L442.3 113.0L443.4 113.9L444.5 114.9L445.6 115.8L446.7 116.7L447.9 117.6L449.0 118.5L450.1 119.4L451.2 120.2L452.4 121.1L453.5 122.0L454.6 122.8L455.8 123.6L456.9 124.4L458.0 125.1L459.0 125.8L460.2 126.6L461.4 127.3L462.6 128.0L463.8 128.7L464.9 129.3L466.0 129.8L467.3 130.4L468.6 130.9L469.9 131.4L471.0 131.8L472.5 132.4L473.8 132.5L474.6 131.7L475.3 130.4L475.9 129.0L476.4 127.7L476.7 126.4L477.1 124.9L477.4 123.3L477.6 122.1L477.8 120.7L477.9 119.2L478.1 117.7L478.2 116.1L478.4 114.5L478.5 112.9L478.7 111.4L478.8 110.0L479.0 108.5L479.1 107.0L479.3 105.6L479.5 104.2L479.7 102.8L479.8 101.4L480.0 100.0L480.2 98.6L480.3 97.1L480.5 95.7L480.7 94.3L480.9 92.9L481.1 91.4L481.3 90.0L481.5 88.6L481.8 87.2L482.0 85.8L482.3 84.4L482.6 82.9L482.8 81.5L483.1 80.0L483.3 78.7L483.5 77.4L483.7 76.0L483.9 74.7L484.2 73.3L484.4 71.9L484.6 70.5L484.8 69.0L485.1 67.5L485.3 66.2L485.5 64.9L485.7 63.5L485.9 62.0L486.1 60.6L486.3 59.1L486.5 57.7L486.8 56.2L487.1 54.8L487.4 53.4L487.7 52.0L488.1 50.7L488.5 49.5L489.1 48.1L489.7 46.7L490.4 45.3L491.1 44.0L491.9 42.7L492.7 41.5L493.5 40.3L494.4 39.2L495.2 38.2L496.3 37.0L497.4 36.0L498.5 35.0L499.6 34.2L500.8 33.3L502.0 32.5L503.2 31.8L504.4 31.1L505.6 30.5L506.8 29.8L508.0 29.3L509.0 28.7L510.3 27.9L511.4 27.2L512.5 26.5L513.6 25.8L514.8 25.0L516.0 24.3L517.1 23.6L518.3 22.9L519.4 22.2L520.6 21.5L521.8 20.8L522.9 20.1L524.1 19.4L525.2 18.6L526.4 17.9" fill="none" stroke="#6aa800" stroke-width="1.1" stroke-linejoin="round"/><path d="M307.6 152.1h0M308.3 151.6h0M309.1 151.2h0M309.8 150.7h0M310.6 150.2h0M311.3 149.8h0M312.0 149.3h0M312.8 148.9h0M313.5 148.4h0M314.3 148.0h0M315.0 147.5h0M315.7 147.1h0M316.5 146.6h0M317.2 146.2h0M318.0 145.7h0M318.7 145.3h0M319.4 144.8h0M320.2 144.4h0M320.9 143.9h0M321.7 143.4h0M322.4 143.0h0M323.1 142.5h0M323.9 142.0h0M324.6 141.5h0M325.4 141.1h0M326.1 140.7h0M326.8 140.3h0M327.6 139.9h0M328.3 139.6h0M329.1 139.2h0M329.8 138.8h0M330.5 138.4h0M331.3 138.0h0M332.0 137.5h0M332.8 137.0h0M333.5 136.5h0M334.2 135.9h0M335.0 135.4h0M335.7 134.8h0M336.5 134.2h0M337.2 133.5h0M337.9 132.7h0M338.7 131.9h0M339.4 131.0h0M340.2 130.1h0M340.9 129.1h0M341.6 128.0h0M342.4 126.8h0M343.1 125.6h0M343.9 124.2h0M344.6 122.6h0M345.3 120.9h0M346.1 118.7h0M346.8 115.8h0M347.6 111.7h0M348.3 106.5h0M349.0 101.7h0M349.8 97.1h0M350.5 92.3h0M351.3 88.0h0M352.0 84.0h0M352.7 79.7h0M353.5 74.3h0M354.2 68.2h0M355.0 62.1h0M355.7 54.7h0M356.4 47.7h0M357.2 43.9h0M357.9 41.5h0M358.7 39.7h0M359.4 38.3h0M360.1 37.6h0M360.9 37.6h0M361.6 37.7h0M362.4 37.9h0M363.1 38.2h0M363.8 38.5h0M364.6 38.8h0M365.3 39.0h0M366.1 39.3h0M366.8 39.6h0M367.5 40.0h0M368.3 40.3h0M369.0 40.7h0M369.8 41.1h0M370.5 41.5h0M371.2 41.9h0M372.0 42.3h0M372.7 42.8h0M373.5 43.2h0M374.2 43.7h0M374.9 44.2h0M375.7 44.6h0M376.4 45.1h0M377.2 45.7h0M377.9 46.2h0M378.6 46.7h0M379.4 47.2h0M380.1 47.8h0M380.9 48.3h0M381.6 48.9h0M382.3 49.4h0M383.1 50.0h0M383.8 50.6h0M384.6 51.2h0M385.3 51.7h0M386.0 52.3h0M386.8 52.9h0M387.5 53.5h0M388.3 54.1h0M389.0 54.7h0M389.7 55.3h0M390.5 56.0h0M391.2 56.6h0M392.0 57.2h0M392.7 57.9h0M393.4 58.6h0M394.2 59.2h0M394.9 59.9h0M395.7 60.6h0M396.4 61.4h0M397.1 62.1h0M397.9 62.8h0M398.6 63.6h0M399.4 64.4h0M400.1 65.2h0M400.8 65.9h0M401.6 66.7h0M402.3 67.6h0M403.1 68.4h0M403.8 69.2h0M404.5 70.0h0M405.3 70.8h0M406.0 71.6h0M406.8 72.5h0M407.5 73.3h0M408.2 74.2h0M409.0 75.1h0M409.7 76.0h0M410.5 76.8h0M411.2 77.7h0M411.9 78.6h0M412.7 79.6h0M413.4 80.5h0M414.2 81.4h0M414.9 82.4h0M415.6 83.3h0M416.4 84.2h0M417.1 85.2h0M417.9 86.1h0M418.6 87.0h0M419.3 87.9h0M420.1 88.9h0M420.8 89.8h0M421.6 90.7h0M422.3 91.6h0M423.0 92.5h0M423.8 93.4h0M424.5 94.3h0M425.3 95.2h0M426.0 96.1h0M426.7 96.9h0M427.5 97.8h0M428.2 98.6h0M429.0 99.5h0M429.7 100.3h0M430.4 101.1h0M431.2 101.9h0M431.9 102.7h0M432.7 103.5h0M433.4 104.3h0M434.1 105.1h0M434.9 105.9h0M435.6 106.6h0M436.4 107.4h0M437.1 108.1h0M437.8 108.9h0M438.6 109.6h0M439.3 110.3h0M440.1 111.0h0M440.8 111.7h0M441.5 112.3h0M442.3 113.0h0M443.0 113.6h0M443.8 114.2h0M444.5 114.9h0M445.2 115.5h0M446.0 116.1h0M446.7 116.7h0M447.5 117.3h0M448.2 117.9h0M448.9 118.5h0M449.7 119.0h0M450.4 119.6h0M451.2 120.2h0M451.9 120.7h0M452.6 121.3h0M453.4 121.9h0M454.1 122.4h0M454.9 122.9h0M455.6 123.5h0M456.3 124.0h0M457.1 124.5h0M457.8 125.0h0M458.6 125.5h0M459.3 126.0h0M460.0 126.5h0M460.8 126.9h0M461.5 127.4h0M462.3 127.8h0M463.0 128.2h0M463.7 128.6h0M464.5 129.0h0M465.2 129.4h0M466.0 129.8h0M466.7 130.1h0M467.4 130.5h0M468.2 130.8h0M468.9 131.1h0M469.7 131.3h0M470.4 131.6h0M471.1 131.9h0M471.9 132.2h0M472.6 132.4h0M473.4 132.5h0M474.1 132.2h0M474.8 131.3h0M475.6 129.8h0M476.3 127.9h0M477.1 125.0h0M477.8 120.5h0M478.5 112.6h0M479.3 105.9h0M480.0 99.8h0M480.8 93.8h0M481.5 88.8h0M482.2 84.7h0M483.0 80.7h0M483.7 76.1h0M484.5 71.4h0M485.2 66.9h0M485.9 61.8h0M486.7 56.8h0M487.4 53.1h0M488.2 50.5h0M488.9 48.5h0M489.6 46.8h0M490.4 45.3h0M491.1 44.0h0M491.9 42.8h0M492.6 41.6h0M493.3 40.6h0M494.1 39.6h0M494.8 38.7h0M495.6 37.8h0M496.3 37.0h0M497.0 36.3h0M497.8 35.6h0M498.5 35.0h0M499.3 34.4h0M500.0 33.9h0M500.7 33.4h0M501.5 32.9h0M502.2 32.4h0M503.0 31.9h0M503.7 31.5h0M504.4 31.1h0M505.2 30.7h0M505.9 30.3h0M506.7 29.9h0M507.4 29.6h0M508.1 29.2h0M508.9 28.8h0M509.6 28.3h0M510.4 27.9h0M511.1 27.4h0M511.8 26.9h0M512.6 26.4h0M513.3 26.0h0M514.1 25.5h0M514.8 25.0h0M515.5 24.6h0M516.3 24.1h0M517.0 23.7h0M517.8 23.2h0M518.5 22.8h0M519.2 22.3h0M520.0 21.9h0M520.7 21.4h0M521.5 21.0h0M522.2 20.5h0M522.9 20.1h0M523.7 19.6h0M524.4 19.2h0M525.2 18.7h0M525.9 18.2h0" fill="none" stroke="#6aa800" stroke-width="2.7" stroke-linecap="round"/>
<path d="M307.6 152.1L308.8 151.3L310.0 150.6L311.2 149.8L312.5 149.1L313.7 148.3L314.9 147.6L316.1 146.8L317.3 146.1L318.5 145.4L319.8 144.6L321.0 143.9L322.2 143.1L323.4 142.4L324.6 141.6L325.8 140.9L327.1 140.1L328.3 139.4L329.5 138.6L330.7 137.9L331.9 137.2L333.1 136.4L334.3 135.6L335.6 134.8L336.8 134.1L338.0 133.4L339.2 132.8L340.4 132.3L341.6 131.8L342.8 131.2L344.0 130.5L345.1 129.8L346.1 129.0L347.1 128.1L348.1 127.2L349.1 126.1L350.0 125.0L350.7 124.0L351.5 122.8L352.2 121.6L352.9 120.4L353.5 119.1L354.1 117.8L354.7 116.4L355.2 115.1L355.7 113.8L356.1 112.4L356.5 111.0L356.8 109.6L357.1 108.2L357.3 106.8L357.6 105.4L357.8 103.9L358.0 102.5L358.2 101.1L358.4 99.7L358.6 98.3L358.7 96.9L358.9 95.5L359.0 94.1L359.2 92.7L359.3 91.3L359.5 90.0L359.7 88.5L359.9 87.1L360.1 85.6L360.3 84.2L360.5 82.8L360.7 81.4L360.9 80.0L361.1 78.6L361.2 77.1L361.3 75.7L361.4 74.3L361.6 72.9L361.7 71.4L361.8 70.0L361.9 68.6L362.1 67.1L362.2 65.7L362.3 64.3L362.5 62.9L362.6 61.4L362.8 60.0L363.0 58.5L363.2 57.0L363.4 55.5L363.6 54.0L363.9 52.6L364.2 51.2L364.5 50.0L364.9 48.7L365.4 47.5L365.9 46.4L366.5 45.5L367.3 44.5L368.2 43.9L369.5 44.0L371.0 44.6L372.0 45.2L373.0 46.1L374.1 47.0L375.3 48.0L376.5 48.9L377.6 49.6L378.8 50.2L380.0 50.8L381.2 51.4L382.5 52.1L383.7 52.8L385.0 53.5L386.1 54.2L387.2 54.9L388.3 55.6L389.4 56.4L390.6 57.1L391.7 57.9L392.8 58.8L393.9 59.6L395.0 60.5L396.0 61.4L397.1 62.4L398.1 63.4L399.2 64.4L400.2 65.4L401.2 66.5L402.2 67.5L403.2 68.6L404.1 69.5L405.0 70.5L406.0 71.5L406.9 72.6L407.7 73.5L408.5 74.5L409.3 75.5L410.2 76.5L411.0 77.5L411.9 78.6L412.7 79.6L413.6 80.7L414.4 81.8L415.3 82.8L416.1 83.9L417.0 85.0L417.9 86.1L418.7 87.2L419.6 88.2L420.4 89.3L421.3 90.4L422.1 91.4L423.0 92.5L423.8 93.5L424.7 94.5L425.5 95.5L426.3 96.5L427.1 97.4L428.0 98.5L429.0 99.5L429.9 100.5L430.8 101.4L431.8 102.5L432.8 103.5L433.8 104.6L434.8 105.6L435.9 106.6L436.9 107.6L438.0 108.6L439.0 109.5L440.1 110.4L441.2 111.2L442.3 112.1L443.4 112.9L444.6 113.6L445.7 114.4L446.8 115.1L447.9 115.8L449.0 116.5L450.3 117.2L451.5 117.9L452.8 118.6L454.0 119.2L455.2 119.8L456.4 120.4L457.5 121.1L458.7 122.0L459.9 123.0L461.0 123.9L462.0 124.8L463.0 125.4L464.5 126.0L465.8 126.1L466.7 125.5L467.5 124.5L468.1 123.6L468.6 122.5L469.1 121.3L469.5 120.0L469.8 118.8L470.1 117.4L470.4 116.0L470.6 114.5L470.8 113.0L471.0 111.5L471.2 110.0L471.4 108.6L471.5 107.1L471.7 105.7L471.8 104.3L471.9 102.9L472.1 101.4L472.2 100.0L472.3 98.6L472.4 97.1L472.6 95.7L472.7 94.3L472.8 92.9L472.9 91.4L473.1 90.0L473.3 88.6L473.5 87.2L473.7 85.8L473.9 84.4L474.1 82.9L474.3 81.5L474.5 80.0L474.7 78.7L474.8 77.3L475.0 75.9L475.1 74.5L475.3 73.1L475.4 71.7L475.6 70.3L475.8 68.9L476.0 67.5L476.2 66.1L476.4 64.6L476.7 63.2L476.9 61.8L477.2 60.4L477.5 59.0L477.9 57.6L478.3 56.2L478.8 54.9L479.3 53.6L479.9 52.2L480.5 50.9L481.1 49.6L481.8 48.4L482.5 47.2L483.3 46.0L484.0 45.0L484.9 43.9L485.9 42.8L486.9 41.9L487.9 41.0L488.9 40.2L490.0 39.5L491.2 38.8L492.4 38.2L493.6 37.7L494.8 37.2L496.0 36.6L497.2 35.9L498.4 35.2L499.7 34.4L500.9 33.6L502.1 32.8L503.3 32.1L504.5 31.4L505.7 30.6L506.9 29.9L508.2 29.1L509.4 28.4L510.6 27.6L511.8 26.9L513.0 26.1L514.2 25.4L515.5 24.6L516.7 23.9L517.9 23.2L519.1 22.4L520.3 21.7L521.5 20.9L522.8 20.2L524.0 19.4L525.2 18.7L526.4 17.9" fill="none" stroke="#ffd000" stroke-width="1.1" stroke-linejoin="round"/><path d="M307.6 152.1h0M308.3 151.6h0M309.1 151.2h0M309.8 150.7h0M310.6 150.2h0M311.3 149.8h0M312.0 149.3h0M312.8 148.9h0M313.5 148.4h0M314.3 148.0h0M315.0 147.5h0M315.7 147.1h0M316.5 146.6h0M317.2 146.2h0M318.0 145.7h0M318.7 145.3h0M319.4 144.8h0M320.2 144.4h0M320.9 143.9h0M321.7 143.4h0M322.4 143.0h0M323.1 142.5h0M323.9 142.1h0M324.6 141.6h0M325.4 141.2h0M326.1 140.7h0M326.8 140.3h0M327.6 139.8h0M328.3 139.4h0M329.1 138.9h0M329.8 138.5h0M330.5 138.0h0M331.3 137.5h0M332.0 137.1h0M332.8 136.6h0M333.5 136.2h0M334.2 135.7h0M335.0 135.2h0M335.7 134.7h0M336.5 134.3h0M337.2 133.9h0M337.9 133.4h0M338.7 133.1h0M339.4 132.7h0M340.2 132.4h0M340.9 132.1h0M341.6 131.8h0M342.4 131.4h0M343.1 131.0h0M343.9 130.6h0M344.6 130.1h0M345.3 129.5h0M346.1 129.0h0M346.8 128.3h0M347.6 127.7h0M348.3 127.0h0M349.0 126.2h0M349.8 125.3h0M350.5 124.3h0M351.3 123.2h0M352.0 121.9h0M352.7 120.6h0M353.5 119.1h0M354.2 117.5h0M355.0 115.8h0M355.7 113.8h0M356.4 111.3h0M357.2 107.7h0M357.9 103.0h0M358.7 97.5h0M359.4 90.8h0M360.1 85.5h0M360.9 80.2h0M361.6 72.0h0M362.4 63.9h0M363.1 57.7h0M363.8 52.9h0M364.6 49.8h0M365.3 47.7h0M366.1 46.2h0M366.8 45.1h0M367.5 44.3h0M368.3 43.9h0M369.0 44.0h0M369.8 44.1h0M370.5 44.4h0M371.2 44.7h0M372.0 45.2h0M372.7 45.8h0M373.5 46.4h0M374.2 47.1h0M374.9 47.7h0M375.7 48.3h0M376.4 48.8h0M377.2 49.3h0M377.9 49.7h0M378.6 50.1h0M379.4 50.5h0M380.1 50.9h0M380.9 51.3h0M381.6 51.6h0M382.3 52.0h0M383.1 52.4h0M383.8 52.8h0M384.6 53.2h0M385.3 53.7h0M386.0 54.1h0M386.8 54.6h0M387.5 55.1h0M388.3 55.6h0M389.0 56.1h0M389.7 56.6h0M390.5 57.1h0M391.2 57.6h0M392.0 58.1h0M392.7 58.7h0M393.4 59.2h0M394.2 59.8h0M394.9 60.4h0M395.7 61.1h0M396.4 61.7h0M397.1 62.4h0M397.9 63.1h0M398.6 63.8h0M399.4 64.6h0M400.1 65.3h0M400.8 66.1h0M401.6 66.8h0M402.3 67.6h0M403.1 68.4h0M403.8 69.2h0M404.5 70.0h0M405.3 70.8h0M406.0 71.6h0M406.8 72.5h0M407.5 73.3h0M408.2 74.2h0M409.0 75.1h0M409.7 76.0h0M410.5 76.8h0M411.2 77.7h0M411.9 78.6h0M412.7 79.6h0M413.4 80.5h0M414.2 81.4h0M414.9 82.4h0M415.6 83.3h0M416.4 84.2h0M417.1 85.2h0M417.9 86.1h0M418.6 87.0h0M419.3 87.9h0M420.1 88.9h0M420.8 89.8h0M421.6 90.7h0M422.3 91.6h0M423.0 92.5h0M423.8 93.4h0M424.5 94.3h0M425.3 95.2h0M426.0 96.1h0M426.7 97.0h0M427.5 97.8h0M428.2 98.6h0M429.0 99.5h0M429.7 100.3h0M430.4 101.1h0M431.2 101.8h0M431.9 102.6h0M432.7 103.4h0M433.4 104.2h0M434.1 104.9h0M434.9 105.7h0M435.6 106.4h0M436.4 107.1h0M437.1 107.8h0M437.8 108.5h0M438.6 109.1h0M439.3 109.8h0M440.1 110.4h0M440.8 110.9h0M441.5 111.5h0M442.3 112.1h0M443.0 112.6h0M443.8 113.1h0M444.5 113.6h0M445.2 114.1h0M446.0 114.6h0M446.7 115.1h0M447.5 115.5h0M448.2 116.0h0M448.9 116.5h0M449.7 116.9h0M450.4 117.3h0M451.2 117.7h0M451.9 118.1h0M452.6 118.5h0M453.4 118.8h0M454.1 119.2h0M454.9 119.6h0M455.6 120.0h0M456.3 120.4h0M457.1 120.8h0M457.8 121.3h0M458.6 121.9h0M459.3 122.5h0M460.0 123.1h0M460.8 123.8h0M461.5 124.4h0M462.3 124.9h0M463.0 125.4h0M463.7 125.7h0M464.5 126.0h0M465.2 126.1h0M466.0 126.0h0M466.7 125.5h0M467.4 124.6h0M468.2 123.3h0M468.9 121.7h0M469.7 119.4h0M470.4 115.8h0M471.1 110.5h0M471.9 103.6h0M472.6 95.1h0M473.4 87.9h0M474.1 82.9h0M474.8 77.1h0M475.6 70.5h0M476.3 65.4h0M477.1 61.0h0M477.8 57.8h0M478.5 55.5h0M479.3 53.6h0M480.0 51.9h0M480.8 50.4h0M481.5 49.0h0M482.2 47.7h0M483.0 46.5h0M483.7 45.4h0M484.5 44.4h0M485.2 43.6h0M485.9 42.8h0M486.7 42.1h0M487.4 41.4h0M488.2 40.8h0M488.9 40.3h0M489.6 39.8h0M490.4 39.3h0M491.1 38.8h0M491.9 38.5h0M492.6 38.1h0M493.3 37.8h0M494.1 37.5h0M494.8 37.2h0M495.6 36.8h0M496.3 36.4h0M497.0 36.0h0M497.8 35.6h0M498.5 35.1h0M499.3 34.6h0M500.0 34.2h0M500.7 33.7h0M501.5 33.2h0M502.2 32.8h0M503.0 32.3h0M503.7 31.9h0M504.4 31.4h0M505.2 30.9h0M505.9 30.5h0M506.7 30.0h0M507.4 29.6h0M508.1 29.1h0M508.9 28.7h0M509.6 28.2h0M510.4 27.8h0M511.1 27.3h0M511.8 26.9h0M512.6 26.4h0M513.3 26.0h0M514.1 25.5h0M514.8 25.0h0M515.5 24.6h0M516.3 24.1h0M517.0 23.7h0M517.8 23.2h0M518.5 22.8h0M519.2 22.3h0M520.0 21.9h0M520.7 21.4h0M521.5 21.0h0M522.2 20.5h0M522.9 20.1h0M523.7 19.6h0M524.4 19.2h0M525.2 18.7h0M525.9 18.2h0" fill="none" stroke="#ffd000" stroke-width="2.7" stroke-linecap="round"/>
<path d="M307.6 152.1L308.8 151.4L309.9 150.6L311.1 149.9L312.2 149.2L313.4 148.5L314.5 147.8L315.7 147.1L316.8 146.4L318.0 145.7L319.1 145.0L320.3 144.3L321.5 143.6L322.6 142.9L323.8 142.2L324.9 141.4L326.1 140.7L327.2 140.0L328.4 139.3L329.5 138.6L330.7 137.9L331.8 137.2L333.0 136.5L334.1 135.8L335.3 135.1L336.5 134.4L337.6 133.7L338.8 133.0L339.9 132.3L341.1 131.5L342.3 130.8L343.4 130.0L344.6 129.3L345.8 128.6L346.9 127.9L348.0 127.3L349.3 126.7L350.5 126.2L351.7 125.7L352.9 125.1L354.0 124.5L355.1 123.8L356.1 123.1L357.1 122.3L358.0 121.5L359.0 120.5L359.8 119.6L360.6 118.6L361.4 117.5L362.1 116.3L362.9 115.1L363.5 113.9L364.2 112.7L364.7 111.5L365.2 110.3L365.6 109.0L365.9 107.8L366.1 106.5L366.4 105.2L366.6 103.9L366.9 102.5L367.2 101.2L367.4 99.8L367.7 98.4L368.0 97.0L368.2 95.6L368.5 94.1L368.7 92.7L369.0 91.3L369.2 90.0L369.5 88.5L369.8 87.1L370.1 85.7L370.3 84.3L370.6 82.9L370.9 81.5L371.1 80.0L371.3 78.7L371.5 77.4L371.6 76.0L371.8 74.7L371.9 73.3L372.0 72.0L372.2 70.6L372.3 69.3L372.5 68.0L372.7 66.5L372.9 65.0L373.1 63.4L373.3 62.0L373.5 60.5L373.7 59.2L374.0 58.0L374.3 56.7L374.6 55.4L375.0 54.4L375.5 53.5L376.3 52.6L377.3 52.2L378.6 52.4L380.0 53.0L381.1 53.5L382.2 54.1L383.5 54.8L384.7 55.5L385.9 56.2L387.1 56.9L388.4 57.6L389.7 58.4L391.0 59.2L392.1 59.9L393.3 60.6L394.5 61.3L395.6 62.0L396.8 62.8L397.9 63.7L399.0 64.6L400.0 65.6L401.0 66.7L402.0 67.7L403.0 68.8L404.0 69.9L405.0 71.0L405.9 72.0L406.8 73.0L407.6 74.0L408.5 75.0L409.3 76.0L410.1 77.0L411.0 78.0L411.9 79.0L412.7 80.0L413.6 81.0L414.4 82.0L415.3 83.0L416.1 84.0L417.0 85.0L417.9 86.0L418.7 87.0L419.6 88.0L420.4 89.0L421.3 90.0L422.1 91.0L423.0 92.0L423.9 93.0L424.7 94.0L425.5 95.0L426.4 96.0L427.2 97.0L428.1 98.0L429.0 99.0L430.0 100.1L431.0 101.2L432.0 102.3L433.0 103.3L434.0 104.4L435.0 105.4L436.1 106.3L437.2 107.2L438.4 108.0L439.5 108.7L440.7 109.4L441.9 110.1L443.0 110.8L444.3 111.6L445.6 112.4L446.9 113.1L448.1 113.8L449.3 114.5L450.5 115.2L451.8 115.9L452.9 116.5L454.0 117.0L455.4 117.6L456.7 117.8L457.7 117.4L458.5 116.5L459.0 115.6L459.4 114.6L459.7 113.3L460.0 112.0L460.3 110.8L460.5 109.5L460.7 108.0L460.9 106.6L461.1 105.0L461.3 103.5L461.5 102.0L461.7 100.7L461.8 99.4L462.0 98.0L462.1 96.7L462.2 95.3L462.4 94.0L462.5 92.6L462.7 91.3L462.9 90.0L463.1 88.5L463.4 87.1L463.7 85.7L463.9 84.3L464.2 82.9L464.5 81.5L464.8 80.0L465.0 78.7L465.3 77.3L465.5 75.9L465.8 74.4L466.0 73.0L466.3 71.6L466.6 70.2L466.8 68.8L467.1 67.5L467.4 66.1L467.6 64.8L467.9 63.5L468.1 62.2L468.4 61.0L468.8 59.7L469.3 58.5L469.8 57.3L470.5 56.1L471.1 54.9L471.9 53.7L472.6 52.5L473.4 51.4L474.2 50.4L475.0 49.5L476.0 48.5L476.9 47.7L477.9 46.9L478.9 46.2L480.0 45.5L481.1 44.9L482.3 44.3L483.5 43.8L484.7 43.3L486.0 42.7L487.1 42.1L488.2 41.4L489.4 40.7L490.6 40.0L491.7 39.2L492.9 38.5L494.1 37.7L495.2 37.0L496.4 36.3L497.5 35.6L498.7 34.9L499.9 34.2L501.0 33.5L502.2 32.8L503.3 32.1L504.5 31.4L505.6 30.7L506.8 30.0L507.9 29.3L509.1 28.6L510.2 27.8L511.4 27.1L512.5 26.4L513.7 25.7L514.9 25.0L516.0 24.3L517.2 23.6L518.3 22.9L519.5 22.2L520.6 21.5L521.8 20.8L522.9 20.1L524.1 19.4L525.2 18.6L526.4 17.9" fill="none" stroke="#e07a10" stroke-width="1.1" stroke-linejoin="round"/><path d="M307.6 152.1h0M308.3 151.6h0M309.1 151.2h0M309.8 150.7h0M310.6 150.2h0M311.3 149.8h0M312.0 149.3h0M312.8 148.9h0M313.5 148.4h0M314.3 148.0h0M315.0 147.5h0M315.7 147.1h0M316.5 146.6h0M317.2 146.2h0M318.0 145.7h0M318.7 145.3h0M319.4 144.8h0M320.2 144.4h0M320.9 143.9h0M321.7 143.4h0M322.4 143.0h0M323.1 142.5h0M323.9 142.1h0M324.6 141.6h0M325.4 141.2h0M326.1 140.7h0M326.8 140.3h0M327.6 139.8h0M328.3 139.4h0M329.1 138.9h0M329.8 138.5h0M330.5 138.0h0M331.3 137.5h0M332.0 137.1h0M332.8 136.6h0M333.5 136.2h0M334.2 135.7h0M335.0 135.3h0M335.7 134.8h0M336.5 134.4h0M337.2 133.9h0M337.9 133.5h0M338.7 133.0h0M339.4 132.6h0M340.2 132.1h0M340.9 131.6h0M341.6 131.2h0M342.4 130.7h0M343.1 130.2h0M343.9 129.8h0M344.6 129.3h0M345.3 128.8h0M346.1 128.4h0M346.8 128.0h0M347.6 127.5h0M348.3 127.2h0M349.0 126.8h0M349.8 126.5h0M350.5 126.1h0M351.3 125.8h0M352.0 125.5h0M352.7 125.2h0M353.5 124.8h0M354.2 124.4h0M355.0 123.9h0M355.7 123.4h0M356.4 122.8h0M357.2 122.3h0M357.9 121.6h0M358.7 120.9h0M359.4 120.0h0M360.1 119.1h0M360.9 118.1h0M361.6 117.1h0M362.4 115.9h0M363.1 114.7h0M363.8 113.3h0M364.6 111.8h0M365.3 109.8h0M366.1 106.8h0M366.8 103.0h0M367.5 99.3h0M368.3 95.2h0M369.0 91.0h0M369.8 87.1h0M370.5 83.4h0M371.2 79.0h0M372.0 72.5h0M372.7 66.3h0M373.5 60.8h0M374.2 57.2h0M374.9 54.6h0M375.7 53.3h0M376.4 52.6h0M377.2 52.3h0M377.9 52.3h0M378.6 52.4h0M379.4 52.7h0M380.1 53.1h0M380.9 53.4h0M381.6 53.8h0M382.3 54.2h0M383.1 54.6h0M383.8 55.0h0M384.6 55.4h0M385.3 55.8h0M386.0 56.3h0M386.8 56.7h0M387.5 57.1h0M388.3 57.5h0M389.0 58.0h0M389.7 58.4h0M390.5 58.9h0M391.2 59.3h0M392.0 59.8h0M392.7 60.2h0M393.4 60.7h0M394.2 61.1h0M394.9 61.6h0M395.7 62.1h0M396.4 62.6h0M397.1 63.1h0M397.9 63.7h0M398.6 64.3h0M399.4 65.0h0M400.1 65.7h0M400.8 66.5h0M401.6 67.2h0M402.3 68.0h0M403.1 68.9h0M403.8 69.7h0M404.5 70.5h0M405.3 71.3h0M406.0 72.1h0M406.8 73.0h0M407.5 73.9h0M408.2 74.7h0M409.0 75.6h0M409.7 76.5h0M410.5 77.4h0M411.2 78.2h0M411.9 79.1h0M412.7 80.0h0M413.4 80.8h0M414.2 81.7h0M414.9 82.6h0M415.6 83.4h0M416.4 84.3h0M417.1 85.1h0M417.9 86.0h0M418.6 86.9h0M419.3 87.7h0M420.1 88.6h0M420.8 89.5h0M421.6 90.3h0M422.3 91.2h0M423.0 92.0h0M423.8 92.9h0M424.5 93.8h0M425.3 94.7h0M426.0 95.6h0M426.7 96.4h0M427.5 97.3h0M428.2 98.1h0M429.0 99.0h0M429.7 99.8h0M430.4 100.6h0M431.2 101.4h0M431.9 102.2h0M432.7 103.0h0M433.4 103.8h0M434.1 104.5h0M434.9 105.2h0M435.6 105.9h0M436.4 106.5h0M437.1 107.1h0M437.8 107.6h0M438.6 108.1h0M439.3 108.6h0M440.1 109.0h0M440.8 109.5h0M441.5 109.9h0M442.3 110.4h0M443.0 110.8h0M443.8 111.3h0M444.5 111.7h0M445.2 112.2h0M446.0 112.6h0M446.7 113.0h0M447.5 113.5h0M448.2 113.9h0M448.9 114.3h0M449.7 114.7h0M450.4 115.1h0M451.2 115.6h0M451.9 116.0h0M452.6 116.4h0M453.4 116.7h0M454.1 117.1h0M454.9 117.4h0M455.6 117.6h0M456.3 117.7h0M457.1 117.6h0M457.8 117.2h0M458.6 116.4h0M459.3 114.7h0M460.0 111.8h0M460.8 107.5h0M461.5 101.8h0M462.3 95.2h0M463.0 89.4h0M463.7 85.3h0M464.5 81.7h0M465.2 77.7h0M466.0 73.5h0M466.7 69.5h0M467.4 65.8h0M468.2 62.1h0M468.9 59.5h0M469.7 57.7h0M470.4 56.2h0M471.1 54.9h0M471.9 53.7h0M472.6 52.6h0M473.4 51.5h0M474.1 50.6h0M474.8 49.7h0M475.6 48.9h0M476.3 48.2h0M477.1 47.5h0M477.8 47.0h0M478.5 46.5h0M479.3 46.0h0M480.0 45.5h0M480.8 45.1h0M481.5 44.7h0M482.2 44.4h0M483.0 44.1h0M483.7 43.8h0M484.5 43.4h0M485.2 43.1h0M485.9 42.7h0M486.7 42.3h0M487.4 41.9h0M488.2 41.5h0M488.9 41.0h0M489.6 40.5h0M490.4 40.1h0M491.1 39.6h0M491.9 39.1h0M492.6 38.7h0M493.3 38.2h0M494.1 37.7h0M494.8 37.3h0M495.6 36.8h0M496.3 36.4h0M497.0 35.9h0M497.8 35.5h0M498.5 35.0h0M499.3 34.6h0M500.0 34.1h0M500.7 33.7h0M501.5 33.2h0M502.2 32.8h0M503.0 32.3h0M503.7 31.9h0M504.4 31.4h0M505.2 30.9h0M505.9 30.5h0M506.7 30.0h0M507.4 29.6h0M508.1 29.1h0M508.9 28.7h0M509.6 28.2h0M510.4 27.8h0M511.1 27.3h0M511.8 26.9h0M512.6 26.4h0M513.3 26.0h0M514.1 25.5h0M514.8 25.0h0M515.5 24.6h0M516.3 24.1h0M517.0 23.7h0M517.8 23.2h0M518.5 22.8h0M519.2 22.3h0M520.0 21.9h0M520.7 21.4h0M521.5 21.0h0M522.2 20.5h0M522.9 20.1h0M523.7 19.6h0M524.4 19.2h0M525.2 18.7h0M525.9 18.2h0" fill="none" stroke="#e07a10" stroke-width="2.7" stroke-linecap="round"/>
<path d="M307.6 152.1L308.8 151.3L310.0 150.6L311.2 149.8L312.4 149.1L313.6 148.4L314.9 147.6L316.1 146.9L317.3 146.1L318.5 145.4L319.7 144.7L320.9 143.9L322.1 143.2L323.3 142.4L324.5 141.7L325.7 140.9L326.9 140.2L328.2 139.5L329.4 138.7L330.6 138.0L331.8 137.2L333.0 136.5L334.2 135.8L335.4 135.0L336.6 134.3L337.8 133.5L339.0 132.8L340.2 132.1L341.4 131.3L342.7 130.6L343.9 129.8L345.1 129.1L346.3 128.4L347.5 127.6L348.7 126.9L349.9 126.1L351.1 125.4L352.3 124.6L353.6 123.8L354.9 123.1L356.1 122.3L357.4 121.5L358.6 120.7L359.8 120.0L360.9 119.3L362.0 118.6L363.3 117.8L364.6 117.0L365.7 116.3L366.9 115.5L368.0 114.8L369.2 114.0L370.4 113.2L371.5 112.4L372.6 111.6L373.5 110.8L374.4 110.1L375.3 109.2L376.2 108.4L377.0 107.5L377.8 106.6L378.5 105.7L379.3 104.7L379.9 103.6L380.5 102.5L380.9 101.4L381.3 100.2L381.6 99.0L381.9 97.7L382.1 96.3L382.4 94.9L382.7 93.5L383.0 92.3L383.2 90.9L383.5 89.6L383.8 88.2L384.0 86.8L384.3 85.4L384.5 84.0L384.8 82.6L385.1 81.3L385.3 80.0L385.6 78.5L385.9 76.9L386.2 75.4L386.4 74.0L386.7 72.6L387.0 71.2L387.3 70.0L387.7 68.6L388.1 67.2L388.5 66.0L389.0 65.0L389.7 63.9L390.5 63.2L391.7 63.3L393.0 63.8L394.0 64.2L395.1 64.7L396.3 65.4L397.3 66.0L398.5 66.7L399.7 67.6L401.0 68.5L402.2 69.4L403.4 70.3L404.5 71.2L405.5 72.1L406.4 73.1L407.3 74.0L408.2 75.0L409.1 76.0L410.0 77.0L410.8 77.9L411.7 78.9L412.6 79.9L413.5 80.9L414.3 81.9L415.2 83.0L416.1 84.0L417.0 85.0L417.9 86.0L418.8 87.0L419.7 88.1L420.5 89.1L421.4 90.1L422.3 91.1L423.2 92.1L424.0 93.0L424.9 94.0L425.8 95.0L426.7 96.0L427.6 96.9L428.5 97.9L429.5 98.8L430.6 99.7L431.8 100.6L433.0 101.5L434.3 102.4L435.5 103.3L436.7 104.0L437.7 104.6L438.9 105.3L440.0 105.8L441.0 106.2L442.3 106.7L443.5 106.8L444.3 106.1L445.0 105.0L445.5 104.0L445.9 102.8L446.3 101.4L446.7 100.0L447.0 98.8L447.3 97.4L447.6 96.0L447.8 94.6L448.1 93.1L448.4 91.5L448.7 90.0L448.9 88.7L449.2 87.4L449.5 86.0L449.7 84.6L450.0 83.2L450.2 81.8L450.5 80.4L450.8 79.1L451.0 77.7L451.3 76.5L451.6 75.1L451.9 73.7L452.1 72.3L452.4 71.0L452.7 69.8L453.1 68.6L453.5 67.5L454.1 66.4L454.7 65.3L455.5 64.3L456.2 63.4L457.0 62.5L457.8 61.6L458.7 60.8L459.6 59.9L460.5 59.2L461.4 58.4L462.5 57.6L463.6 56.8L464.8 56.0L466.0 55.2L467.1 54.5L468.3 53.7L469.4 53.0L470.7 52.2L472.0 51.4L473.1 50.7L474.2 50.0L475.4 49.3L476.6 48.5L477.9 47.7L479.1 46.9L480.4 46.2L481.7 45.4L482.9 44.6L484.1 43.9L485.3 43.1L486.5 42.4L487.7 41.6L488.9 40.9L490.1 40.2L491.3 39.4L492.6 38.7L493.8 37.9L495.0 37.2L496.2 36.5L497.4 35.7L498.6 35.0L499.8 34.2L501.0 33.5L502.2 32.8L503.4 32.0L504.6 31.3L505.8 30.5L507.1 29.8L508.3 29.1L509.5 28.3L510.7 27.6L511.9 26.8L513.1 26.1L514.3 25.3L515.5 24.6L516.7 23.9L517.9 23.1L519.1 22.4L520.4 21.6L521.6 20.9L522.8 20.2L524.0 19.4L525.2 18.7L526.4 17.9" fill="none" stroke="#ff0000" stroke-width="1.1" stroke-linejoin="round"/><path d="M307.6 152.1h0M308.3 151.6h0M309.1 151.2h0M309.8 150.7h0M310.6 150.2h0M311.3 149.8h0M312.0 149.3h0M312.8 148.9h0M313.5 148.4h0M314.3 148.0h0M315.0 147.5h0M315.7 147.1h0M316.5 146.6h0M317.2 146.2h0M318.0 145.7h0M318.7 145.3h0M319.4 144.8h0M320.2 144.4h0M320.9 143.9h0M321.7 143.4h0M322.4 143.0h0M323.1 142.5h0M323.9 142.1h0M324.6 141.6h0M325.4 141.2h0M326.1 140.7h0M326.8 140.3h0M327.6 139.8h0M328.3 139.4h0M329.1 138.9h0M329.8 138.5h0M330.5 138.0h0M331.3 137.5h0M332.0 137.1h0M332.8 136.6h0M333.5 136.2h0M334.2 135.7h0M335.0 135.3h0M335.7 134.8h0M336.5 134.4h0M337.2 133.9h0M337.9 133.5h0M338.7 133.0h0M339.4 132.6h0M340.2 132.1h0M340.9 131.6h0M341.6 131.2h0M342.4 130.7h0M343.1 130.3h0M343.9 129.8h0M344.6 129.4h0M345.3 128.9h0M346.1 128.5h0M346.8 128.0h0M347.6 127.6h0M348.3 127.1h0M349.0 126.7h0M349.8 126.2h0M350.5 125.8h0M351.3 125.3h0M352.0 124.8h0M352.7 124.4h0M353.5 123.9h0M354.2 123.5h0M355.0 123.0h0M355.7 122.5h0M356.4 122.1h0M357.2 121.6h0M357.9 121.2h0M358.7 120.7h0M359.4 120.2h0M360.1 119.8h0M360.9 119.3h0M361.6 118.8h0M362.4 118.4h0M363.1 117.9h0M363.8 117.4h0M364.6 117.0h0M365.3 116.5h0M366.1 116.1h0M366.8 115.6h0M367.5 115.1h0M368.3 114.6h0M369.0 114.1h0M369.8 113.6h0M370.5 113.1h0M371.2 112.6h0M372.0 112.1h0M372.7 111.5h0M373.5 110.9h0M374.2 110.3h0M374.9 109.6h0M375.7 108.9h0M376.4 108.1h0M377.2 107.3h0M377.9 106.4h0M378.6 105.5h0M379.4 104.5h0M380.1 103.2h0M380.9 101.6h0M381.6 99.0h0M382.3 95.3h0M383.1 91.7h0M383.8 87.9h0M384.6 83.9h0M385.3 80.0h0M386.0 76.0h0M386.8 72.2h0M387.5 69.2h0M388.3 66.8h0M389.0 65.0h0M389.7 63.8h0M390.5 63.2h0M391.2 63.3h0M392.0 63.4h0M392.7 63.7h0M393.4 64.0h0M394.2 64.3h0M394.9 64.6h0M395.7 65.0h0M396.4 65.5h0M397.1 65.9h0M397.9 66.4h0M398.6 66.9h0M399.4 67.4h0M400.1 67.9h0M400.8 68.4h0M401.6 68.9h0M402.3 69.5h0M403.1 70.0h0M403.8 70.6h0M404.5 71.2h0M405.3 71.9h0M406.0 72.6h0M406.8 73.4h0M407.5 74.2h0M408.2 75.0h0M409.0 75.9h0M409.7 76.7h0M410.5 77.5h0M411.2 78.3h0M411.9 79.2h0M412.7 80.0h0M413.4 80.9h0M414.2 81.7h0M414.9 82.6h0M415.6 83.4h0M416.4 84.3h0M417.1 85.1h0M417.9 86.0h0M418.6 86.8h0M419.3 87.7h0M420.1 88.6h0M420.8 89.4h0M421.6 90.3h0M422.3 91.1h0M423.0 91.9h0M423.8 92.8h0M424.5 93.6h0M425.3 94.4h0M426.0 95.2h0M426.7 96.1h0M427.5 96.9h0M428.2 97.6h0M429.0 98.3h0M429.7 99.0h0M430.4 99.6h0M431.2 100.2h0M431.9 100.7h0M432.7 101.3h0M433.4 101.8h0M434.1 102.3h0M434.9 102.8h0M435.6 103.3h0M436.4 103.8h0M437.1 104.2h0M437.8 104.7h0M438.6 105.1h0M439.3 105.5h0M440.1 105.8h0M440.8 106.1h0M441.5 106.4h0M442.3 106.7h0M443.0 106.8h0M443.8 106.6h0M444.5 105.8h0M445.2 104.5h0M446.0 102.5h0M446.7 99.9h0M447.5 96.6h0M448.2 92.7h0M448.9 88.8h0M449.7 84.8h0M450.4 80.9h0M451.2 77.2h0M451.9 73.5h0M452.6 70.0h0M453.4 67.8h0M454.1 66.3h0M454.9 65.2h0M455.6 64.2h0M456.3 63.3h0M457.1 62.4h0M457.8 61.6h0M458.6 60.9h0M459.3 60.2h0M460.0 59.5h0M460.8 58.9h0M461.5 58.3h0M462.3 57.7h0M463.0 57.2h0M463.7 56.7h0M464.5 56.2h0M465.2 55.7h0M466.0 55.2h0M466.7 54.7h0M467.4 54.3h0M468.2 53.8h0M468.9 53.3h0M469.7 52.9h0M470.4 52.4h0M471.1 51.9h0M471.9 51.5h0M472.6 51.0h0M473.4 50.5h0M474.1 50.1h0M474.8 49.6h0M475.6 49.2h0M476.3 48.7h0M477.1 48.2h0M477.8 47.8h0M478.5 47.3h0M479.3 46.8h0M480.0 46.4h0M480.8 45.9h0M481.5 45.5h0M482.2 45.0h0M483.0 44.6h0M483.7 44.1h0M484.5 43.6h0M485.2 43.2h0M485.9 42.7h0M486.7 42.3h0M487.4 41.8h0M488.2 41.4h0M488.9 40.9h0M489.6 40.5h0M490.4 40.0h0M491.1 39.6h0M491.9 39.1h0M492.6 38.7h0M493.3 38.2h0M494.1 37.7h0M494.8 37.3h0M495.6 36.8h0M496.3 36.4h0M497.0 35.9h0M497.8 35.5h0M498.5 35.0h0M499.3 34.6h0M500.0 34.1h0M500.7 33.7h0M501.5 33.2h0M502.2 32.8h0M503.0 32.3h0M503.7 31.9h0M504.4 31.4h0M505.2 30.9h0M505.9 30.5h0M506.7 30.0h0M507.4 29.6h0M508.1 29.1h0M508.9 28.7h0M509.6 28.2h0M510.4 27.8h0M511.1 27.3h0M511.8 26.9h0M512.6 26.4h0M513.3 26.0h0M514.1 25.5h0M514.8 25.0h0M515.5 24.6h0M516.3 24.1h0M517.0 23.7h0M517.8 23.2h0M518.5 22.8h0M519.2 22.3h0M520.0 21.9h0M520.7 21.4h0M521.5 21.0h0M522.2 20.5h0M522.9 20.1h0M523.7 19.6h0M524.4 19.2h0M525.2 18.7h0M525.9 18.2h0" fill="none" stroke="#ff0000" stroke-width="2.7" stroke-linecap="round"/>
<path d="M307.6 152.1L308.8 151.3L310.0 150.6L311.2 149.8L312.4 149.1L313.6 148.4L314.8 147.6L316.0 146.9L317.3 146.1L318.5 145.4L319.7 144.7L320.9 143.9L322.1 143.2L323.3 142.4L324.5 141.7L325.7 141.0L326.9 140.2L328.1 139.5L329.3 138.7L330.5 138.0L331.7 137.3L332.9 136.5L334.1 135.8L335.4 135.0L336.6 134.3L337.8 133.6L339.0 132.8L340.2 132.1L341.4 131.4L342.6 130.6L343.8 129.9L345.0 129.1L346.2 128.4L347.4 127.7L348.6 126.9L349.8 126.2L351.0 125.4L352.2 124.7L353.5 124.0L354.7 123.2L355.9 122.5L357.1 121.8L358.3 121.1L359.5 120.3L360.7 119.6L361.9 118.8L363.1 118.1L364.3 117.3L365.5 116.6L366.8 115.7L368.1 114.9L369.4 113.9L370.7 113.0L372.0 112.1L373.3 111.1L374.6 110.2L375.8 109.3L377.0 108.5L378.1 107.8L379.1 107.1L380.0 106.5L381.2 105.8L382.2 105.3L383.1 104.8L384.0 104.2L385.0 103.3L385.9 102.2L386.7 101.1L387.5 100.0L388.2 99.0L388.9 98.1L389.5 96.9L389.9 95.8L390.3 94.4L390.6 92.9L390.9 91.3L391.2 89.7L391.4 88.2L391.7 86.8L392.0 85.4L392.2 84.0L392.3 82.6L392.5 81.3L392.8 80.0L393.1 78.6L393.4 77.3L393.8 75.9L394.1 74.6L394.5 73.5L394.9 72.3L395.4 71.3L396.0 70.5L396.9 69.6L397.9 69.2L398.9 69.4L399.9 69.9L401.0 70.5L402.2 71.2L403.3 71.9L404.5 72.8L405.4 73.5L406.3 74.3L407.2 75.1L408.1 75.9L409.0 76.8L410.1 77.8L411.2 78.9L412.4 80.0L413.4 81.0L414.4 82.0L415.3 83.0L416.2 84.0L417.0 85.0L417.8 86.0L418.7 87.0L419.6 88.0L420.6 89.0L421.6 90.0L422.8 91.1L423.9 92.2L425.0 93.2L425.9 94.1L426.8 94.9L427.7 95.7L428.6 96.5L429.5 97.2L430.7 98.1L431.8 98.8L433.0 99.5L434.1 100.1L435.1 100.6L436.1 100.8L437.1 100.4L438.0 99.5L438.6 98.7L439.1 97.7L439.5 96.5L439.9 95.4L440.2 94.1L440.6 92.7L440.9 91.4L441.2 90.0L441.5 88.7L441.7 87.4L441.8 86.0L442.0 84.6L442.3 83.2L442.6 81.8L442.8 80.3L443.1 78.7L443.4 77.1L443.7 75.6L444.1 74.2L444.5 73.1L445.1 71.9L445.8 71.0L446.5 70.0L447.3 68.9L448.1 67.8L449.0 66.7L450.0 65.8L450.9 65.2L451.8 64.7L452.8 64.2L454.0 63.5L454.9 62.9L455.9 62.2L457.0 61.5L458.2 60.7L459.4 59.8L460.7 58.9L462.0 57.9L463.3 57.0L464.6 56.1L465.9 55.1L467.2 54.3L468.5 53.4L469.7 52.7L470.9 51.9L472.1 51.2L473.3 50.4L474.5 49.7L475.7 48.9L476.9 48.2L478.1 47.5L479.3 46.8L480.5 46.0L481.8 45.3L483.0 44.6L484.2 43.8L485.4 43.1L486.6 42.3L487.8 41.6L489.0 40.9L490.2 40.1L491.4 39.4L492.6 38.6L493.8 37.9L495.0 37.2L496.2 36.4L497.4 35.7L498.6 35.0L499.9 34.2L501.1 33.5L502.3 32.7L503.5 32.0L504.7 31.3L505.9 30.5L507.1 29.8L508.3 29.0L509.5 28.3L510.7 27.6L511.9 26.8L513.1 26.1L514.3 25.3L515.5 24.6L516.7 23.9L518.0 23.1L519.2 22.4L520.4 21.6L521.6 20.9L522.8 20.2L524.0 19.4L525.2 18.7L526.4 17.9" fill="none" stroke="#b000d0" stroke-width="1.1" stroke-linejoin="round"/><path d="M307.6 152.1h0M308.3 151.6h0M309.1 151.2h0M309.8 150.7h0M310.6 150.2h0M311.3 149.8h0M312.0 149.3h0M312.8 148.9h0M313.5 148.4h0M314.3 148.0h0M315.0 147.5h0M315.7 147.1h0M316.5 146.6h0M317.2 146.2h0M318.0 145.7h0M318.7 145.3h0M319.4 144.8h0M320.2 144.4h0M320.9 143.9h0M321.7 143.4h0M322.4 143.0h0M323.1 142.5h0M323.9 142.1h0M324.6 141.6h0M325.4 141.2h0M326.1 140.7h0M326.8 140.3h0M327.6 139.8h0M328.3 139.4h0M329.1 138.9h0M329.8 138.5h0M330.5 138.0h0M331.3 137.5h0M332.0 137.1h0M332.8 136.6h0M333.5 136.2h0M334.2 135.7h0M335.0 135.3h0M335.7 134.8h0M336.5 134.4h0M337.2 133.9h0M337.9 133.5h0M338.7 133.0h0M339.4 132.6h0M340.2 132.1h0M340.9 131.6h0M341.6 131.2h0M342.4 130.7h0M343.1 130.3h0M343.9 129.8h0M344.6 129.4h0M345.3 128.9h0M346.1 128.5h0M346.8 128.0h0M347.6 127.6h0M348.3 127.1h0M349.0 126.7h0M349.8 126.2h0M350.5 125.8h0M351.3 125.3h0M352.0 124.8h0M352.7 124.4h0M353.5 124.0h0M354.2 123.5h0M355.0 123.1h0M355.7 122.6h0M356.4 122.2h0M357.2 121.7h0M357.9 121.3h0M358.7 120.8h0M359.4 120.4h0M360.1 119.9h0M360.9 119.5h0M361.6 119.0h0M362.4 118.6h0M363.1 118.1h0M363.8 117.6h0M364.6 117.2h0M365.3 116.7h0M366.1 116.2h0M366.8 115.7h0M367.5 115.2h0M368.3 114.7h0M369.0 114.2h0M369.8 113.7h0M370.5 113.1h0M371.2 112.6h0M372.0 112.1h0M372.7 111.6h0M373.5 111.0h0M374.2 110.5h0M374.9 110.0h0M375.7 109.5h0M376.4 108.9h0M377.2 108.4h0M377.9 107.9h0M378.6 107.4h0M379.4 106.9h0M380.1 106.4h0M380.9 106.0h0M381.6 105.6h0M382.3 105.2h0M383.1 104.8h0M383.8 104.3h0M384.6 103.7h0M385.3 102.9h0M386.0 102.0h0M386.8 101.0h0M387.5 100.0h0M388.3 99.0h0M389.0 97.9h0M389.7 96.2h0M390.5 93.4h0M391.2 89.5h0M392.0 85.3h0M392.7 80.5h0M393.4 77.1h0M394.2 74.4h0M394.9 72.4h0M395.7 71.0h0M396.4 70.1h0M397.1 69.5h0M397.9 69.2h0M398.6 69.3h0M399.4 69.6h0M400.1 70.0h0M400.8 70.4h0M401.6 70.8h0M402.3 71.3h0M403.1 71.8h0M403.8 72.3h0M404.5 72.8h0M405.3 73.4h0M406.0 74.1h0M406.8 74.7h0M407.5 75.4h0M408.2 76.1h0M409.0 76.8h0M409.7 77.5h0M410.5 78.2h0M411.2 78.9h0M411.9 79.6h0M412.7 80.3h0M413.4 81.0h0M414.2 81.8h0M414.9 82.6h0M415.6 83.4h0M416.4 84.3h0M417.1 85.1h0M417.9 86.0h0M418.6 86.9h0M419.3 87.7h0M420.1 88.5h0M420.8 89.2h0M421.6 90.0h0M422.3 90.7h0M423.0 91.4h0M423.8 92.1h0M424.5 92.8h0M425.3 93.4h0M426.0 94.1h0M426.7 94.8h0M427.5 95.5h0M428.2 96.1h0M429.0 96.8h0M429.7 97.3h0M430.4 97.9h0M431.2 98.4h0M431.9 98.9h0M432.7 99.3h0M433.4 99.7h0M434.1 100.1h0M434.9 100.5h0M435.6 100.7h0M436.4 100.7h0M437.1 100.4h0M437.8 99.7h0M438.6 98.7h0M439.3 97.0h0M440.1 94.7h0M440.8 91.8h0M441.5 88.1h0M442.3 83.3h0M443.0 79.1h0M443.8 75.5h0M444.5 73.1h0M445.2 71.7h0M446.0 70.7h0M446.7 69.7h0M447.5 68.7h0M448.2 67.7h0M448.9 66.8h0M449.7 66.1h0M450.4 65.5h0M451.2 65.0h0M451.9 64.6h0M452.6 64.3h0M453.4 63.9h0M454.1 63.4h0M454.9 62.9h0M455.6 62.4h0M456.3 61.9h0M457.1 61.4h0M457.8 60.9h0M458.6 60.4h0M459.3 59.8h0M460.0 59.3h0M460.8 58.8h0M461.5 58.3h0M462.3 57.7h0M463.0 57.2h0M463.7 56.7h0M464.5 56.2h0M465.2 55.7h0M466.0 55.1h0M466.7 54.6h0M467.4 54.1h0M468.2 53.6h0M468.9 53.2h0M469.7 52.7h0M470.4 52.2h0M471.1 51.7h0M471.9 51.3h0M472.6 50.8h0M473.4 50.4h0M474.1 49.9h0M474.8 49.5h0M475.6 49.0h0M476.3 48.6h0M477.1 48.1h0M477.8 47.7h0M478.5 47.2h0M479.3 46.8h0M480.0 46.3h0M480.8 45.9h0M481.5 45.5h0M482.2 45.0h0M483.0 44.6h0M483.7 44.1h0M484.5 43.6h0M485.2 43.2h0M485.9 42.7h0M486.7 42.3h0M487.4 41.8h0M488.2 41.4h0M488.9 40.9h0M489.6 40.5h0M490.4 40.0h0M491.1 39.6h0M491.9 39.1h0M492.6 38.7h0M493.3 38.2h0M494.1 37.7h0M494.8 37.3h0M495.6 36.8h0M496.3 36.4h0M497.0 35.9h0M497.8 35.5h0M498.5 35.0h0M499.3 34.6h0M500.0 34.1h0M500.7 33.7h0M501.5 33.2h0M502.2 32.8h0M503.0 32.3h0M503.7 31.9h0M504.4 31.4h0M505.2 30.9h0M505.9 30.5h0M506.7 30.0h0M507.4 29.6h0M508.1 29.1h0M508.9 28.7h0M509.6 28.2h0M510.4 27.8h0M511.1 27.3h0M511.8 26.9h0M512.6 26.4h0M513.3 26.0h0M514.1 25.5h0M514.8 25.0h0M515.5 24.6h0M516.3 24.1h0M517.0 23.7h0M517.8 23.2h0M518.5 22.8h0M519.2 22.3h0M520.0 21.9h0M520.7 21.4h0M521.5 21.0h0M522.2 20.5h0M522.9 20.1h0M523.7 19.6h0M524.4 19.2h0M525.2 18.7h0M525.9 18.2h0" fill="none" stroke="#b000d0" stroke-width="2.7" stroke-linecap="round"/>
<line x1="307.6" y1="152.1" x2="526.4" y2="17.9" stroke="#5c5c5c" stroke-width="2.2" />
<rect x="307.5" y="3.4" width="219.10000000000002" height="163.2" fill="none" stroke="#a3a3a3" stroke-width="1.3"/>
<path d="M314.2 3.4v1.8M314.2 166.6v-1.8M417 3.4v1.8M417 166.6v-1.8M520.2 3.4v1.8M520.2 166.6v-1.8M307.5 7.8h1.8M526.6 7.8h-1.8M307.5 85h1.8M526.6 85h-1.8M307.5 162.2h1.8M526.6 162.2h-1.8" stroke="#555" stroke-width="1" fill="none"/>
<rect x="24.6" y="249.6" width="219.1" height="146.20000000000002" fill="none" stroke="#a3a3a3" stroke-width="1.3"/>
<g stroke="#f08080" stroke-width="0.9" fill="none">
<path d="M68.6 290.2V297.6M66.6 290.4H70.6M66.6 297.4H70.6"/>
<path d="M156.3 323V326.4M154.6 323.2H158M154.6 326.2H158"/>
</g>
<g stroke="#6060ff" stroke-width="0.9" fill="none">
<path d="M228.2 345.2V359.3M226 345.4H230.4M226 359.1H230.4"/>
<path d="M244.1 389.3V394.3"/>
</g>
<path d="M21.9 276.1L23.4 274.2H26.0L27.5 276.1L26.0 278.0H23.4Z" fill="#ff0000" stroke="#ff0000" stroke-width="0.4" stroke-linejoin="round"/>
<path d="M43.8 284.8L45.3 282.9H47.9L49.4 284.8L47.9 286.7H45.3Z" fill="#ff0000" stroke="#ff0000" stroke-width="0.4" stroke-linejoin="round"/>
<path d="M65.8 294.2L67.3 292.3H69.9L71.4 294.2L69.9 296.1H67.3Z" fill="#ff0000" stroke="#ff0000" stroke-width="0.4" stroke-linejoin="round"/>
<path d="M87.6 301.3L89.1 299.4H91.7L93.2 301.3L91.7 303.2H89.1Z" fill="#ff0000" stroke="#ff0000" stroke-width="0.4" stroke-linejoin="round"/>
<path d="M109.5 307.9L111.0 306.0H113.6L115.1 307.9L113.6 309.8H111.0Z" fill="#ff0000" stroke="#ff0000" stroke-width="0.4" stroke-linejoin="round"/>
<path d="M131.5 316.0L133.0 314.1H135.6L137.1 316.0L135.6 317.9H133.0Z" fill="#ff0000" stroke="#ff0000" stroke-width="0.4" stroke-linejoin="round"/>
<path d="M153.5 324.6L155.0 322.8H157.6L159.1 324.6L157.6 326.5H155.0Z" fill="#ff0000" stroke="#ff0000" stroke-width="0.4" stroke-linejoin="round"/>
<path d="M175.4 331.4L176.9 329.5H179.5L181.0 331.4L179.5 333.2H176.9Z" fill="#ff0000" stroke="#ff0000" stroke-width="0.4" stroke-linejoin="round"/>
<path d="M197.2 339.0L198.7 337.1H201.3L202.8 339.0L201.3 340.9H198.7Z" fill="#ff0000" stroke="#ff0000" stroke-width="0.4" stroke-linejoin="round"/>
<path d="M219.2 347.7L220.7 345.8H223.3L224.8 347.7L223.3 349.6H220.7Z" fill="#ff0000" stroke="#ff0000" stroke-width="0.4" stroke-linejoin="round"/>
<path d="M241.1 354.4L242.6 352.5H245.2L246.7 354.4L245.2 356.2H242.6Z" fill="#ff0000" stroke="#ff0000" stroke-width="0.4" stroke-linejoin="round"/>
<path d="M25.0 256.1L27.6 259.0L25.0 261.9L22.4 259.0Z" fill="#0000ff" stroke="#0000ff" stroke-width="0.5" stroke-linejoin="round"/>
<path d="M55.9 259.9L58.4 262.8L55.9 265.8L53.4 262.8Z" fill="#0000ff" stroke="#0000ff" stroke-width="0.5" stroke-linejoin="round"/>
<path d="M87.5 268.4L90.0 271.4L87.5 274.3L85.0 271.4Z" fill="#0000ff" stroke="#0000ff" stroke-width="0.5" stroke-linejoin="round"/>
<path d="M118.7 279.1L121.2 282.0L118.7 284.9L116.2 282.0Z" fill="#0000ff" stroke="#0000ff" stroke-width="0.5" stroke-linejoin="round"/>
<path d="M134.4 284.8L137.0 287.7L134.4 290.6L131.8 287.7Z" fill="#0000ff" stroke="#0000ff" stroke-width="0.5" stroke-linejoin="round"/>
<path d="M150.0 292.9L152.6 295.8L150.0 298.8L147.4 295.8Z" fill="#0000ff" stroke="#0000ff" stroke-width="0.5" stroke-linejoin="round"/>
<path d="M165.9 299.9L168.5 302.8L165.9 305.8L163.3 302.8Z" fill="#0000ff" stroke="#0000ff" stroke-width="0.5" stroke-linejoin="round"/>
<path d="M181.6 309.8L184.2 312.7L181.6 315.6L179.0 312.7Z" fill="#0000ff" stroke="#0000ff" stroke-width="0.5" stroke-linejoin="round"/>
<path d="M196.9 320.4L199.5 323.4L196.9 326.3L194.3 323.4Z" fill="#0000ff" stroke="#0000ff" stroke-width="0.5" stroke-linejoin="round"/>
<path d="M212.9 334.2L215.5 337.2L212.9 340.1L210.3 337.2Z" fill="#0000ff" stroke="#0000ff" stroke-width="0.5" stroke-linejoin="round"/>
<path d="M228.2 349.4L230.8 352.3L228.2 355.2L225.6 352.3Z" fill="#0000ff" stroke="#0000ff" stroke-width="0.5" stroke-linejoin="round"/>
<path d="M234.7 365.2L237.2 368.2L234.7 371.1L232.1 368.2Z" fill="#0000ff" stroke="#0000ff" stroke-width="0.5" stroke-linejoin="round"/>
<path d="M244.1 388.9L246.7 391.8L244.1 394.8L241.5 391.8Z" fill="#0000ff" stroke="#0000ff" stroke-width="0.5" stroke-linejoin="round"/>
<path d="M24.6 359.2h1.8M243.7 359.2h-1.8M24.6 322.7h1.8M243.7 322.7h-1.8M24.6 286.2h1.8M243.7 286.2h-1.8M79.4 395.8v-1.8M134.2 395.8v-1.8M189.0 395.8v-1.8M55.9 249.6v1.8M118.5 249.6v1.8M181.1 249.6v1.8" stroke="#555" stroke-width="1" fill="none"/>
<line x1="417.3" y1="233" x2="417.3" y2="396.2" stroke="#eeeeee" stroke-width="1"/>
<line x1="308" y1="314.3" x2="526.5" y2="314.3" stroke="#eeeeee" stroke-width="1"/>
<path d="M317.4 395.8L318.3 394.6L319.1 393.5L320.0 392.3L320.9 391.2L321.8 390.0L322.6 388.8L323.5 387.7L324.4 386.5L325.2 385.3L326.1 384.2L327.0 383.0L327.8 381.9L328.7 380.8L329.5 379.7L330.3 378.5L331.2 377.4L332.0 376.3L332.8 375.2L333.7 374.0L334.5 372.9L335.3 371.8L336.2 370.6L337.0 369.5L337.8 368.3L338.7 367.1L339.6 365.9L340.4 364.7L341.3 363.4L342.2 362.2L343.0 361.0L343.9 359.8L344.7 358.7L345.5 357.6L346.3 356.5L347.0 355.5L348.0 354.2L349.0 352.9L349.9 351.7L350.8 350.6L351.6 349.5L352.4 348.5L353.1 347.4L353.8 346.4L354.4 345.5L355.0 344.5L355.8 343.4L356.5 342.3L357.1 341.1L357.3 339.8L357.4 338.5L357.4 337.1L357.5 335.8L357.6 334.7L357.8 333.7L357.9 332.6L358.0 331.4L358.0 330.0L358.1 328.5L358.1 327.0L358.2 325.7L358.3 324.4L358.3 323.2L358.4 322.1L358.5 320.9L358.6 319.3L358.7 317.8L358.9 316.5L359.2 315.6L359.6 315.0L360.2 314.8L361.0 314.7L361.8 314.7L362.8 314.6L364.0 314.7L365.4 314.7L366.8 314.7L368.4 314.8L370.0 314.8L371.0 314.8L372.2 314.8L373.3 314.8L374.6 314.8L375.8 314.8L377.2 314.8L378.5 314.7L380.0 314.7L381.4 314.7L382.9 314.7L384.4 314.7L385.9 314.7L387.5 314.6L389.0 314.6L390.6 314.6L392.2 314.6L393.8 314.6L395.3 314.5L396.9 314.5L398.5 314.5L400.0 314.5L401.4 314.5L402.8 314.5L404.2 314.5L405.7 314.5L407.2 314.4L408.6 314.4L410.1 314.4L411.7 314.4L413.2 314.4L414.7 314.4L416.2 314.4L417.8 314.4L419.3 314.4L420.9 314.3L422.4 314.3L423.9 314.3L425.5 314.3L427.0 314.3L428.5 314.3L430.0 314.3L431.5 314.3L432.9 314.3L434.4 314.2L435.8 314.2L437.2 314.2L438.6 314.2L440.0 314.2L441.6 314.2L443.3 314.2L445.0 314.2L446.6 314.1L448.3 314.1L450.0 314.1L451.7 314.1L453.4 314.1L455.0 314.1L456.6 314.1L458.2 314.0L459.7 314.0L461.1 314.0L462.5 314.0L463.8 314.0L465.0 314.0L466.1 313.9L467.1 313.9L468.0 313.9L469.5 313.9L470.6 314.0L471.6 313.9L472.5 313.7L473.5 313.0L474.2 312.0L474.6 310.9L474.9 309.5L475.0 308.5L475.1 307.2L475.2 305.8L475.2 304.3L475.3 302.8L475.3 301.3L475.4 300.0L475.5 298.5L475.6 297.0L475.7 295.6L475.8 294.3L475.9 293.0L476.0 291.8L476.2 290.6L476.3 289.5L476.6 288.5L477.1 287.3L477.6 286.1L478.3 285.0L479.1 284.0L480.0 283.1L481.0 282.0L481.7 281.2L482.4 280.3L483.3 279.4L484.2 278.3L485.1 277.3L486.0 276.1L487.0 275.0L487.9 273.8L488.8 272.7L489.7 271.6L490.5 270.5L491.4 269.4L492.2 268.2L493.0 267.1L493.8 265.9L494.6 264.8L495.4 263.6L496.2 262.4L497.0 261.2L497.9 260.0L498.7 258.9L499.5 257.7L500.3 256.6L501.2 255.4L502.0 254.2L502.9 253.1L503.7 251.9L504.6 250.7L505.4 249.5L506.3 248.3L507.2 247.2L508.0 246.0L508.8 244.9L509.7 243.7L510.5 242.6L511.4 241.5L512.2 240.4L513.0 239.2L513.9 238.1L514.7 237.0L515.6 235.9L516.4 234.7L517.3 233.6L518.1 232.5" fill="none" stroke="#0000ff" stroke-width="1.2" stroke-linejoin="round"/><path d="M317.4 395.8h0M317.7 395.4h0M318.0 395.0h0M318.3 394.6h0M318.6 394.2h0M318.9 393.8h0M319.2 393.4h0M319.5 393.0h0M319.8 392.6h0M320.1 392.2h0M320.4 391.8h0M320.7 391.4h0M321.0 391.0h0M321.3 390.6h0M321.6 390.2h0M321.9 389.8h0M322.2 389.4h0M322.5 389.0h0M322.8 388.6h0M323.1 388.2h0M323.4 387.8h0M323.7 387.4h0M324.0 387.0h0M324.3 386.6h0M324.6 386.2h0M324.9 385.8h0M325.2 385.4h0M325.5 385.0h0M325.8 384.6h0M326.1 384.2h0M326.4 383.8h0M326.7 383.4h0M327.0 383.0h0M327.3 382.6h0M327.6 382.2h0M327.9 381.8h0M328.2 381.4h0M328.5 381.0h0M328.8 380.6h0M329.1 380.2h0M329.4 379.8h0M329.7 379.4h0M330.0 379.0h0M330.3 378.6h0M330.6 378.2h0M330.9 377.8h0M331.2 377.4h0M331.5 377.0h0M331.8 376.6h0M332.1 376.2h0M332.4 375.8h0M332.7 375.3h0M333.0 374.9h0M333.3 374.5h0M333.6 374.1h0M333.9 373.7h0M334.2 373.3h0M334.5 372.9h0M334.8 372.5h0M335.1 372.1h0M335.4 371.7h0M335.7 371.3h0M336.0 370.9h0M336.3 370.5h0M336.6 370.0h0M336.9 369.6h0M337.2 369.2h0M337.5 368.8h0M337.8 368.4h0M338.1 368.0h0M338.4 367.6h0M338.7 367.1h0M339.0 366.7h0M339.3 366.3h0M339.6 365.9h0M339.9 365.5h0M340.2 365.0h0M340.5 364.6h0M340.8 364.2h0M341.1 363.8h0M341.4 363.3h0M341.7 362.9h0M342.0 362.5h0M342.3 362.1h0M342.6 361.6h0M342.9 361.2h0M343.2 360.8h0M343.5 360.4h0M343.8 359.9h0M344.1 359.5h0M344.4 359.1h0M344.7 358.7h0M345.0 358.2h0M345.3 357.8h0M345.6 357.4h0M345.9 357.0h0M346.2 356.6h0M346.5 356.2h0M346.8 355.8h0M347.1 355.4h0M347.4 355.0h0M347.7 354.6h0M348.0 354.2h0M348.3 353.8h0M348.6 353.4h0M348.9 353.0h0M349.2 352.6h0M349.5 352.3h0M349.8 351.9h0M350.1 351.5h0M350.4 351.1h0M350.7 350.8h0M351.0 350.4h0M351.3 350.0h0M351.6 349.6h0M351.9 349.2h0M352.2 348.8h0M352.5 348.4h0M352.8 347.9h0M353.1 347.5h0M353.4 347.0h0M353.7 346.6h0M354.0 346.1h0M354.3 345.6h0M354.6 345.1h0M354.9 344.7h0M355.2 344.2h0M355.5 343.8h0M355.8 343.4h0M356.1 342.9h0M356.4 342.5h0M356.7 341.9h0M357.0 341.3h0M357.3 340.1h0M357.6 335.0h0M357.9 332.6h0M358.2 325.7h0M358.5 320.9h0M358.8 317.1h0M359.1 315.9h0M359.4 315.3h0M359.7 315.0h0M360.0 314.8h0M360.3 314.8h0M360.6 314.7h0M360.9 314.7h0M361.2 314.7h0M361.5 314.7h0M361.8 314.7h0M362.1 314.7h0M362.4 314.6h0M362.7 314.6h0M363.0 314.6h0M363.3 314.7h0M363.6 314.7h0M363.9 314.7h0M364.2 314.7h0M364.5 314.7h0M364.8 314.7h0M365.1 314.7h0M365.4 314.7h0M365.7 314.7h0M366.0 314.7h0M366.3 314.7h0M366.6 314.7h0M366.9 314.8h0M367.2 314.8h0M367.5 314.8h0M367.8 314.8h0M368.1 314.8h0M368.4 314.8h0M368.7 314.8h0M369.0 314.8h0M369.3 314.8h0M369.6 314.8h0M369.9 314.8h0M370.2 314.8h0M370.5 314.8h0M370.8 314.8h0M371.1 314.8h0M371.4 314.8h0M371.7 314.8h0M372.0 314.8h0M372.3 314.8h0M372.6 314.8h0M372.9 314.8h0M373.2 314.8h0M373.5 314.8h0M373.8 314.8h0M374.1 314.8h0M374.4 314.8h0M374.7 314.8h0M375.0 314.8h0M375.3 314.8h0M375.6 314.8h0M375.9 314.8h0M376.2 314.8h0M376.5 314.8h0M376.8 314.8h0M377.1 314.8h0M377.4 314.8h0M377.7 314.8h0M378.0 314.8h0M378.3 314.7h0M378.6 314.7h0M378.9 314.7h0M379.2 314.7h0M379.5 314.7h0M379.8 314.7h0M380.1 314.7h0M380.4 314.7h0M380.7 314.7h0M381.0 314.7h0M381.3 314.7h0M381.6 314.7h0M381.9 314.7h0M382.2 314.7h0M382.5 314.7h0M382.8 314.7h0M383.1 314.7h0M383.4 314.7h0M383.7 314.7h0M384.0 314.7h0M384.3 314.7h0M384.6 314.7h0M384.9 314.7h0M385.2 314.7h0M385.5 314.7h0M385.8 314.7h0M386.1 314.7h0M386.4 314.7h0M386.7 314.6h0M387.0 314.6h0M387.3 314.6h0M387.6 314.6h0M387.9 314.6h0M388.2 314.6h0M388.5 314.6h0M388.8 314.6h0M389.1 314.6h0M389.4 314.6h0M389.7 314.6h0M390.0 314.6h0M390.3 314.6h0M390.6 314.6h0M390.9 314.6h0M391.2 314.6h0M391.5 314.6h0M391.8 314.6h0M392.1 314.6h0M392.4 314.6h0M392.7 314.6h0M393.0 314.6h0M393.3 314.6h0M393.6 314.6h0M393.9 314.6h0M394.2 314.6h0M394.5 314.6h0M394.8 314.6h0M395.1 314.5h0M395.4 314.5h0M395.7 314.5h0M396.0 314.5h0M396.3 314.5h0M396.6 314.5h0M396.9 314.5h0M397.2 314.5h0M397.5 314.5h0M397.8 314.5h0M398.1 314.5h0M398.4 314.5h0M398.7 314.5h0M399.0 314.5h0M399.3 314.5h0M399.6 314.5h0M399.9 314.5h0M400.2 314.5h0M400.5 314.5h0M400.8 314.5h0M401.1 314.5h0M401.4 314.5h0M401.7 314.5h0M402.0 314.5h0M402.3 314.5h0M402.6 314.5h0M402.9 314.5h0M403.2 314.5h0M403.5 314.5h0M403.8 314.5h0M404.1 314.5h0M404.4 314.5h0M404.7 314.5h0M405.0 314.5h0M405.3 314.5h0M405.6 314.5h0M405.9 314.5h0M406.2 314.4h0M406.5 314.4h0M406.8 314.4h0M407.1 314.4h0M407.4 314.4h0M407.7 314.4h0M408.0 314.4h0M408.3 314.4h0M408.6 314.4h0M408.9 314.4h0M409.2 314.4h0M409.5 314.4h0M409.8 314.4h0M410.1 314.4h0M410.4 314.4h0M410.7 314.4h0M411.0 314.4h0M411.3 314.4h0M411.6 314.4h0M411.9 314.4h0M412.2 314.4h0M412.5 314.4h0M412.8 314.4h0M413.1 314.4h0M413.4 314.4h0M413.7 314.4h0M414.0 314.4h0M414.3 314.4h0M414.6 314.4h0M414.9 314.4h0M415.2 314.4h0M415.5 314.4h0M415.8 314.4h0M416.1 314.4h0M416.4 314.4h0M416.7 314.4h0M417.0 314.4h0M417.3 314.4h0M417.6 314.4h0M417.9 314.4h0M418.2 314.4h0M418.5 314.4h0M418.8 314.4h0M419.1 314.4h0M419.4 314.4h0M419.7 314.4h0M420.0 314.4h0M420.3 314.3h0M420.6 314.3h0M420.9 314.3h0M421.2 314.3h0M421.5 314.3h0M421.8 314.3h0M422.1 314.3h0M422.4 314.3h0M422.7 314.3h0M423.0 314.3h0M423.3 314.3h0M423.6 314.3h0M423.9 314.3h0M424.2 314.3h0M424.5 314.3h0M424.8 314.3h0M425.1 314.3h0M425.4 314.3h0M425.7 314.3h0M426.0 314.3h0M426.3 314.3h0M426.6 314.3h0M426.9 314.3h0M427.2 314.3h0M427.5 314.3h0M427.8 314.3h0M428.1 314.3h0M428.4 314.3h0M428.7 314.3h0M429.0 314.3h0M429.3 314.3h0M429.6 314.3h0M429.9 314.3h0M430.2 314.3h0M430.5 314.3h0M430.8 314.3h0M431.1 314.3h0M431.4 314.3h0M431.7 314.3h0M432.0 314.3h0M432.3 314.3h0M432.6 314.3h0M432.9 314.3h0M433.2 314.3h0M433.5 314.3h0M433.8 314.3h0M434.1 314.2h0M434.4 314.2h0M434.7 314.2h0M435.0 314.2h0M435.3 314.2h0M435.6 314.2h0M435.9 314.2h0M436.2 314.2h0M436.5 314.2h0M436.8 314.2h0M437.1 314.2h0M437.4 314.2h0M437.7 314.2h0M438.0 314.2h0M438.3 314.2h0M438.6 314.2h0M438.9 314.2h0M439.2 314.2h0M439.5 314.2h0M439.8 314.2h0M440.1 314.2h0M440.4 314.2h0M440.7 314.2h0M441.0 314.2h0M441.3 314.2h0M441.6 314.2h0M441.9 314.2h0M442.2 314.2h0M442.5 314.2h0M442.8 314.2h0M443.1 314.2h0M443.4 314.2h0M443.7 314.2h0M444.0 314.2h0M444.3 314.2h0M444.6 314.2h0M444.9 314.2h0M445.2 314.2h0M445.5 314.2h0M445.8 314.2h0M446.1 314.1h0M446.4 314.1h0M446.7 314.1h0M447.0 314.1h0M447.3 314.1h0M447.6 314.1h0M447.9 314.1h0M448.2 314.1h0M448.5 314.1h0M448.8 314.1h0M449.1 314.1h0M449.4 314.1h0M449.7 314.1h0M450.0 314.1h0M450.3 314.1h0M450.6 314.1h0M450.9 314.1h0M451.2 314.1h0M451.5 314.1h0M451.8 314.1h0M452.1 314.1h0M452.4 314.1h0M452.7 314.1h0M453.0 314.1h0M453.3 314.1h0M453.6 314.1h0M453.9 314.1h0M454.2 314.1h0M454.5 314.1h0M454.8 314.1h0M455.1 314.1h0M455.4 314.1h0M455.7 314.1h0M456.0 314.1h0M456.3 314.1h0M456.6 314.1h0M456.9 314.1h0M457.2 314.1h0M457.5 314.1h0M457.8 314.1h0M458.1 314.0h0M458.4 314.0h0M458.7 314.0h0M459.0 314.0h0M459.3 314.0h0M459.6 314.0h0M459.9 314.0h0M460.2 314.0h0M460.5 314.0h0M460.8 314.0h0M461.1 314.0h0M461.4 314.0h0M461.7 314.0h0M462.0 314.0h0M462.3 314.0h0M462.6 314.0h0M462.9 314.0h0M463.2 314.0h0M463.5 314.0h0M463.8 314.0h0M464.1 314.0h0M464.4 314.0h0M464.7 314.0h0M465.0 314.0h0M465.3 314.0h0M465.6 314.0h0M465.9 313.9h0M466.2 313.9h0M466.5 313.9h0M466.8 313.9h0M467.1 313.9h0M467.4 313.9h0M467.7 313.9h0M468.0 313.9h0M468.3 313.9h0M468.6 313.9h0M468.9 313.9h0M469.2 313.9h0M469.5 313.9h0M469.8 313.9h0M470.1 313.9h0M470.4 313.9h0M470.7 314.0h0M471.0 313.9h0M471.3 313.9h0M471.6 313.9h0M471.9 313.9h0M472.2 313.8h0M472.5 313.7h0M472.8 313.5h0M473.1 313.3h0M473.4 313.0h0M473.7 312.7h0M474.0 312.3h0M474.3 311.7h0M474.6 311.0h0M474.9 309.5h0M475.2 305.4h0M475.5 298.3h0M475.8 294.0h0M476.1 291.2h0M476.4 289.3h0M476.7 288.2h0M477.0 287.4h0M477.3 286.8h0M477.6 286.2h0M477.9 285.7h0M478.2 285.2h0M478.5 284.7h0M478.8 284.4h0M479.1 284.0h0M479.4 283.7h0M479.7 283.4h0M480.0 283.1h0M480.3 282.8h0M480.6 282.4h0M480.9 282.1h0M481.2 281.8h0M481.5 281.4h0M481.8 281.1h0M482.1 280.7h0M482.4 280.4h0M482.7 280.0h0M483.0 279.7h0M483.3 279.3h0M483.6 279.0h0M483.9 278.6h0M484.2 278.3h0M484.5 277.9h0M484.8 277.6h0M485.1 277.2h0M485.4 276.9h0M485.7 276.5h0M486.0 276.2h0M486.3 275.8h0M486.6 275.5h0M486.9 275.1h0M487.2 274.7h0M487.5 274.4h0M487.8 274.0h0M488.1 273.6h0M488.4 273.2h0M488.7 272.9h0M489.0 272.5h0M489.3 272.1h0M489.6 271.7h0M489.9 271.3h0M490.2 270.9h0M490.5 270.5h0M490.8 270.1h0M491.1 269.7h0M491.4 269.3h0M491.7 268.9h0M492.0 268.5h0M492.3 268.1h0M492.6 267.6h0M492.9 267.2h0M493.2 266.8h0M493.5 266.3h0M493.8 265.9h0M494.1 265.5h0M494.4 265.0h0M494.7 264.6h0M495.0 264.2h0M495.3 263.7h0M495.6 263.3h0M495.9 262.9h0M496.2 262.4h0M496.5 262.0h0M496.8 261.6h0M497.1 261.1h0M497.4 260.7h0M497.7 260.3h0M498.0 259.9h0M498.3 259.4h0M498.6 259.0h0M498.9 258.6h0M499.2 258.2h0M499.5 257.8h0M499.8 257.3h0M500.1 256.9h0M500.4 256.5h0M500.7 256.1h0M501.0 255.7h0M501.3 255.2h0M501.6 254.8h0M501.9 254.4h0M502.2 254.0h0M502.5 253.6h0M502.8 253.2h0M503.1 252.7h0M503.4 252.3h0M503.7 251.9h0M504.0 251.5h0M504.3 251.1h0M504.6 250.7h0M504.9 250.3h0M505.2 249.8h0M505.5 249.4h0M505.8 249.0h0M506.1 248.6h0M506.4 248.2h0M506.7 247.8h0M507.0 247.4h0M507.3 247.0h0M507.6 246.5h0M507.9 246.1h0M508.2 245.7h0M508.5 245.3h0M508.8 244.9h0M509.1 244.5h0M509.4 244.1h0M509.7 243.7h0M510.0 243.3h0M510.3 242.9h0M510.6 242.5h0M510.9 242.1h0M511.2 241.7h0M511.5 241.3h0M511.8 240.9h0M512.1 240.5h0M512.4 240.1h0M512.7 239.7h0M513.0 239.3h0M513.3 238.9h0M513.6 238.5h0M513.9 238.1h0M514.2 237.7h0M514.5 237.3h0M514.8 236.9h0M515.1 236.5h0M515.4 236.1h0M515.7 235.7h0M516.0 235.3h0M516.3 234.9h0M516.6 234.5h0M516.9 234.1h0M517.2 233.7h0M517.5 233.3h0M517.8 232.9h0" fill="none" stroke="#0000ff" stroke-width="2.8" stroke-linecap="round"/>
<rect x="308" y="233" width="218.5" height="163.2" fill="none" stroke="#a3a3a3" stroke-width="1.3"/>
<path d="M417.3 233v1.8M417.3 396.2v-1.8M308 314.3h1.8M526.5 314.3h-1.8" stroke="#555" stroke-width="1" fill="none"/>
<text x="22.6" y="6.7" font-size="9.8" text-anchor="end" font-weight="normal" fill="#1a1a1a" stroke="#111" stroke-width="0.3">6</text>
<text x="22.3" y="88.3" font-size="9.8" text-anchor="end" font-weight="normal" fill="#1a1a1a" stroke="#111" stroke-width="0.3">0</text>
<text x="22.7" y="170.4" font-size="9.8" text-anchor="end" font-weight="normal" fill="#1a1a1a" stroke="#111" stroke-width="0.3">-6</text>
<text x="24.75" y="178.6" font-size="9.8" text-anchor="middle" font-weight="normal" fill="#1a1a1a" stroke="#111" stroke-width="0.3">-7</text>
<text x="134.5" y="178.6" font-size="9.8" text-anchor="middle" font-weight="normal" fill="#1a1a1a" stroke="#111" stroke-width="0.3">0</text>
<text x="244.0" y="178.6" font-size="9.8" text-anchor="middle" font-weight="normal" fill="#1a1a1a" stroke="#111" stroke-width="0.3">7</text>
<text x="134.3" y="191.0" font-size="10" text-anchor="middle" font-weight="normal" fill="#1a1a1a" stroke="#111" stroke-width="0.3" textLength="26.3" lengthAdjust="spacingAndGlyphs"><tspan font-family="Liberation Serif, serif">I</tspan> [mA]</text>
<text transform="translate(10.9,85.25) rotate(-90)" font-size="10" text-anchor="middle" fill="#1a1a1a" stroke="#111" stroke-width="0.3">V [mV]</text>
<text transform="translate(201.6,24.4) scale(0.86,1)" font-size="22.8" text-anchor="middle" font-weight="bold" fill="#000">a</text>
<text x="161" y="94.4" font-size="8.2" text-anchor="middle" font-weight="bold" fill="#007000" stroke="#007000" stroke-width="0.35">2T</text>
<text x="224.9" y="155.9" font-size="8.3" text-anchor="middle" font-weight="bold" fill="#0000ff" stroke="#0000ff" stroke-width="0.3" font-family="Liberation Serif, serif">0T</text>
<text x="305.2" y="11.6" font-size="9.8" text-anchor="end" font-weight="normal" fill="#1a1a1a" stroke="#111" stroke-width="0.3">5</text>
<text x="305.2" y="88.9" font-size="9.8" text-anchor="end" font-weight="normal" fill="#1a1a1a" stroke="#111" stroke-width="0.3">0</text>
<text x="305.2" y="166.2" font-size="9.8" text-anchor="end" font-weight="normal" fill="#1a1a1a" stroke="#111" stroke-width="0.3">-5</text>
<text x="314.6" y="178.8" font-size="9.8" text-anchor="middle" font-weight="normal" fill="#1a1a1a" stroke="#111" stroke-width="0.3">-7</text>
<text x="417.3" y="178.7" font-size="9.8" text-anchor="middle" font-weight="normal" fill="#1a1a1a" stroke="#111" stroke-width="0.3">0</text>
<text x="520.2" y="178.7" font-size="9.8" text-anchor="middle" font-weight="normal" fill="#1a1a1a" stroke="#111" stroke-width="0.3">7</text>
<text x="417.2" y="191.0" font-size="10" text-anchor="middle" font-weight="normal" fill="#1a1a1a" stroke="#111" stroke-width="0.3" textLength="26.3" lengthAdjust="spacingAndGlyphs"><tspan font-family="Liberation Serif, serif">I</tspan> [mA]</text>
<text transform="translate(294.0,85.35) rotate(-90)" font-size="10" text-anchor="middle" fill="#1a1a1a" stroke="#111" stroke-width="0.3">V [mV]</text>
<text transform="translate(485.9,24.1) scale(0.92,1)" font-size="24" text-anchor="middle" font-weight="bold" fill="#000">b</text>
<text x="431.0" y="88.2" font-size="6.7" text-anchor="middle" font-weight="bold" fill="#c000c8" stroke="#c000c8" stroke-width="0.35">5.85K</text>
<text x="505.1" y="138.3" font-size="7.0" text-anchor="middle" font-weight="bold" fill="#0000ff" stroke="#0000ff" stroke-width="0.45">3K</text>
<text x="22.1" y="253.0" font-size="9.8" text-anchor="end" font-weight="normal" fill="#1a1a1a" stroke="#111" stroke-width="0.3">8</text>
<text x="22.1" y="290.2" font-size="9.8" text-anchor="end" font-weight="normal" fill="#1a1a1a" stroke="#111" stroke-width="0.3">6</text>
<text x="22.1" y="326.4" font-size="9.8" text-anchor="end" font-weight="normal" fill="#1a1a1a" stroke="#111" stroke-width="0.3">4</text>
<text x="22.1" y="363.8" font-size="9.8" text-anchor="end" font-weight="normal" fill="#1a1a1a" stroke="#111" stroke-width="0.3">2</text>
<text x="22.1" y="400.0" font-size="9.8" text-anchor="end" font-weight="normal" fill="#1a1a1a" stroke="#111" stroke-width="0.3">0</text>
<text x="24.85" y="408.9" font-size="9.8" text-anchor="middle" font-weight="normal" fill="#1a1a1a" stroke="#111" stroke-width="0.3">0</text>
<text x="79.3" y="408.9" font-size="9.8" text-anchor="middle" font-weight="normal" fill="#1a1a1a" stroke="#111" stroke-width="0.3">0.5</text>
<text x="134.7" y="408.9" font-size="9.8" text-anchor="middle" font-weight="normal" fill="#1a1a1a" stroke="#111" stroke-width="0.3">1</text>
<text x="189.7" y="408.9" font-size="9.8" text-anchor="middle" font-weight="normal" fill="#1a1a1a" stroke="#111" stroke-width="0.3">1.5</text>
<text x="243.9" y="408.9" font-size="9.8" text-anchor="middle" font-weight="normal" fill="#1a1a1a" stroke="#111" stroke-width="0.3">2</text>
<text x="56.25" y="244.8" font-size="9.8" text-anchor="middle" font-weight="normal" fill="#1a1a1a" stroke="#111" stroke-width="0.3">3</text>
<text x="118.7" y="244.8" font-size="9.8" text-anchor="middle" font-weight="normal" fill="#1a1a1a" stroke="#111" stroke-width="0.3">4</text>
<text x="181.2" y="244.8" font-size="9.8" text-anchor="middle" font-weight="normal" fill="#1a1a1a" stroke="#111" stroke-width="0.3">5</text>
<text x="243.8" y="244.8" font-size="9.8" text-anchor="middle" font-weight="normal" fill="#1a1a1a" stroke="#111" stroke-width="0.3">6</text>
<text x="134" y="231.1" font-size="10.3" text-anchor="middle" font-weight="normal" fill="#1a1a1a" stroke="#111" stroke-width="0.3" textLength="75.2" lengthAdjust="spacingAndGlyphs">Temperature [K]</text>
<text x="135.1" y="421.7" font-size="10.3" text-anchor="middle" font-weight="normal" fill="#1a1a1a" stroke="#111" stroke-width="0.3" textLength="80" lengthAdjust="spacingAndGlyphs">Magnetic field [T]</text>
<text transform="translate(8.5,322.75) rotate(-90)" font-size="10.8" text-anchor="middle" fill="#1a1a1a" stroke="#111" stroke-width="0.3"><tspan font-family="Liberation Serif, serif" font-size="11.5">I</tspan><tspan font-size="7.2" dy="2.6">t</tspan><tspan dy="-2.6"> [mA]</tspan></text>
<text transform="translate(201.2,274.7) scale(0.82,1)" font-size="23.5" text-anchor="middle" font-weight="bold" fill="#000">c</text>
<text x="305.5" y="236.6" font-size="9.8" text-anchor="end" font-weight="normal" fill="#1a1a1a" stroke="#111" stroke-width="0.3">5</text>
<text x="305.1" y="318.0" font-size="9.8" text-anchor="end" font-weight="normal" fill="#1a1a1a" stroke="#111" stroke-width="0.3">0</text>
<text x="305.5" y="399.5" font-size="9.8" text-anchor="end" font-weight="normal" fill="#1a1a1a" stroke="#111" stroke-width="0.3">-5</text>
<text x="307.9" y="408.6" font-size="9.8" text-anchor="middle" font-weight="normal" fill="#1a1a1a" stroke="#111" stroke-width="0.3">-3.5</text>
<text x="417.4" y="408.0" font-size="9.8" text-anchor="middle" font-weight="normal" fill="#1a1a1a" stroke="#111" stroke-width="0.3">0</text>
<text x="527.0" y="408.5" font-size="9.8" text-anchor="middle" font-weight="normal" fill="#1a1a1a" stroke="#111" stroke-width="0.3">3.5</text>
<text x="417.4" y="420.3" font-size="10" text-anchor="middle" font-weight="normal" fill="#1a1a1a" stroke="#111" stroke-width="0.3" textLength="26.3" lengthAdjust="spacingAndGlyphs"><tspan font-family="Liberation Serif, serif">I</tspan> [mA]</text>
<text transform="translate(295.0,314.7) rotate(-90)" font-size="10" text-anchor="middle" fill="#1a1a1a" stroke="#111" stroke-width="0.3">V [mV]</text>
<text transform="translate(482.4,257.0) scale(0.91,1)" font-size="23.5" text-anchor="middle" font-weight="bold" fill="#000">d</text>
</svg>
</body></html>
